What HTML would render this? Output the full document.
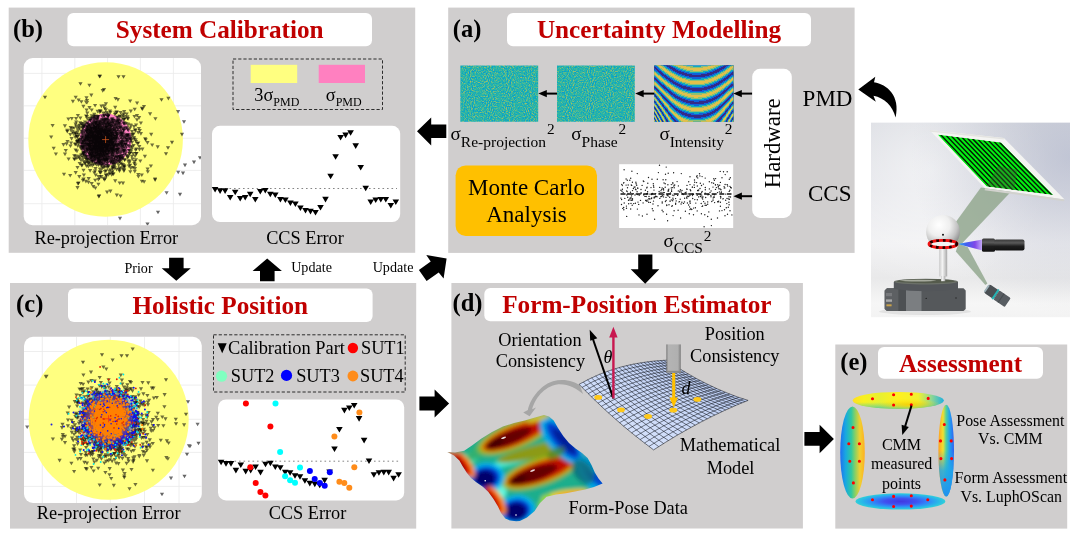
<!DOCTYPE html>
<html><head><meta charset="utf-8"><title>Framework</title>
<style>html,body{margin:0;padding:0;background:#fff;}svg{display:block;will-change:transform}text{font-family:"Liberation Serif",serif;}</style>
</head><body>
<svg width="1080" height="537" viewBox="0 0 1080 537">
<rect width="1080" height="537" fill="#fff"/>
<rect x="8.7" y="7.6" width="406.5" height="245.2" rx="0" fill="#D0CECE" />
<rect x="448.2" y="7.6" width="406.4" height="245.3" rx="0" fill="#D0CECE" />
<rect x="10.0" y="283.0" width="406.2" height="245.6" rx="0" fill="#D0CECE" />
<rect x="451.4" y="283.0" width="351.5" height="245.5" rx="0" fill="#D0CECE" />
<rect x="835.3" y="344.5" width="231.9" height="184.1" rx="0" fill="#D0CECE" />
<rect x="67.4" y="13.0" width="304.6" height="33.3" rx="6" fill="#fff" />
<text x="219.7" y="38.2" font-size="25.2" text-anchor="middle" font-weight="bold" fill="#C00000" >System Calibration</text>
<rect x="507.0" y="13.0" width="304.0" height="33.3" rx="6" fill="#fff" />
<text x="659.0" y="38.2" font-size="25.2" text-anchor="middle" font-weight="bold" fill="#C00000" >Uncertainty Modelling</text>
<rect x="68.0" y="288.5" width="304.6" height="33.5" rx="6" fill="#fff" />
<text x="220.3" y="313.9" font-size="25.2" text-anchor="middle" font-weight="bold" fill="#C00000" >Holistic Position</text>
<rect x="484.3" y="288.0" width="305.2" height="33.2" rx="6" fill="#fff" />
<text x="636.9" y="313.2" font-size="25.2" text-anchor="middle" font-weight="bold" fill="#C00000" >Form-Position Estimator</text>
<rect x="878.0" y="347.0" width="165.0" height="31.7" rx="6" fill="#fff" />
<text x="960.5" y="371.8" font-size="25.2" text-anchor="middle" font-weight="bold" fill="#C00000" >Assessment</text>
<text x="13.0" y="36.8" font-size="24.5" text-anchor="start" font-weight="bold" fill="#000" >(b)</text>
<text x="452.8" y="36.5" font-size="24.5" text-anchor="start" font-weight="bold" fill="#000" >(a)</text>
<text x="16.1" y="312.3" font-size="24.5" text-anchor="start" font-weight="bold" fill="#000" >(c)</text>
<text x="452.5" y="311.2" font-size="24.5" text-anchor="start" font-weight="bold" fill="#000" >(d)</text>
<text x="840.3" y="370.2" font-size="24.5" text-anchor="start" font-weight="bold" fill="#000" >(e)</text>
<clipPath id="scb"><rect x="23.7" y="58" width="177.3" height="167.2" rx="9"/></clipPath>
<rect x="23.7" y="58.0" width="177.3" height="167.2" rx="9" fill="#fff" />
<g clip-path="url(#scb)">
<path d="M41.9 58V225.2M74.8 58V225.2M107.6 58V225.2M140.4 58V225.2M173.4 58V225.2M23.7 73.4H201M23.7 105.8H201M23.7 138.2H201M23.7 170.4H201M23.7 203.7H201" stroke="#EAEAEA" stroke-width="0.8" fill="none"/>
<circle cx="105.6" cy="139.5" r="77.3" fill="#FFFF80"/>
<circle cx="105.6" cy="139.6" r="26" fill="#FF80C0"/>
<path d="M85.4 142.5h4.2l-2.1 3.6zM106.8 133.6h4.2l-2.1 3.6zM84.4 138.0h4.2l-2.1 3.6zM101.8 149.7h4.2l-2.1 3.6zM85.5 125.8h4.2l-2.1 3.6zM104.0 143.4h4.2l-2.1 3.6zM111.9 148.5h4.2l-2.1 3.6zM96.2 136.0h4.2l-2.1 3.6zM121.9 135.8h4.2l-2.1 3.6zM89.7 127.3h4.2l-2.1 3.6zM98.1 140.2h4.2l-2.1 3.6zM93.9 138.1h4.2l-2.1 3.6zM99.8 145.6h4.2l-2.1 3.6zM107.7 140.8h4.2l-2.1 3.6zM80.0 145.7h4.2l-2.1 3.6zM83.6 137.0h4.2l-2.1 3.6zM83.1 138.7h4.2l-2.1 3.6zM89.7 140.8h4.2l-2.1 3.6zM128.9 138.2h4.2l-2.1 3.6zM105.3 125.5h4.2l-2.1 3.6zM94.4 145.3h4.2l-2.1 3.6zM96.3 142.4h4.2l-2.1 3.6zM98.2 128.6h4.2l-2.1 3.6zM102.6 130.6h4.2l-2.1 3.6zM115.2 133.6h4.2l-2.1 3.6zM103.8 138.7h4.2l-2.1 3.6zM106.3 132.7h4.2l-2.1 3.6zM106.8 137.5h4.2l-2.1 3.6zM109.3 144.9h4.2l-2.1 3.6zM98.6 130.9h4.2l-2.1 3.6zM104.6 143.4h4.2l-2.1 3.6zM113.0 134.9h4.2l-2.1 3.6zM102.5 143.8h4.2l-2.1 3.6zM99.9 140.8h4.2l-2.1 3.6zM98.9 132.7h4.2l-2.1 3.6zM87.5 134.7h4.2l-2.1 3.6zM102.9 153.8h4.2l-2.1 3.6zM106.6 149.2h4.2l-2.1 3.6zM104.7 145.7h4.2l-2.1 3.6zM99.0 146.4h4.2l-2.1 3.6zM114.2 135.4h4.2l-2.1 3.6zM90.5 158.3h4.2l-2.1 3.6zM99.5 148.4h4.2l-2.1 3.6zM105.6 127.3h4.2l-2.1 3.6zM120.6 156.5h4.2l-2.1 3.6zM98.9 146.2h4.2l-2.1 3.6zM98.4 129.9h4.2l-2.1 3.6zM96.1 142.4h4.2l-2.1 3.6zM107.9 145.8h4.2l-2.1 3.6zM97.8 152.2h4.2l-2.1 3.6zM89.9 146.6h4.2l-2.1 3.6zM107.9 135.8h4.2l-2.1 3.6zM80.0 129.6h4.2l-2.1 3.6zM99.5 144.0h4.2l-2.1 3.6zM112.1 128.7h4.2l-2.1 3.6zM97.2 145.2h4.2l-2.1 3.6zM95.7 115.0h4.2l-2.1 3.6zM104.9 161.8h4.2l-2.1 3.6zM106.8 129.5h4.2l-2.1 3.6zM93.2 140.9h4.2l-2.1 3.6zM121.1 144.9h4.2l-2.1 3.6zM98.3 154.3h4.2l-2.1 3.6zM96.4 157.3h4.2l-2.1 3.6zM90.6 134.0h4.2l-2.1 3.6zM104.1 152.9h4.2l-2.1 3.6zM103.5 141.7h4.2l-2.1 3.6zM79.7 131.6h4.2l-2.1 3.6zM91.3 133.4h4.2l-2.1 3.6zM102.8 135.3h4.2l-2.1 3.6zM104.8 139.5h4.2l-2.1 3.6zM94.0 139.9h4.2l-2.1 3.6zM101.3 147.3h4.2l-2.1 3.6zM92.6 136.4h4.2l-2.1 3.6zM84.1 154.7h4.2l-2.1 3.6zM111.1 136.9h4.2l-2.1 3.6zM92.6 126.3h4.2l-2.1 3.6zM98.8 140.8h4.2l-2.1 3.6zM118.1 141.2h4.2l-2.1 3.6zM89.7 114.3h4.2l-2.1 3.6zM110.7 140.6h4.2l-2.1 3.6zM81.8 140.5h4.2l-2.1 3.6zM81.8 173.5h4.2l-2.1 3.6zM107.9 144.4h4.2l-2.1 3.6zM95.5 117.3h4.2l-2.1 3.6zM96.0 123.2h4.2l-2.1 3.6zM102.9 117.3h4.2l-2.1 3.6zM88.5 150.9h4.2l-2.1 3.6zM113.0 126.9h4.2l-2.1 3.6zM82.5 147.5h4.2l-2.1 3.6zM105.4 128.8h4.2l-2.1 3.6zM90.5 131.8h4.2l-2.1 3.6zM85.8 131.9h4.2l-2.1 3.6zM109.2 145.6h4.2l-2.1 3.6zM116.9 137.8h4.2l-2.1 3.6zM95.9 128.9h4.2l-2.1 3.6zM96.0 125.6h4.2l-2.1 3.6zM80.1 145.7h4.2l-2.1 3.6zM111.0 147.1h4.2l-2.1 3.6zM110.0 141.2h4.2l-2.1 3.6zM90.3 139.6h4.2l-2.1 3.6zM93.6 127.6h4.2l-2.1 3.6zM81.0 123.9h4.2l-2.1 3.6zM97.1 140.2h4.2l-2.1 3.6zM92.6 153.0h4.2l-2.1 3.6zM98.9 144.5h4.2l-2.1 3.6zM108.9 130.5h4.2l-2.1 3.6zM78.3 146.2h4.2l-2.1 3.6zM90.6 151.8h4.2l-2.1 3.6zM100.4 148.8h4.2l-2.1 3.6zM104.5 117.9h4.2l-2.1 3.6zM104.1 132.0h4.2l-2.1 3.6zM89.9 134.3h4.2l-2.1 3.6zM104.6 147.5h4.2l-2.1 3.6zM106.9 122.1h4.2l-2.1 3.6zM91.5 114.9h4.2l-2.1 3.6zM96.2 144.7h4.2l-2.1 3.6zM89.9 141.1h4.2l-2.1 3.6zM99.4 148.8h4.2l-2.1 3.6zM89.3 130.4h4.2l-2.1 3.6zM89.9 156.2h4.2l-2.1 3.6zM107.7 137.5h4.2l-2.1 3.6zM99.4 139.8h4.2l-2.1 3.6zM99.1 136.6h4.2l-2.1 3.6zM94.0 126.1h4.2l-2.1 3.6zM91.0 155.2h4.2l-2.1 3.6zM102.4 139.3h4.2l-2.1 3.6zM95.1 139.3h4.2l-2.1 3.6zM100.6 132.2h4.2l-2.1 3.6zM99.1 141.1h4.2l-2.1 3.6zM90.0 130.8h4.2l-2.1 3.6zM87.6 128.1h4.2l-2.1 3.6zM105.7 115.1h4.2l-2.1 3.6zM94.6 132.6h4.2l-2.1 3.6zM91.2 139.7h4.2l-2.1 3.6zM108.0 139.5h4.2l-2.1 3.6zM95.9 132.6h4.2l-2.1 3.6zM96.0 147.8h4.2l-2.1 3.6zM93.4 127.2h4.2l-2.1 3.6zM85.1 127.6h4.2l-2.1 3.6zM83.9 149.7h4.2l-2.1 3.6zM100.6 136.3h4.2l-2.1 3.6zM111.2 132.1h4.2l-2.1 3.6zM104.4 146.7h4.2l-2.1 3.6zM82.4 123.1h4.2l-2.1 3.6zM88.3 147.8h4.2l-2.1 3.6zM109.6 126.4h4.2l-2.1 3.6zM107.3 134.9h4.2l-2.1 3.6zM93.4 133.2h4.2l-2.1 3.6zM94.1 120.5h4.2l-2.1 3.6zM87.6 126.3h4.2l-2.1 3.6zM101.9 159.6h4.2l-2.1 3.6zM123.4 135.3h4.2l-2.1 3.6zM80.7 134.6h4.2l-2.1 3.6zM88.2 158.5h4.2l-2.1 3.6zM102.7 131.4h4.2l-2.1 3.6zM106.2 144.1h4.2l-2.1 3.6zM81.6 133.4h4.2l-2.1 3.6zM94.9 138.9h4.2l-2.1 3.6zM98.5 135.3h4.2l-2.1 3.6zM99.0 132.8h4.2l-2.1 3.6zM88.6 153.9h4.2l-2.1 3.6zM100.7 143.1h4.2l-2.1 3.6zM81.9 137.0h4.2l-2.1 3.6zM105.1 125.8h4.2l-2.1 3.6zM107.7 134.8h4.2l-2.1 3.6zM101.1 137.4h4.2l-2.1 3.6zM99.3 150.7h4.2l-2.1 3.6zM93.3 154.3h4.2l-2.1 3.6zM89.7 129.4h4.2l-2.1 3.6zM104.0 128.0h4.2l-2.1 3.6zM93.6 147.8h4.2l-2.1 3.6zM108.8 121.0h4.2l-2.1 3.6zM102.1 157.5h4.2l-2.1 3.6zM108.7 136.3h4.2l-2.1 3.6zM91.4 135.7h4.2l-2.1 3.6zM86.1 136.1h4.2l-2.1 3.6zM95.4 137.2h4.2l-2.1 3.6zM108.6 136.4h4.2l-2.1 3.6zM83.2 149.2h4.2l-2.1 3.6zM86.9 134.2h4.2l-2.1 3.6zM95.9 135.3h4.2l-2.1 3.6zM87.6 136.2h4.2l-2.1 3.6zM118.2 132.6h4.2l-2.1 3.6zM95.9 149.9h4.2l-2.1 3.6zM104.3 146.3h4.2l-2.1 3.6zM105.5 119.0h4.2l-2.1 3.6zM88.9 140.0h4.2l-2.1 3.6zM102.0 151.6h4.2l-2.1 3.6zM101.7 136.3h4.2l-2.1 3.6zM97.6 136.6h4.2l-2.1 3.6zM99.6 145.4h4.2l-2.1 3.6zM93.9 130.6h4.2l-2.1 3.6zM89.0 149.7h4.2l-2.1 3.6zM109.5 148.6h4.2l-2.1 3.6zM105.4 147.0h4.2l-2.1 3.6zM97.2 145.3h4.2l-2.1 3.6zM87.1 136.7h4.2l-2.1 3.6zM90.2 146.0h4.2l-2.1 3.6zM91.6 137.6h4.2l-2.1 3.6zM101.0 152.2h4.2l-2.1 3.6zM89.6 129.3h4.2l-2.1 3.6zM105.0 127.6h4.2l-2.1 3.6zM101.5 133.0h4.2l-2.1 3.6zM96.2 120.5h4.2l-2.1 3.6zM104.0 133.7h4.2l-2.1 3.6zM88.6 159.5h4.2l-2.1 3.6zM104.0 173.8h4.2l-2.1 3.6zM101.1 135.2h4.2l-2.1 3.6zM98.2 154.8h4.2l-2.1 3.6zM96.9 143.2h4.2l-2.1 3.6zM102.2 129.6h4.2l-2.1 3.6zM98.4 133.7h4.2l-2.1 3.6zM85.2 147.4h4.2l-2.1 3.6zM103.6 139.4h4.2l-2.1 3.6zM88.5 118.6h4.2l-2.1 3.6zM101.9 137.7h4.2l-2.1 3.6zM81.0 138.1h4.2l-2.1 3.6zM82.6 138.4h4.2l-2.1 3.6zM98.6 142.2h4.2l-2.1 3.6zM99.3 140.4h4.2l-2.1 3.6zM86.3 134.9h4.2l-2.1 3.6zM92.3 136.3h4.2l-2.1 3.6zM99.8 144.9h4.2l-2.1 3.6zM112.9 113.0h4.2l-2.1 3.6zM101.1 136.7h4.2l-2.1 3.6zM119.1 148.0h4.2l-2.1 3.6zM81.3 142.7h4.2l-2.1 3.6zM92.2 148.6h4.2l-2.1 3.6zM87.1 137.7h4.2l-2.1 3.6zM95.9 137.7h4.2l-2.1 3.6zM91.6 120.3h4.2l-2.1 3.6zM101.6 148.7h4.2l-2.1 3.6zM96.5 128.5h4.2l-2.1 3.6zM99.1 144.4h4.2l-2.1 3.6zM95.5 138.6h4.2l-2.1 3.6zM110.7 127.5h4.2l-2.1 3.6zM91.8 119.6h4.2l-2.1 3.6zM90.5 131.3h4.2l-2.1 3.6zM88.0 131.8h4.2l-2.1 3.6zM114.5 136.7h4.2l-2.1 3.6zM96.1 160.7h4.2l-2.1 3.6zM96.6 121.4h4.2l-2.1 3.6zM101.1 129.3h4.2l-2.1 3.6zM112.9 126.2h4.2l-2.1 3.6zM91.6 122.6h4.2l-2.1 3.6zM98.1 128.5h4.2l-2.1 3.6zM96.6 134.9h4.2l-2.1 3.6zM91.3 148.1h4.2l-2.1 3.6zM106.2 139.3h4.2l-2.1 3.6zM88.6 128.0h4.2l-2.1 3.6zM99.8 162.6h4.2l-2.1 3.6zM92.8 130.9h4.2l-2.1 3.6zM90.5 127.7h4.2l-2.1 3.6zM87.9 136.6h4.2l-2.1 3.6zM111.0 138.7h4.2l-2.1 3.6zM92.3 122.6h4.2l-2.1 3.6zM99.2 138.4h4.2l-2.1 3.6zM85.4 127.8h4.2l-2.1 3.6zM96.8 148.8h4.2l-2.1 3.6zM103.2 140.8h4.2l-2.1 3.6zM94.1 141.9h4.2l-2.1 3.6zM97.1 160.4h4.2l-2.1 3.6zM86.3 135.0h4.2l-2.1 3.6zM109.4 136.0h4.2l-2.1 3.6zM110.9 138.3h4.2l-2.1 3.6zM98.6 135.0h4.2l-2.1 3.6zM83.9 129.0h4.2l-2.1 3.6zM118.5 145.2h4.2l-2.1 3.6zM103.0 148.2h4.2l-2.1 3.6zM102.7 148.9h4.2l-2.1 3.6zM94.6 136.5h4.2l-2.1 3.6zM106.6 135.2h4.2l-2.1 3.6zM84.4 136.4h4.2l-2.1 3.6zM92.0 144.8h4.2l-2.1 3.6zM90.3 128.1h4.2l-2.1 3.6zM94.0 154.2h4.2l-2.1 3.6zM96.7 140.3h4.2l-2.1 3.6zM97.3 141.7h4.2l-2.1 3.6zM106.1 152.7h4.2l-2.1 3.6zM81.4 152.3h4.2l-2.1 3.6zM97.2 135.5h4.2l-2.1 3.6zM120.2 137.0h4.2l-2.1 3.6zM115.9 148.4h4.2l-2.1 3.6zM87.3 143.6h4.2l-2.1 3.6zM104.3 137.4h4.2l-2.1 3.6zM74.9 135.3h4.2l-2.1 3.6zM95.4 127.6h4.2l-2.1 3.6zM114.7 136.3h4.2l-2.1 3.6zM93.4 135.7h4.2l-2.1 3.6zM89.7 130.9h4.2l-2.1 3.6zM106.2 147.2h4.2l-2.1 3.6zM96.3 140.1h4.2l-2.1 3.6zM81.8 150.8h4.2l-2.1 3.6zM92.3 145.5h4.2l-2.1 3.6zM89.7 132.7h4.2l-2.1 3.6zM108.2 120.5h4.2l-2.1 3.6zM145.4 141.1h4.2l-2.1 3.6zM103.5 128.8h4.2l-2.1 3.6zM131.0 166.0h4.2l-2.1 3.6zM109.6 117.8h4.2l-2.1 3.6zM96.4 152.5h4.2l-2.1 3.6zM96.3 121.0h4.2l-2.1 3.6zM85.1 128.2h4.2l-2.1 3.6zM104.9 130.3h4.2l-2.1 3.6zM105.0 190.6h4.2l-2.1 3.6zM134.0 123.5h4.2l-2.1 3.6zM110.4 143.2h4.2l-2.1 3.6zM102.4 160.0h4.2l-2.1 3.6zM99.2 136.0h4.2l-2.1 3.6zM98.5 139.9h4.2l-2.1 3.6zM125.9 155.3h4.2l-2.1 3.6zM82.6 134.0h4.2l-2.1 3.6zM91.5 156.0h4.2l-2.1 3.6zM108.4 157.3h4.2l-2.1 3.6zM103.7 108.3h4.2l-2.1 3.6zM112.1 145.7h4.2l-2.1 3.6zM113.1 118.9h4.2l-2.1 3.6zM106.0 129.7h4.2l-2.1 3.6zM93.4 147.9h4.2l-2.1 3.6zM110.5 126.1h4.2l-2.1 3.6zM76.5 98.4h4.2l-2.1 3.6zM95.2 161.3h4.2l-2.1 3.6zM103.8 102.3h4.2l-2.1 3.6zM90.5 149.1h4.2l-2.1 3.6zM132.3 162.1h4.2l-2.1 3.6zM110.8 145.2h4.2l-2.1 3.6zM87.2 133.8h4.2l-2.1 3.6zM99.2 128.2h4.2l-2.1 3.6zM105.7 134.8h4.2l-2.1 3.6zM110.3 166.8h4.2l-2.1 3.6zM116.9 149.0h4.2l-2.1 3.6zM100.7 115.1h4.2l-2.1 3.6zM102.8 151.2h4.2l-2.1 3.6zM88.1 163.6h4.2l-2.1 3.6zM99.2 148.2h4.2l-2.1 3.6zM99.3 119.7h4.2l-2.1 3.6zM138.8 121.4h4.2l-2.1 3.6zM119.9 132.0h4.2l-2.1 3.6zM109.3 127.6h4.2l-2.1 3.6zM97.8 157.8h4.2l-2.1 3.6zM136.8 126.9h4.2l-2.1 3.6zM104.9 158.3h4.2l-2.1 3.6zM94.3 154.1h4.2l-2.1 3.6zM91.8 152.3h4.2l-2.1 3.6zM111.9 162.9h4.2l-2.1 3.6zM110.7 120.8h4.2l-2.1 3.6zM115.7 122.4h4.2l-2.1 3.6zM117.1 168.1h4.2l-2.1 3.6zM114.5 132.0h4.2l-2.1 3.6zM124.4 144.6h4.2l-2.1 3.6zM84.2 135.5h4.2l-2.1 3.6zM128.1 136.4h4.2l-2.1 3.6zM106.7 135.7h4.2l-2.1 3.6zM76.9 132.8h4.2l-2.1 3.6zM110.6 145.3h4.2l-2.1 3.6zM101.8 104.3h4.2l-2.1 3.6zM124.9 154.3h4.2l-2.1 3.6zM121.6 164.5h4.2l-2.1 3.6zM97.4 131.1h4.2l-2.1 3.6zM109.9 171.0h4.2l-2.1 3.6zM76.9 137.7h4.2l-2.1 3.6zM92.9 151.5h4.2l-2.1 3.6zM128.9 136.5h4.2l-2.1 3.6zM84.2 142.6h4.2l-2.1 3.6zM100.0 114.7h4.2l-2.1 3.6zM119.3 132.5h4.2l-2.1 3.6zM116.0 118.7h4.2l-2.1 3.6zM122.8 116.5h4.2l-2.1 3.6zM122.1 110.0h4.2l-2.1 3.6zM127.5 135.1h4.2l-2.1 3.6zM79.0 137.6h4.2l-2.1 3.6zM110.3 124.4h4.2l-2.1 3.6zM96.6 146.4h4.2l-2.1 3.6zM101.9 88.1h4.2l-2.1 3.6zM97.6 149.2h4.2l-2.1 3.6zM109.6 159.4h4.2l-2.1 3.6zM93.3 186.4h4.2l-2.1 3.6zM117.9 147.2h4.2l-2.1 3.6zM122.6 158.4h4.2l-2.1 3.6zM106.4 130.8h4.2l-2.1 3.6zM121.6 149.1h4.2l-2.1 3.6zM73.5 122.4h4.2l-2.1 3.6zM112.4 143.6h4.2l-2.1 3.6zM109.3 152.9h4.2l-2.1 3.6zM107.1 169.4h4.2l-2.1 3.6zM95.0 134.7h4.2l-2.1 3.6zM110.0 154.7h4.2l-2.1 3.6zM117.7 167.7h4.2l-2.1 3.6zM96.8 162.1h4.2l-2.1 3.6zM112.4 123.5h4.2l-2.1 3.6zM102.4 178.2h4.2l-2.1 3.6zM117.7 133.5h4.2l-2.1 3.6zM65.1 128.8h4.2l-2.1 3.6zM93.1 143.0h4.2l-2.1 3.6zM142.8 154.8h4.2l-2.1 3.6zM109.9 125.3h4.2l-2.1 3.6zM85.1 138.1h4.2l-2.1 3.6zM97.0 194.3h4.2l-2.1 3.6zM98.0 130.9h4.2l-2.1 3.6zM123.3 143.1h4.2l-2.1 3.6zM84.3 164.3h4.2l-2.1 3.6zM99.6 118.4h4.2l-2.1 3.6zM110.0 150.2h4.2l-2.1 3.6zM99.1 153.9h4.2l-2.1 3.6zM118.2 126.3h4.2l-2.1 3.6zM70.8 99.8h4.2l-2.1 3.6zM102.6 163.2h4.2l-2.1 3.6zM121.2 166.1h4.2l-2.1 3.6zM135.3 142.0h4.2l-2.1 3.6zM122.1 114.9h4.2l-2.1 3.6zM116.1 148.6h4.2l-2.1 3.6zM103.1 134.0h4.2l-2.1 3.6zM86.3 144.2h4.2l-2.1 3.6zM125.8 135.3h4.2l-2.1 3.6zM113.5 130.1h4.2l-2.1 3.6zM108.9 124.1h4.2l-2.1 3.6zM110.9 137.9h4.2l-2.1 3.6zM109.9 131.1h4.2l-2.1 3.6zM85.3 135.9h4.2l-2.1 3.6zM121.8 169.3h4.2l-2.1 3.6zM99.3 155.7h4.2l-2.1 3.6zM117.2 148.6h4.2l-2.1 3.6zM79.1 147.4h4.2l-2.1 3.6zM88.7 162.3h4.2l-2.1 3.6zM117.7 152.5h4.2l-2.1 3.6zM62.9 152.6h4.2l-2.1 3.6zM116.2 119.3h4.2l-2.1 3.6zM120.7 143.0h4.2l-2.1 3.6zM101.7 129.2h4.2l-2.1 3.6zM87.9 134.1h4.2l-2.1 3.6zM155.6 145.3h4.2l-2.1 3.6zM108.1 130.4h4.2l-2.1 3.6zM94.5 132.0h4.2l-2.1 3.6zM90.1 157.0h4.2l-2.1 3.6zM100.2 156.9h4.2l-2.1 3.6zM85.6 158.0h4.2l-2.1 3.6zM104.3 153.4h4.2l-2.1 3.6zM103.0 126.2h4.2l-2.1 3.6zM124.7 134.1h4.2l-2.1 3.6zM102.3 126.2h4.2l-2.1 3.6zM108.1 134.9h4.2l-2.1 3.6zM109.4 147.7h4.2l-2.1 3.6zM93.3 117.0h4.2l-2.1 3.6zM111.8 157.8h4.2l-2.1 3.6zM116.2 121.7h4.2l-2.1 3.6zM114.7 148.4h4.2l-2.1 3.6zM109.4 149.2h4.2l-2.1 3.6zM99.4 145.5h4.2l-2.1 3.6zM120.0 132.9h4.2l-2.1 3.6zM80.9 139.9h4.2l-2.1 3.6zM107.9 109.4h4.2l-2.1 3.6zM93.5 152.0h4.2l-2.1 3.6zM102.2 143.3h4.2l-2.1 3.6zM83.9 157.6h4.2l-2.1 3.6zM133.6 138.2h4.2l-2.1 3.6zM92.6 121.4h4.2l-2.1 3.6zM119.4 143.5h4.2l-2.1 3.6zM91.6 162.9h4.2l-2.1 3.6zM117.3 152.3h4.2l-2.1 3.6zM75.7 139.9h4.2l-2.1 3.6zM115.0 120.3h4.2l-2.1 3.6zM120.0 166.7h4.2l-2.1 3.6zM121.8 129.1h4.2l-2.1 3.6zM93.0 158.2h4.2l-2.1 3.6zM121.1 163.2h4.2l-2.1 3.6zM124.5 140.0h4.2l-2.1 3.6zM97.9 109.2h4.2l-2.1 3.6zM117.6 181.5h4.2l-2.1 3.6zM97.1 133.4h4.2l-2.1 3.6zM115.4 148.2h4.2l-2.1 3.6zM82.1 129.2h4.2l-2.1 3.6zM86.6 177.1h4.2l-2.1 3.6zM92.9 156.6h4.2l-2.1 3.6zM136.3 174.9h4.2l-2.1 3.6zM128.2 170.2h4.2l-2.1 3.6zM84.3 135.7h4.2l-2.1 3.6zM92.7 136.6h4.2l-2.1 3.6zM148.0 112.3h4.2l-2.1 3.6zM113.9 120.1h4.2l-2.1 3.6zM126.8 164.4h4.2l-2.1 3.6zM96.3 177.9h4.2l-2.1 3.6zM105.9 164.5h4.2l-2.1 3.6zM109.8 131.9h4.2l-2.1 3.6zM98.4 139.6h4.2l-2.1 3.6zM114.9 143.9h4.2l-2.1 3.6zM143.6 138.3h4.2l-2.1 3.6zM97.0 129.1h4.2l-2.1 3.6zM91.9 116.5h4.2l-2.1 3.6zM88.4 157.6h4.2l-2.1 3.6zM105.7 138.7h4.2l-2.1 3.6zM110.5 160.4h4.2l-2.1 3.6zM114.9 155.2h4.2l-2.1 3.6zM95.5 137.1h4.2l-2.1 3.6zM91.9 140.0h4.2l-2.1 3.6zM91.2 135.2h4.2l-2.1 3.6zM101.8 137.9h4.2l-2.1 3.6zM100.3 133.1h4.2l-2.1 3.6zM126.3 135.7h4.2l-2.1 3.6zM88.0 145.1h4.2l-2.1 3.6zM86.7 122.9h4.2l-2.1 3.6zM106.1 112.5h4.2l-2.1 3.6zM51.6 146.7h4.2l-2.1 3.6zM121.8 112.5h4.2l-2.1 3.6zM89.9 151.8h4.2l-2.1 3.6zM71.9 126.4h4.2l-2.1 3.6zM84.8 138.2h4.2l-2.1 3.6zM72.1 157.4h4.2l-2.1 3.6zM102.3 147.0h4.2l-2.1 3.6zM99.3 104.6h4.2l-2.1 3.6zM102.2 118.2h4.2l-2.1 3.6zM104.9 126.8h4.2l-2.1 3.6zM99.5 138.0h4.2l-2.1 3.6zM117.4 155.1h4.2l-2.1 3.6zM88.1 141.4h4.2l-2.1 3.6zM128.8 150.3h4.2l-2.1 3.6zM87.8 145.3h4.2l-2.1 3.6zM99.3 175.1h4.2l-2.1 3.6zM110.7 159.2h4.2l-2.1 3.6zM176.0 110.1h4.2l-2.1 3.6zM79.3 100.2h4.2l-2.1 3.6zM61.9 172.7h4.2l-2.1 3.6zM118.5 194.4h4.2l-2.1 3.6zM50.5 124.0h4.2l-2.1 3.6zM153.0 177.5h4.2l-2.1 3.6zM136.2 173.1h4.2l-2.1 3.6zM110.7 148.4h4.2l-2.1 3.6zM110.7 172.3h4.2l-2.1 3.6zM104.8 157.7h4.2l-2.1 3.6zM153.3 117.2h4.2l-2.1 3.6z" fill="#000" fill-opacity="0.56"/>
<path d="M90.0 144.3h4.2l-2.1 3.6zM94.7 137.1h4.2l-2.1 3.6zM117.3 142.9h4.2l-2.1 3.6zM93.2 149.7h4.2l-2.1 3.6zM121.4 127.6h4.2l-2.1 3.6zM90.8 139.9h4.2l-2.1 3.6zM91.1 160.4h4.2l-2.1 3.6zM102.2 134.7h4.2l-2.1 3.6zM101.9 130.7h4.2l-2.1 3.6zM91.4 139.8h4.2l-2.1 3.6zM120.1 116.2h4.2l-2.1 3.6zM101.2 152.2h4.2l-2.1 3.6zM104.3 157.9h4.2l-2.1 3.6zM101.5 140.2h4.2l-2.1 3.6zM95.9 130.1h4.2l-2.1 3.6zM112.9 126.9h4.2l-2.1 3.6zM96.0 133.5h4.2l-2.1 3.6zM89.7 116.5h4.2l-2.1 3.6zM93.5 140.1h4.2l-2.1 3.6zM98.6 147.1h4.2l-2.1 3.6zM95.6 132.3h4.2l-2.1 3.6zM100.2 145.3h4.2l-2.1 3.6zM88.5 123.5h4.2l-2.1 3.6zM87.4 149.3h4.2l-2.1 3.6zM106.8 129.8h4.2l-2.1 3.6zM98.3 147.1h4.2l-2.1 3.6zM110.0 132.1h4.2l-2.1 3.6zM94.9 152.8h4.2l-2.1 3.6zM120.3 154.0h4.2l-2.1 3.6zM86.2 143.2h4.2l-2.1 3.6zM94.3 138.1h4.2l-2.1 3.6zM90.8 133.9h4.2l-2.1 3.6zM97.1 156.7h4.2l-2.1 3.6zM103.9 143.0h4.2l-2.1 3.6zM97.5 131.2h4.2l-2.1 3.6zM95.0 151.1h4.2l-2.1 3.6zM105.2 158.3h4.2l-2.1 3.6zM99.7 138.5h4.2l-2.1 3.6zM81.7 142.7h4.2l-2.1 3.6zM80.7 154.0h4.2l-2.1 3.6zM91.2 138.7h4.2l-2.1 3.6zM84.2 133.7h4.2l-2.1 3.6zM88.3 150.0h4.2l-2.1 3.6zM99.6 126.9h4.2l-2.1 3.6zM78.7 138.0h4.2l-2.1 3.6zM92.5 127.6h4.2l-2.1 3.6zM102.9 136.8h4.2l-2.1 3.6zM98.3 132.8h4.2l-2.1 3.6zM91.7 134.1h4.2l-2.1 3.6zM81.8 145.0h4.2l-2.1 3.6zM101.1 121.5h4.2l-2.1 3.6zM98.2 150.2h4.2l-2.1 3.6zM99.5 151.7h4.2l-2.1 3.6zM94.6 138.7h4.2l-2.1 3.6zM84.7 129.6h4.2l-2.1 3.6zM79.7 129.7h4.2l-2.1 3.6zM99.5 143.9h4.2l-2.1 3.6zM108.4 140.0h4.2l-2.1 3.6zM87.7 143.0h4.2l-2.1 3.6zM95.8 156.5h4.2l-2.1 3.6zM116.0 148.3h4.2l-2.1 3.6zM86.3 133.4h4.2l-2.1 3.6zM99.0 131.6h4.2l-2.1 3.6zM102.2 145.6h4.2l-2.1 3.6zM105.2 141.0h4.2l-2.1 3.6zM88.7 130.3h4.2l-2.1 3.6zM96.0 152.0h4.2l-2.1 3.6zM112.3 148.5h4.2l-2.1 3.6zM100.7 145.5h4.2l-2.1 3.6zM105.1 151.6h4.2l-2.1 3.6zM105.4 123.3h4.2l-2.1 3.6zM106.4 142.6h4.2l-2.1 3.6zM92.8 144.0h4.2l-2.1 3.6zM100.0 138.2h4.2l-2.1 3.6zM81.0 139.8h4.2l-2.1 3.6zM102.5 138.2h4.2l-2.1 3.6zM82.0 143.3h4.2l-2.1 3.6zM104.1 140.5h4.2l-2.1 3.6zM101.3 135.2h4.2l-2.1 3.6zM90.9 143.9h4.2l-2.1 3.6zM93.8 140.5h4.2l-2.1 3.6zM128.5 145.8h4.2l-2.1 3.6zM98.5 122.5h4.2l-2.1 3.6zM98.1 146.3h4.2l-2.1 3.6zM90.4 136.3h4.2l-2.1 3.6zM75.6 144.3h4.2l-2.1 3.6zM91.5 145.5h4.2l-2.1 3.6zM110.3 137.1h4.2l-2.1 3.6zM106.7 141.2h4.2l-2.1 3.6zM95.2 135.9h4.2l-2.1 3.6zM89.0 151.5h4.2l-2.1 3.6zM105.7 128.6h4.2l-2.1 3.6zM105.3 131.4h4.2l-2.1 3.6zM82.8 150.7h4.2l-2.1 3.6zM84.9 150.5h4.2l-2.1 3.6zM99.1 147.7h4.2l-2.1 3.6zM102.1 150.2h4.2l-2.1 3.6zM100.5 144.5h4.2l-2.1 3.6zM99.6 149.7h4.2l-2.1 3.6zM93.4 148.9h4.2l-2.1 3.6zM111.7 138.1h4.2l-2.1 3.6zM101.4 133.6h4.2l-2.1 3.6zM94.4 141.3h4.2l-2.1 3.6zM93.9 129.8h4.2l-2.1 3.6zM96.9 140.6h4.2l-2.1 3.6zM100.3 145.8h4.2l-2.1 3.6zM80.2 152.8h4.2l-2.1 3.6zM95.6 131.0h4.2l-2.1 3.6zM93.6 143.1h4.2l-2.1 3.6zM105.6 135.0h4.2l-2.1 3.6zM98.7 122.7h4.2l-2.1 3.6zM98.8 137.6h4.2l-2.1 3.6zM93.1 147.6h4.2l-2.1 3.6zM114.4 149.0h4.2l-2.1 3.6zM89.7 154.0h4.2l-2.1 3.6zM94.0 138.3h4.2l-2.1 3.6zM91.6 143.3h4.2l-2.1 3.6zM102.5 140.2h4.2l-2.1 3.6zM95.2 137.3h4.2l-2.1 3.6zM93.4 148.4h4.2l-2.1 3.6zM92.2 137.2h4.2l-2.1 3.6zM95.2 131.2h4.2l-2.1 3.6zM95.0 124.1h4.2l-2.1 3.6zM101.1 144.1h4.2l-2.1 3.6zM94.3 154.2h4.2l-2.1 3.6zM89.3 144.2h4.2l-2.1 3.6zM101.8 133.4h4.2l-2.1 3.6zM94.9 147.6h4.2l-2.1 3.6zM97.8 141.5h4.2l-2.1 3.6zM110.6 140.9h4.2l-2.1 3.6zM81.2 131.4h4.2l-2.1 3.6zM105.2 137.4h4.2l-2.1 3.6zM86.9 119.0h4.2l-2.1 3.6zM100.3 153.6h4.2l-2.1 3.6zM85.2 117.1h4.2l-2.1 3.6zM102.0 133.3h4.2l-2.1 3.6zM94.4 135.5h4.2l-2.1 3.6zM88.6 143.1h4.2l-2.1 3.6zM106.0 142.3h4.2l-2.1 3.6zM91.9 149.0h4.2l-2.1 3.6zM96.1 144.5h4.2l-2.1 3.6zM88.3 145.2h4.2l-2.1 3.6zM104.3 151.5h4.2l-2.1 3.6zM97.5 143.1h4.2l-2.1 3.6zM91.7 147.5h4.2l-2.1 3.6zM104.6 149.4h4.2l-2.1 3.6zM93.5 126.6h4.2l-2.1 3.6zM96.6 136.6h4.2l-2.1 3.6zM90.1 144.7h4.2l-2.1 3.6zM106.2 142.6h4.2l-2.1 3.6zM107.8 142.6h4.2l-2.1 3.6zM87.9 132.9h4.2l-2.1 3.6zM93.8 145.5h4.2l-2.1 3.6zM106.0 140.1h4.2l-2.1 3.6zM106.8 130.6h4.2l-2.1 3.6zM96.1 153.5h4.2l-2.1 3.6zM101.4 149.1h4.2l-2.1 3.6zM79.3 122.2h4.2l-2.1 3.6zM89.0 148.7h4.2l-2.1 3.6zM112.6 132.6h4.2l-2.1 3.6zM87.9 128.7h4.2l-2.1 3.6zM88.8 144.2h4.2l-2.1 3.6zM94.2 157.3h4.2l-2.1 3.6zM104.1 132.0h4.2l-2.1 3.6zM99.5 137.2h4.2l-2.1 3.6zM104.7 147.7h4.2l-2.1 3.6zM93.9 147.5h4.2l-2.1 3.6zM102.6 137.9h4.2l-2.1 3.6zM99.6 145.4h4.2l-2.1 3.6zM94.2 132.1h4.2l-2.1 3.6zM109.2 138.8h4.2l-2.1 3.6zM91.6 143.3h4.2l-2.1 3.6zM83.3 139.3h4.2l-2.1 3.6zM84.4 134.5h4.2l-2.1 3.6zM80.4 131.7h4.2l-2.1 3.6zM105.7 136.9h4.2l-2.1 3.6zM85.8 155.8h4.2l-2.1 3.6zM91.3 153.3h4.2l-2.1 3.6zM92.3 124.4h4.2l-2.1 3.6zM114.6 134.5h4.2l-2.1 3.6zM104.4 150.4h4.2l-2.1 3.6zM84.9 139.5h4.2l-2.1 3.6zM91.8 144.7h4.2l-2.1 3.6zM97.1 126.3h4.2l-2.1 3.6zM97.8 146.2h4.2l-2.1 3.6zM94.5 144.3h4.2l-2.1 3.6zM92.2 138.3h4.2l-2.1 3.6zM100.5 140.2h4.2l-2.1 3.6zM109.2 148.1h4.2l-2.1 3.6zM105.2 145.8h4.2l-2.1 3.6zM98.7 127.4h4.2l-2.1 3.6zM107.3 155.8h4.2l-2.1 3.6zM99.4 136.3h4.2l-2.1 3.6zM96.9 150.6h4.2l-2.1 3.6zM100.0 129.1h4.2l-2.1 3.6zM95.6 131.3h4.2l-2.1 3.6zM95.4 130.0h4.2l-2.1 3.6zM89.1 153.3h4.2l-2.1 3.6zM107.1 123.0h4.2l-2.1 3.6zM88.1 134.4h4.2l-2.1 3.6zM93.6 125.2h4.2l-2.1 3.6zM105.6 123.0h4.2l-2.1 3.6zM103.8 145.6h4.2l-2.1 3.6zM93.8 132.4h4.2l-2.1 3.6zM97.8 140.2h4.2l-2.1 3.6zM77.6 126.5h4.2l-2.1 3.6zM102.3 137.7h4.2l-2.1 3.6zM93.4 129.1h4.2l-2.1 3.6zM90.7 131.3h4.2l-2.1 3.6zM123.5 126.5h4.2l-2.1 3.6zM111.7 143.5h4.2l-2.1 3.6zM99.3 140.7h4.2l-2.1 3.6zM93.7 154.5h4.2l-2.1 3.6zM102.1 138.5h4.2l-2.1 3.6zM96.1 140.7h4.2l-2.1 3.6zM86.6 135.7h4.2l-2.1 3.6zM91.4 144.8h4.2l-2.1 3.6zM102.9 120.6h4.2l-2.1 3.6zM95.2 148.4h4.2l-2.1 3.6zM85.1 127.2h4.2l-2.1 3.6zM106.7 137.5h4.2l-2.1 3.6zM93.0 126.9h4.2l-2.1 3.6zM98.9 133.3h4.2l-2.1 3.6zM99.3 142.9h4.2l-2.1 3.6zM103.9 135.6h4.2l-2.1 3.6zM92.4 139.1h4.2l-2.1 3.6zM96.4 140.5h4.2l-2.1 3.6zM92.3 136.5h4.2l-2.1 3.6zM91.8 133.0h4.2l-2.1 3.6zM98.7 150.1h4.2l-2.1 3.6zM92.2 144.5h4.2l-2.1 3.6zM100.5 139.9h4.2l-2.1 3.6zM103.7 133.3h4.2l-2.1 3.6zM102.6 141.7h4.2l-2.1 3.6zM64.5 142.3h4.2l-2.1 3.6zM102.9 157.9h4.2l-2.1 3.6zM87.3 139.7h4.2l-2.1 3.6zM100.6 129.3h4.2l-2.1 3.6zM108.6 143.2h4.2l-2.1 3.6zM89.8 127.1h4.2l-2.1 3.6zM93.4 162.0h4.2l-2.1 3.6zM117.5 114.5h4.2l-2.1 3.6zM80.2 145.3h4.2l-2.1 3.6zM96.3 132.6h4.2l-2.1 3.6zM103.0 139.7h4.2l-2.1 3.6zM100.0 141.4h4.2l-2.1 3.6zM87.0 151.7h4.2l-2.1 3.6zM93.0 149.9h4.2l-2.1 3.6zM103.8 139.2h4.2l-2.1 3.6zM98.6 138.3h4.2l-2.1 3.6zM80.0 135.6h4.2l-2.1 3.6zM101.3 123.0h4.2l-2.1 3.6zM83.2 149.4h4.2l-2.1 3.6zM104.9 123.6h4.2l-2.1 3.6zM101.6 138.3h4.2l-2.1 3.6zM106.5 135.6h4.2l-2.1 3.6zM95.2 131.4h4.2l-2.1 3.6zM99.0 137.5h4.2l-2.1 3.6zM91.1 135.4h4.2l-2.1 3.6zM90.2 144.9h4.2l-2.1 3.6zM87.5 123.5h4.2l-2.1 3.6zM88.2 149.4h4.2l-2.1 3.6zM92.5 145.1h4.2l-2.1 3.6zM104.2 133.8h4.2l-2.1 3.6zM104.4 143.7h4.2l-2.1 3.6zM96.9 131.8h4.2l-2.1 3.6zM96.7 126.1h4.2l-2.1 3.6zM94.7 133.0h4.2l-2.1 3.6zM101.4 142.1h4.2l-2.1 3.6zM91.2 147.3h4.2l-2.1 3.6zM108.5 139.4h4.2l-2.1 3.6zM90.3 143.7h4.2l-2.1 3.6zM74.2 133.0h4.2l-2.1 3.6zM102.8 158.5h4.2l-2.1 3.6zM90.3 153.8h4.2l-2.1 3.6zM119.3 157.3h4.2l-2.1 3.6zM74.9 149.6h4.2l-2.1 3.6zM99.1 148.8h4.2l-2.1 3.6zM95.6 132.7h4.2l-2.1 3.6zM95.1 153.6h4.2l-2.1 3.6zM105.2 135.9h4.2l-2.1 3.6zM100.9 147.3h4.2l-2.1 3.6zM102.6 138.3h4.2l-2.1 3.6zM91.0 131.4h4.2l-2.1 3.6zM93.1 133.3h4.2l-2.1 3.6zM82.2 124.7h4.2l-2.1 3.6zM105.6 127.7h4.2l-2.1 3.6zM84.8 138.3h4.2l-2.1 3.6zM111.0 151.2h4.2l-2.1 3.6zM93.3 128.5h4.2l-2.1 3.6zM96.0 126.0h4.2l-2.1 3.6zM95.8 150.1h4.2l-2.1 3.6zM87.3 128.2h4.2l-2.1 3.6zM100.5 141.3h4.2l-2.1 3.6zM92.2 128.0h4.2l-2.1 3.6zM86.2 128.7h4.2l-2.1 3.6zM113.3 137.5h4.2l-2.1 3.6zM53.8 152.5h4.2l-2.1 3.6zM103.6 126.6h4.2l-2.1 3.6zM100.6 89.1h4.2l-2.1 3.6zM77.6 162.0h4.2l-2.1 3.6zM139.8 179.7h4.2l-2.1 3.6zM92.7 142.4h4.2l-2.1 3.6zM117.5 120.3h4.2l-2.1 3.6zM133.4 129.1h4.2l-2.1 3.6zM110.5 121.7h4.2l-2.1 3.6zM110.7 141.4h4.2l-2.1 3.6zM122.5 121.6h4.2l-2.1 3.6zM104.6 173.5h4.2l-2.1 3.6zM85.1 147.9h4.2l-2.1 3.6zM111.9 133.1h4.2l-2.1 3.6zM100.3 166.4h4.2l-2.1 3.6zM123.5 151.6h4.2l-2.1 3.6zM109.1 121.9h4.2l-2.1 3.6zM106.2 173.1h4.2l-2.1 3.6zM122.1 118.0h4.2l-2.1 3.6zM70.5 130.1h4.2l-2.1 3.6zM107.4 132.1h4.2l-2.1 3.6zM99.7 147.7h4.2l-2.1 3.6zM119.5 145.4h4.2l-2.1 3.6zM125.4 116.8h4.2l-2.1 3.6zM112.4 149.2h4.2l-2.1 3.6zM80.1 163.6h4.2l-2.1 3.6zM78.3 116.4h4.2l-2.1 3.6zM148.8 164.4h4.2l-2.1 3.6zM110.9 165.4h4.2l-2.1 3.6zM123.7 121.9h4.2l-2.1 3.6zM112.7 166.3h4.2l-2.1 3.6zM102.1 143.0h4.2l-2.1 3.6zM97.0 154.6h4.2l-2.1 3.6zM95.6 131.4h4.2l-2.1 3.6zM84.4 125.4h4.2l-2.1 3.6zM108.3 150.0h4.2l-2.1 3.6zM98.3 123.3h4.2l-2.1 3.6zM110.3 148.0h4.2l-2.1 3.6zM125.8 133.0h4.2l-2.1 3.6zM97.9 150.7h4.2l-2.1 3.6zM130.0 140.8h4.2l-2.1 3.6zM103.4 125.2h4.2l-2.1 3.6zM98.5 158.4h4.2l-2.1 3.6zM118.8 161.4h4.2l-2.1 3.6zM77.5 156.5h4.2l-2.1 3.6zM89.4 152.2h4.2l-2.1 3.6zM65.4 140.0h4.2l-2.1 3.6zM90.1 164.1h4.2l-2.1 3.6zM106.7 164.6h4.2l-2.1 3.6zM97.4 176.4h4.2l-2.1 3.6zM97.3 175.2h4.2l-2.1 3.6zM96.6 124.4h4.2l-2.1 3.6zM119.6 134.7h4.2l-2.1 3.6zM103.8 118.0h4.2l-2.1 3.6zM99.0 143.7h4.2l-2.1 3.6zM93.0 148.6h4.2l-2.1 3.6zM66.5 157.5h4.2l-2.1 3.6zM97.9 167.7h4.2l-2.1 3.6zM98.9 130.1h4.2l-2.1 3.6zM97.2 146.6h4.2l-2.1 3.6zM114.6 133.6h4.2l-2.1 3.6zM91.5 149.4h4.2l-2.1 3.6zM118.5 110.9h4.2l-2.1 3.6zM87.2 129.8h4.2l-2.1 3.6zM133.2 163.5h4.2l-2.1 3.6zM118.0 150.5h4.2l-2.1 3.6zM86.1 161.6h4.2l-2.1 3.6zM97.3 127.7h4.2l-2.1 3.6zM137.0 116.1h4.2l-2.1 3.6zM127.8 145.3h4.2l-2.1 3.6zM89.4 144.9h4.2l-2.1 3.6zM90.7 145.0h4.2l-2.1 3.6zM94.0 120.7h4.2l-2.1 3.6zM149.1 132.8h4.2l-2.1 3.6zM121.2 140.9h4.2l-2.1 3.6zM116.0 119.4h4.2l-2.1 3.6zM87.3 83.7h4.2l-2.1 3.6zM121.5 149.6h4.2l-2.1 3.6zM85.1 156.6h4.2l-2.1 3.6zM114.7 193.6h4.2l-2.1 3.6zM108.7 158.0h4.2l-2.1 3.6zM115.0 155.4h4.2l-2.1 3.6zM104.3 134.4h4.2l-2.1 3.6zM116.6 163.6h4.2l-2.1 3.6zM85.3 121.6h4.2l-2.1 3.6zM104.1 173.6h4.2l-2.1 3.6zM101.3 111.6h4.2l-2.1 3.6zM118.3 155.1h4.2l-2.1 3.6zM137.2 145.1h4.2l-2.1 3.6zM137.7 129.0h4.2l-2.1 3.6zM119.9 144.2h4.2l-2.1 3.6zM84.8 136.9h4.2l-2.1 3.6zM127.0 161.6h4.2l-2.1 3.6zM98.5 161.4h4.2l-2.1 3.6zM119.9 157.7h4.2l-2.1 3.6zM109.6 147.2h4.2l-2.1 3.6zM91.0 140.6h4.2l-2.1 3.6zM106.8 128.7h4.2l-2.1 3.6zM100.0 144.7h4.2l-2.1 3.6zM108.4 160.5h4.2l-2.1 3.6zM87.6 134.8h4.2l-2.1 3.6zM109.3 135.1h4.2l-2.1 3.6zM110.3 133.5h4.2l-2.1 3.6zM124.5 137.7h4.2l-2.1 3.6zM85.8 155.1h4.2l-2.1 3.6zM132.6 107.7h4.2l-2.1 3.6zM102.6 143.0h4.2l-2.1 3.6zM122.0 168.3h4.2l-2.1 3.6zM102.2 114.2h4.2l-2.1 3.6zM115.9 159.6h4.2l-2.1 3.6zM112.5 143.2h4.2l-2.1 3.6zM91.2 185.0h4.2l-2.1 3.6zM84.8 115.1h4.2l-2.1 3.6zM121.1 146.9h4.2l-2.1 3.6zM116.0 148.1h4.2l-2.1 3.6zM132.9 167.0h4.2l-2.1 3.6zM95.6 159.5h4.2l-2.1 3.6zM85.2 111.6h4.2l-2.1 3.6zM124.9 134.2h4.2l-2.1 3.6zM69.0 141.5h4.2l-2.1 3.6zM93.7 150.8h4.2l-2.1 3.6zM103.8 128.2h4.2l-2.1 3.6zM92.9 155.4h4.2l-2.1 3.6zM89.3 144.1h4.2l-2.1 3.6zM88.3 149.8h4.2l-2.1 3.6zM134.5 151.9h4.2l-2.1 3.6zM123.4 149.8h4.2l-2.1 3.6zM88.8 136.5h4.2l-2.1 3.6zM106.0 149.6h4.2l-2.1 3.6zM94.8 152.7h4.2l-2.1 3.6zM92.8 143.0h4.2l-2.1 3.6zM104.6 121.5h4.2l-2.1 3.6zM121.5 142.7h4.2l-2.1 3.6zM106.6 141.3h4.2l-2.1 3.6zM69.7 117.0h4.2l-2.1 3.6zM89.9 159.4h4.2l-2.1 3.6zM95.2 152.6h4.2l-2.1 3.6zM87.7 126.9h4.2l-2.1 3.6zM97.0 160.5h4.2l-2.1 3.6zM77.2 138.7h4.2l-2.1 3.6zM111.6 144.2h4.2l-2.1 3.6zM104.5 155.6h4.2l-2.1 3.6zM109.6 124.0h4.2l-2.1 3.6zM115.4 128.0h4.2l-2.1 3.6zM99.1 167.4h4.2l-2.1 3.6zM145.5 167.5h4.2l-2.1 3.6zM111.9 128.1h4.2l-2.1 3.6zM92.2 171.2h4.2l-2.1 3.6zM110.3 117.3h4.2l-2.1 3.6zM131.0 152.1h4.2l-2.1 3.6zM126.8 149.0h4.2l-2.1 3.6zM68.9 128.8h4.2l-2.1 3.6zM102.4 138.9h4.2l-2.1 3.6zM130.0 130.0h4.2l-2.1 3.6zM103.2 140.8h4.2l-2.1 3.6zM103.3 123.5h4.2l-2.1 3.6zM84.4 96.3h4.2l-2.1 3.6zM110.3 138.2h4.2l-2.1 3.6zM108.2 123.2h4.2l-2.1 3.6zM104.9 124.7h4.2l-2.1 3.6zM88.0 147.8h4.2l-2.1 3.6zM115.4 152.1h4.2l-2.1 3.6zM104.1 135.0h4.2l-2.1 3.6zM128.0 163.8h4.2l-2.1 3.6zM94.3 122.6h4.2l-2.1 3.6zM111.0 147.4h4.2l-2.1 3.6zM89.6 182.1h4.2l-2.1 3.6zM70.0 127.1h4.2l-2.1 3.6zM108.8 159.3h4.2l-2.1 3.6zM74.0 134.1h4.2l-2.1 3.6zM128.7 166.6h4.2l-2.1 3.6zM100.6 142.5h4.2l-2.1 3.6zM90.1 148.8h4.2l-2.1 3.6zM87.4 106.0h4.2l-2.1 3.6zM79.5 142.8h4.2l-2.1 3.6zM82.9 161.4h4.2l-2.1 3.6zM126.1 159.4h4.2l-2.1 3.6zM115.7 161.8h4.2l-2.1 3.6zM109.2 157.1h4.2l-2.1 3.6zM112.6 155.6h4.2l-2.1 3.6zM87.9 130.2h4.2l-2.1 3.6zM88.2 156.4h4.2l-2.1 3.6zM113.2 127.9h4.2l-2.1 3.6zM88.4 131.6h4.2l-2.1 3.6zM119.3 139.8h4.2l-2.1 3.6zM100.8 129.6h4.2l-2.1 3.6zM102.8 170.0h4.2l-2.1 3.6zM93.4 135.6h4.2l-2.1 3.6zM133.0 154.5h4.2l-2.1 3.6zM85.9 161.0h4.2l-2.1 3.6zM83.8 151.7h4.2l-2.1 3.6zM62.8 124.3h4.2l-2.1 3.6zM120.0 131.3h4.2l-2.1 3.6zM92.8 142.8h4.2l-2.1 3.6zM104.9 133.6h4.2l-2.1 3.6zM93.6 173.5h4.2l-2.1 3.6zM129.6 147.6h4.2l-2.1 3.6zM85.7 132.5h4.2l-2.1 3.6zM100.0 150.4h4.2l-2.1 3.6zM131.4 132.6h4.2l-2.1 3.6zM107.3 134.2h4.2l-2.1 3.6zM107.2 129.7h4.2l-2.1 3.6zM111.1 162.3h4.2l-2.1 3.6zM98.2 136.0h4.2l-2.1 3.6zM106.7 118.7h4.2l-2.1 3.6zM134.9 118.2h4.2l-2.1 3.6zM98.9 126.2h4.2l-2.1 3.6zM129.7 133.3h4.2l-2.1 3.6zM96.4 175.1h4.2l-2.1 3.6zM102.8 128.1h4.2l-2.1 3.6zM104.7 145.2h4.2l-2.1 3.6zM92.4 138.6h4.2l-2.1 3.6zM101.3 154.6h4.2l-2.1 3.6zM117.6 156.5h4.2l-2.1 3.6zM102.8 155.9h4.2l-2.1 3.6zM101.3 162.3h4.2l-2.1 3.6zM111.5 134.3h4.2l-2.1 3.6zM125.3 115.2h4.2l-2.1 3.6zM80.6 126.4h4.2l-2.1 3.6zM106.0 114.2h4.2l-2.1 3.6zM73.6 95.7h4.2l-2.1 3.6zM113.4 127.3h4.2l-2.1 3.6zM176.1 170.7h4.2l-2.1 3.6zM75.4 186.1h4.2l-2.1 3.6zM113.1 179.3h4.2l-2.1 3.6zM76.4 181.6h4.2l-2.1 3.6zM143.1 137.2h4.2l-2.1 3.6zM84.3 138.2h4.2l-2.1 3.6zM117.9 216.8h4.2l-2.1 3.6zM164.5 191.2h4.2l-2.1 3.6zM103.3 139.7h4.2l-2.1 3.6zM121.0 141.2h4.2l-2.1 3.6z" fill="#000" fill-opacity="0.56"/>
<path d="M92.8 136.7h4.2l-2.1 3.6zM105.4 138.1h4.2l-2.1 3.6zM99.6 136.1h4.2l-2.1 3.6zM95.4 135.5h4.2l-2.1 3.6zM109.5 141.1h4.2l-2.1 3.6zM111.7 137.1h4.2l-2.1 3.6zM107.5 124.9h4.2l-2.1 3.6zM93.4 138.2h4.2l-2.1 3.6zM91.2 137.6h4.2l-2.1 3.6zM88.3 137.1h4.2l-2.1 3.6zM90.8 138.7h4.2l-2.1 3.6zM94.4 128.7h4.2l-2.1 3.6zM93.3 139.1h4.2l-2.1 3.6zM85.0 139.7h4.2l-2.1 3.6zM109.3 136.5h4.2l-2.1 3.6zM102.6 145.0h4.2l-2.1 3.6zM89.5 152.1h4.2l-2.1 3.6zM121.5 128.5h4.2l-2.1 3.6zM118.0 131.7h4.2l-2.1 3.6zM111.4 120.6h4.2l-2.1 3.6zM108.2 140.2h4.2l-2.1 3.6zM84.9 130.5h4.2l-2.1 3.6zM87.2 129.7h4.2l-2.1 3.6zM100.9 137.0h4.2l-2.1 3.6zM73.1 135.6h4.2l-2.1 3.6zM101.8 139.7h4.2l-2.1 3.6zM113.6 120.3h4.2l-2.1 3.6zM99.6 139.1h4.2l-2.1 3.6zM104.2 125.3h4.2l-2.1 3.6zM84.7 137.1h4.2l-2.1 3.6zM98.0 120.6h4.2l-2.1 3.6zM100.8 138.7h4.2l-2.1 3.6zM104.4 112.5h4.2l-2.1 3.6zM102.1 129.8h4.2l-2.1 3.6zM92.7 146.6h4.2l-2.1 3.6zM113.6 140.3h4.2l-2.1 3.6zM96.2 151.9h4.2l-2.1 3.6zM88.6 137.2h4.2l-2.1 3.6zM92.4 128.9h4.2l-2.1 3.6zM99.1 159.3h4.2l-2.1 3.6zM99.7 143.8h4.2l-2.1 3.6zM97.0 150.1h4.2l-2.1 3.6zM99.0 129.9h4.2l-2.1 3.6zM98.2 153.2h4.2l-2.1 3.6zM96.4 150.8h4.2l-2.1 3.6zM96.6 159.2h4.2l-2.1 3.6zM100.0 145.4h4.2l-2.1 3.6zM94.5 147.2h4.2l-2.1 3.6zM95.1 123.9h4.2l-2.1 3.6zM100.2 126.6h4.2l-2.1 3.6zM111.6 146.7h4.2l-2.1 3.6zM97.4 145.7h4.2l-2.1 3.6zM72.2 154.2h4.2l-2.1 3.6zM91.0 145.5h4.2l-2.1 3.6zM122.0 122.5h4.2l-2.1 3.6zM93.3 142.2h4.2l-2.1 3.6zM101.3 121.8h4.2l-2.1 3.6zM88.3 153.7h4.2l-2.1 3.6zM91.5 144.4h4.2l-2.1 3.6zM84.0 129.6h4.2l-2.1 3.6zM79.7 141.5h4.2l-2.1 3.6zM108.4 139.7h4.2l-2.1 3.6zM94.6 141.2h4.2l-2.1 3.6zM101.8 135.9h4.2l-2.1 3.6zM102.6 158.4h4.2l-2.1 3.6zM118.7 133.0h4.2l-2.1 3.6zM85.1 158.1h4.2l-2.1 3.6zM106.8 151.0h4.2l-2.1 3.6zM103.1 136.5h4.2l-2.1 3.6zM106.7 150.0h4.2l-2.1 3.6zM108.6 127.9h4.2l-2.1 3.6zM107.2 135.3h4.2l-2.1 3.6zM93.8 142.3h4.2l-2.1 3.6zM93.9 162.1h4.2l-2.1 3.6zM102.7 141.5h4.2l-2.1 3.6zM95.4 141.3h4.2l-2.1 3.6zM95.1 144.7h4.2l-2.1 3.6zM105.6 147.2h4.2l-2.1 3.6zM85.2 135.5h4.2l-2.1 3.6zM98.1 126.5h4.2l-2.1 3.6zM100.9 137.4h4.2l-2.1 3.6zM97.8 142.6h4.2l-2.1 3.6zM91.3 154.4h4.2l-2.1 3.6zM107.3 133.3h4.2l-2.1 3.6zM101.8 146.3h4.2l-2.1 3.6zM89.9 135.2h4.2l-2.1 3.6zM104.0 112.8h4.2l-2.1 3.6zM84.6 142.1h4.2l-2.1 3.6zM103.3 129.5h4.2l-2.1 3.6zM105.6 161.1h4.2l-2.1 3.6zM99.3 138.4h4.2l-2.1 3.6zM98.0 128.6h4.2l-2.1 3.6zM102.6 140.6h4.2l-2.1 3.6zM104.5 153.2h4.2l-2.1 3.6zM97.7 140.6h4.2l-2.1 3.6zM100.5 156.3h4.2l-2.1 3.6zM83.2 138.8h4.2l-2.1 3.6zM91.3 140.1h4.2l-2.1 3.6zM105.3 139.5h4.2l-2.1 3.6zM104.4 140.7h4.2l-2.1 3.6zM90.4 132.2h4.2l-2.1 3.6zM84.0 141.1h4.2l-2.1 3.6zM93.5 147.3h4.2l-2.1 3.6zM106.6 129.9h4.2l-2.1 3.6zM86.8 144.9h4.2l-2.1 3.6zM88.8 140.9h4.2l-2.1 3.6zM103.2 134.9h4.2l-2.1 3.6zM114.5 131.0h4.2l-2.1 3.6zM101.4 134.7h4.2l-2.1 3.6zM69.5 137.1h4.2l-2.1 3.6zM95.8 144.6h4.2l-2.1 3.6zM96.0 131.5h4.2l-2.1 3.6zM92.3 135.8h4.2l-2.1 3.6zM104.6 136.1h4.2l-2.1 3.6zM109.2 147.4h4.2l-2.1 3.6zM90.2 149.2h4.2l-2.1 3.6zM75.5 139.1h4.2l-2.1 3.6zM87.9 137.8h4.2l-2.1 3.6zM108.4 138.8h4.2l-2.1 3.6zM95.7 151.7h4.2l-2.1 3.6zM90.0 130.5h4.2l-2.1 3.6zM106.7 145.0h4.2l-2.1 3.6zM83.5 140.3h4.2l-2.1 3.6zM104.8 137.2h4.2l-2.1 3.6zM93.4 140.2h4.2l-2.1 3.6zM99.4 131.7h4.2l-2.1 3.6zM105.4 123.0h4.2l-2.1 3.6zM96.6 160.3h4.2l-2.1 3.6zM87.1 138.4h4.2l-2.1 3.6zM75.4 130.5h4.2l-2.1 3.6zM86.2 139.4h4.2l-2.1 3.6zM92.6 157.3h4.2l-2.1 3.6zM88.4 138.5h4.2l-2.1 3.6zM99.4 145.3h4.2l-2.1 3.6zM105.9 123.1h4.2l-2.1 3.6zM118.4 135.7h4.2l-2.1 3.6zM90.4 122.3h4.2l-2.1 3.6zM93.0 121.0h4.2l-2.1 3.6zM99.1 132.8h4.2l-2.1 3.6zM100.4 130.9h4.2l-2.1 3.6zM98.0 161.1h4.2l-2.1 3.6zM108.6 140.4h4.2l-2.1 3.6zM87.8 153.5h4.2l-2.1 3.6zM81.0 124.6h4.2l-2.1 3.6zM109.8 132.8h4.2l-2.1 3.6zM110.3 144.5h4.2l-2.1 3.6zM118.3 156.7h4.2l-2.1 3.6zM102.9 132.5h4.2l-2.1 3.6zM103.0 152.9h4.2l-2.1 3.6zM98.6 109.8h4.2l-2.1 3.6zM93.6 135.1h4.2l-2.1 3.6zM96.7 135.3h4.2l-2.1 3.6zM108.3 126.1h4.2l-2.1 3.6zM101.5 118.9h4.2l-2.1 3.6zM76.3 128.6h4.2l-2.1 3.6zM90.0 129.8h4.2l-2.1 3.6zM90.5 144.9h4.2l-2.1 3.6zM102.8 139.5h4.2l-2.1 3.6zM99.2 131.8h4.2l-2.1 3.6zM87.8 124.5h4.2l-2.1 3.6zM93.2 127.4h4.2l-2.1 3.6zM94.1 146.0h4.2l-2.1 3.6zM102.5 152.0h4.2l-2.1 3.6zM88.3 116.7h4.2l-2.1 3.6zM86.5 158.7h4.2l-2.1 3.6zM104.0 134.3h4.2l-2.1 3.6zM109.9 134.6h4.2l-2.1 3.6zM113.3 134.7h4.2l-2.1 3.6zM93.3 145.7h4.2l-2.1 3.6zM86.2 137.1h4.2l-2.1 3.6zM115.9 143.1h4.2l-2.1 3.6zM86.6 136.2h4.2l-2.1 3.6zM97.0 131.1h4.2l-2.1 3.6zM101.2 151.2h4.2l-2.1 3.6zM97.7 147.6h4.2l-2.1 3.6zM100.0 140.1h4.2l-2.1 3.6zM90.0 148.4h4.2l-2.1 3.6zM110.2 134.2h4.2l-2.1 3.6zM88.8 143.9h4.2l-2.1 3.6zM98.2 150.0h4.2l-2.1 3.6zM101.9 137.4h4.2l-2.1 3.6zM83.9 144.9h4.2l-2.1 3.6zM98.2 126.0h4.2l-2.1 3.6zM82.9 120.4h4.2l-2.1 3.6zM103.2 134.3h4.2l-2.1 3.6zM65.2 129.9h4.2l-2.1 3.6zM91.1 137.6h4.2l-2.1 3.6zM97.5 135.3h4.2l-2.1 3.6zM104.3 149.0h4.2l-2.1 3.6zM95.0 154.5h4.2l-2.1 3.6zM96.0 130.0h4.2l-2.1 3.6zM98.7 124.3h4.2l-2.1 3.6zM94.3 128.1h4.2l-2.1 3.6zM93.0 140.7h4.2l-2.1 3.6zM73.6 142.6h4.2l-2.1 3.6zM99.7 136.5h4.2l-2.1 3.6zM104.1 142.1h4.2l-2.1 3.6zM93.7 128.6h4.2l-2.1 3.6zM104.2 146.3h4.2l-2.1 3.6zM83.0 131.4h4.2l-2.1 3.6zM85.8 147.0h4.2l-2.1 3.6zM91.6 126.1h4.2l-2.1 3.6zM111.7 143.2h4.2l-2.1 3.6zM99.4 141.1h4.2l-2.1 3.6zM95.5 139.0h4.2l-2.1 3.6zM105.8 143.1h4.2l-2.1 3.6zM92.8 139.6h4.2l-2.1 3.6zM115.2 133.1h4.2l-2.1 3.6zM84.5 139.8h4.2l-2.1 3.6zM86.2 165.0h4.2l-2.1 3.6zM103.2 144.5h4.2l-2.1 3.6zM100.7 158.4h4.2l-2.1 3.6zM87.3 138.1h4.2l-2.1 3.6zM81.1 151.1h4.2l-2.1 3.6zM96.4 156.4h4.2l-2.1 3.6zM94.5 128.2h4.2l-2.1 3.6zM90.4 146.7h4.2l-2.1 3.6zM89.2 141.2h4.2l-2.1 3.6zM90.2 131.5h4.2l-2.1 3.6zM91.7 154.9h4.2l-2.1 3.6zM86.8 141.9h4.2l-2.1 3.6zM104.9 131.1h4.2l-2.1 3.6zM82.6 153.7h4.2l-2.1 3.6zM113.9 136.1h4.2l-2.1 3.6zM85.5 147.4h4.2l-2.1 3.6zM96.7 130.3h4.2l-2.1 3.6zM93.4 114.6h4.2l-2.1 3.6zM89.2 126.4h4.2l-2.1 3.6zM84.4 144.5h4.2l-2.1 3.6zM99.7 155.7h4.2l-2.1 3.6zM71.2 131.9h4.2l-2.1 3.6zM89.0 151.9h4.2l-2.1 3.6zM107.1 139.8h4.2l-2.1 3.6zM98.0 131.0h4.2l-2.1 3.6zM92.1 134.1h4.2l-2.1 3.6zM72.7 157.7h4.2l-2.1 3.6zM104.2 159.6h4.2l-2.1 3.6zM109.0 143.6h4.2l-2.1 3.6zM105.1 121.5h4.2l-2.1 3.6zM87.3 147.1h4.2l-2.1 3.6zM93.4 122.2h4.2l-2.1 3.6zM96.9 125.6h4.2l-2.1 3.6zM97.1 154.3h4.2l-2.1 3.6zM86.0 134.0h4.2l-2.1 3.6zM102.4 138.3h4.2l-2.1 3.6zM98.8 130.0h4.2l-2.1 3.6zM93.8 114.5h4.2l-2.1 3.6zM95.3 151.5h4.2l-2.1 3.6zM86.2 136.6h4.2l-2.1 3.6zM103.9 150.9h4.2l-2.1 3.6zM108.3 129.5h4.2l-2.1 3.6zM93.0 156.3h4.2l-2.1 3.6zM92.5 141.4h4.2l-2.1 3.6zM88.8 131.8h4.2l-2.1 3.6zM68.2 133.0h4.2l-2.1 3.6zM75.6 128.2h4.2l-2.1 3.6zM87.5 152.2h4.2l-2.1 3.6zM104.4 142.6h4.2l-2.1 3.6zM92.0 124.4h4.2l-2.1 3.6zM101.6 130.1h4.2l-2.1 3.6zM95.9 148.0h4.2l-2.1 3.6zM95.1 138.2h4.2l-2.1 3.6zM87.3 149.1h4.2l-2.1 3.6zM102.1 145.6h4.2l-2.1 3.6zM112.8 122.0h4.2l-2.1 3.6zM97.2 145.0h4.2l-2.1 3.6zM100.2 141.6h4.2l-2.1 3.6zM101.5 122.9h4.2l-2.1 3.6zM96.2 150.2h4.2l-2.1 3.6zM96.4 136.5h4.2l-2.1 3.6zM105.2 120.7h4.2l-2.1 3.6zM100.8 153.8h4.2l-2.1 3.6zM94.5 130.1h4.2l-2.1 3.6zM102.1 133.8h4.2l-2.1 3.6zM89.0 140.1h4.2l-2.1 3.6zM80.8 145.2h4.2l-2.1 3.6zM85.3 132.9h4.2l-2.1 3.6zM104.0 138.1h4.2l-2.1 3.6zM99.5 152.4h4.2l-2.1 3.6zM111.7 159.6h4.2l-2.1 3.6zM91.6 147.7h4.2l-2.1 3.6zM80.9 146.6h4.2l-2.1 3.6zM109.6 131.1h4.2l-2.1 3.6zM101.5 146.9h4.2l-2.1 3.6zM95.4 132.0h4.2l-2.1 3.6zM111.6 125.1h4.2l-2.1 3.6zM98.5 148.1h4.2l-2.1 3.6zM99.2 154.5h4.2l-2.1 3.6zM111.4 143.2h4.2l-2.1 3.6zM114.2 146.1h4.2l-2.1 3.6zM83.7 135.5h4.2l-2.1 3.6zM108.8 144.7h4.2l-2.1 3.6zM75.9 182.1h4.2l-2.1 3.6zM78.1 121.2h4.2l-2.1 3.6zM111.8 144.8h4.2l-2.1 3.6zM130.0 145.2h4.2l-2.1 3.6zM110.6 154.2h4.2l-2.1 3.6zM92.0 118.3h4.2l-2.1 3.6zM96.6 159.3h4.2l-2.1 3.6zM99.6 163.5h4.2l-2.1 3.6zM95.1 154.7h4.2l-2.1 3.6zM104.8 156.2h4.2l-2.1 3.6zM104.5 144.9h4.2l-2.1 3.6zM96.5 163.5h4.2l-2.1 3.6zM103.8 150.2h4.2l-2.1 3.6zM115.2 125.5h4.2l-2.1 3.6zM90.5 140.6h4.2l-2.1 3.6zM125.7 122.6h4.2l-2.1 3.6zM87.3 123.8h4.2l-2.1 3.6zM97.8 122.4h4.2l-2.1 3.6zM90.7 150.7h4.2l-2.1 3.6zM86.2 141.2h4.2l-2.1 3.6zM84.7 137.8h4.2l-2.1 3.6zM113.1 105.8h4.2l-2.1 3.6zM105.3 145.4h4.2l-2.1 3.6zM103.4 145.9h4.2l-2.1 3.6zM111.3 118.4h4.2l-2.1 3.6zM102.3 152.8h4.2l-2.1 3.6zM126.0 117.2h4.2l-2.1 3.6zM94.5 117.2h4.2l-2.1 3.6zM104.1 122.4h4.2l-2.1 3.6zM88.0 155.0h4.2l-2.1 3.6zM141.9 104.9h4.2l-2.1 3.6zM131.9 125.1h4.2l-2.1 3.6zM115.8 147.6h4.2l-2.1 3.6zM125.0 137.7h4.2l-2.1 3.6zM90.6 140.3h4.2l-2.1 3.6zM117.6 125.6h4.2l-2.1 3.6zM111.2 141.3h4.2l-2.1 3.6zM107.4 141.6h4.2l-2.1 3.6zM114.5 155.7h4.2l-2.1 3.6zM99.6 135.2h4.2l-2.1 3.6zM68.6 125.9h4.2l-2.1 3.6zM79.0 153.4h4.2l-2.1 3.6zM86.4 129.1h4.2l-2.1 3.6zM113.2 159.0h4.2l-2.1 3.6zM124.7 126.3h4.2l-2.1 3.6zM108.4 160.3h4.2l-2.1 3.6zM90.3 137.4h4.2l-2.1 3.6zM84.1 130.1h4.2l-2.1 3.6zM116.3 143.1h4.2l-2.1 3.6zM98.4 131.6h4.2l-2.1 3.6zM129.8 154.8h4.2l-2.1 3.6zM83.8 179.8h4.2l-2.1 3.6zM97.6 138.8h4.2l-2.1 3.6zM96.3 131.4h4.2l-2.1 3.6zM115.1 115.9h4.2l-2.1 3.6zM105.0 135.7h4.2l-2.1 3.6zM133.5 148.4h4.2l-2.1 3.6zM111.7 150.8h4.2l-2.1 3.6zM114.4 143.7h4.2l-2.1 3.6zM63.7 149.0h4.2l-2.1 3.6zM99.2 153.9h4.2l-2.1 3.6zM109.7 131.8h4.2l-2.1 3.6zM89.6 123.5h4.2l-2.1 3.6zM109.2 139.6h4.2l-2.1 3.6zM89.7 135.1h4.2l-2.1 3.6zM110.3 129.8h4.2l-2.1 3.6zM102.4 130.8h4.2l-2.1 3.6zM61.4 143.1h4.2l-2.1 3.6zM105.5 155.8h4.2l-2.1 3.6zM126.2 128.7h4.2l-2.1 3.6zM114.4 146.2h4.2l-2.1 3.6zM105.8 156.1h4.2l-2.1 3.6zM119.0 119.2h4.2l-2.1 3.6zM129.1 138.4h4.2l-2.1 3.6zM93.4 129.3h4.2l-2.1 3.6zM100.8 121.7h4.2l-2.1 3.6zM122.6 149.1h4.2l-2.1 3.6zM89.5 156.0h4.2l-2.1 3.6zM108.4 143.0h4.2l-2.1 3.6zM120.5 139.9h4.2l-2.1 3.6zM100.2 150.4h4.2l-2.1 3.6zM74.1 120.4h4.2l-2.1 3.6zM112.9 160.4h4.2l-2.1 3.6zM76.6 141.8h4.2l-2.1 3.6zM93.5 136.6h4.2l-2.1 3.6zM114.5 167.8h4.2l-2.1 3.6zM133.8 158.2h4.2l-2.1 3.6zM115.2 144.1h4.2l-2.1 3.6zM73.5 148.5h4.2l-2.1 3.6zM84.7 121.9h4.2l-2.1 3.6zM106.5 113.8h4.2l-2.1 3.6zM133.9 152.1h4.2l-2.1 3.6zM110.6 150.0h4.2l-2.1 3.6zM108.6 142.7h4.2l-2.1 3.6zM116.3 129.7h4.2l-2.1 3.6zM109.1 144.5h4.2l-2.1 3.6zM117.4 122.2h4.2l-2.1 3.6zM108.6 139.3h4.2l-2.1 3.6zM115.0 151.0h4.2l-2.1 3.6zM107.6 149.7h4.2l-2.1 3.6zM111.9 165.5h4.2l-2.1 3.6zM109.6 151.0h4.2l-2.1 3.6zM89.1 137.9h4.2l-2.1 3.6zM117.3 160.0h4.2l-2.1 3.6zM88.4 140.8h4.2l-2.1 3.6zM100.1 142.5h4.2l-2.1 3.6zM96.6 134.1h4.2l-2.1 3.6zM103.5 143.8h4.2l-2.1 3.6zM121.4 126.6h4.2l-2.1 3.6zM88.6 155.4h4.2l-2.1 3.6zM112.9 138.3h4.2l-2.1 3.6zM85.4 160.1h4.2l-2.1 3.6zM86.8 161.4h4.2l-2.1 3.6zM108.7 138.9h4.2l-2.1 3.6zM101.7 155.9h4.2l-2.1 3.6zM104.7 111.0h4.2l-2.1 3.6zM93.0 103.9h4.2l-2.1 3.6zM111.2 157.8h4.2l-2.1 3.6zM121.6 117.9h4.2l-2.1 3.6zM139.7 173.5h4.2l-2.1 3.6zM102.7 106.7h4.2l-2.1 3.6zM90.1 159.9h4.2l-2.1 3.6zM138.8 132.1h4.2l-2.1 3.6zM74.0 124.6h4.2l-2.1 3.6zM136.2 141.5h4.2l-2.1 3.6zM81.3 104.8h4.2l-2.1 3.6zM115.1 155.7h4.2l-2.1 3.6zM96.6 138.1h4.2l-2.1 3.6zM105.8 135.5h4.2l-2.1 3.6zM95.5 131.4h4.2l-2.1 3.6zM94.7 163.2h4.2l-2.1 3.6zM111.2 159.5h4.2l-2.1 3.6zM135.0 101.4h4.2l-2.1 3.6zM103.5 158.3h4.2l-2.1 3.6zM101.0 131.0h4.2l-2.1 3.6zM111.1 132.2h4.2l-2.1 3.6zM90.6 136.1h4.2l-2.1 3.6zM105.4 141.7h4.2l-2.1 3.6zM119.4 141.9h4.2l-2.1 3.6zM96.7 195.0h4.2l-2.1 3.6zM100.8 136.8h4.2l-2.1 3.6zM102.2 129.3h4.2l-2.1 3.6zM78.5 144.9h4.2l-2.1 3.6zM128.7 109.6h4.2l-2.1 3.6zM92.0 149.0h4.2l-2.1 3.6zM93.3 150.8h4.2l-2.1 3.6zM103.7 122.2h4.2l-2.1 3.6zM101.0 132.5h4.2l-2.1 3.6zM113.5 97.0h4.2l-2.1 3.6zM111.3 164.9h4.2l-2.1 3.6zM107.0 145.7h4.2l-2.1 3.6zM95.7 147.4h4.2l-2.1 3.6zM102.1 119.1h4.2l-2.1 3.6zM84.9 100.9h4.2l-2.1 3.6zM111.7 144.6h4.2l-2.1 3.6zM122.5 146.0h4.2l-2.1 3.6zM116.0 118.0h4.2l-2.1 3.6zM73.7 131.5h4.2l-2.1 3.6zM99.1 147.9h4.2l-2.1 3.6zM102.3 138.6h4.2l-2.1 3.6zM105.2 146.0h4.2l-2.1 3.6zM107.9 147.1h4.2l-2.1 3.6zM96.2 139.9h4.2l-2.1 3.6zM80.2 122.0h4.2l-2.1 3.6zM100.0 149.0h4.2l-2.1 3.6zM92.0 116.8h4.2l-2.1 3.6zM120.3 126.9h4.2l-2.1 3.6zM76.1 124.5h4.2l-2.1 3.6zM84.9 99.1h4.2l-2.1 3.6zM98.1 171.1h4.2l-2.1 3.6zM92.2 127.1h4.2l-2.1 3.6zM123.4 143.0h4.2l-2.1 3.6zM102.8 165.4h4.2l-2.1 3.6zM85.0 140.5h4.2l-2.1 3.6zM112.9 145.1h4.2l-2.1 3.6zM85.2 125.2h4.2l-2.1 3.6zM133.9 139.9h4.2l-2.1 3.6zM100.2 160.4h4.2l-2.1 3.6zM74.9 140.6h4.2l-2.1 3.6zM75.4 165.9h4.2l-2.1 3.6zM88.2 143.5h4.2l-2.1 3.6zM89.3 143.8h4.2l-2.1 3.6zM109.8 141.7h4.2l-2.1 3.6zM99.3 145.9h4.2l-2.1 3.6zM100.6 132.7h4.2l-2.1 3.6zM115.0 156.5h4.2l-2.1 3.6zM82.2 123.9h4.2l-2.1 3.6zM91.7 146.7h4.2l-2.1 3.6zM81.4 168.7h4.2l-2.1 3.6zM105.3 144.3h4.2l-2.1 3.6zM119.0 128.5h4.2l-2.1 3.6zM110.7 148.7h4.2l-2.1 3.6zM125.9 123.2h4.2l-2.1 3.6zM127.4 152.0h4.2l-2.1 3.6zM108.7 160.2h4.2l-2.1 3.6zM100.5 138.2h4.2l-2.1 3.6zM118.4 135.5h4.2l-2.1 3.6zM122.5 165.6h4.2l-2.1 3.6zM108.2 144.8h4.2l-2.1 3.6zM94.0 125.6h4.2l-2.1 3.6zM128.4 123.6h4.2l-2.1 3.6zM106.1 146.8h4.2l-2.1 3.6zM89.9 129.8h4.2l-2.1 3.6zM93.1 178.7h4.2l-2.1 3.6zM110.8 166.0h4.2l-2.1 3.6zM138.2 159.4h4.2l-2.1 3.6zM126.4 134.0h4.2l-2.1 3.6zM93.4 167.1h4.2l-2.1 3.6zM128.8 123.9h4.2l-2.1 3.6zM123.6 146.9h4.2l-2.1 3.6zM117.9 158.6h4.2l-2.1 3.6zM136.1 130.9h4.2l-2.1 3.6zM104.9 163.9h4.2l-2.1 3.6zM100.6 151.4h4.2l-2.1 3.6zM103.6 112.2h4.2l-2.1 3.6zM95.8 157.3h4.2l-2.1 3.6zM95.9 115.1h4.2l-2.1 3.6zM96.6 143.7h4.2l-2.1 3.6zM113.0 147.7h4.2l-2.1 3.6zM113.6 123.5h4.2l-2.1 3.6zM95.0 128.6h4.2l-2.1 3.6zM97.7 149.7h4.2l-2.1 3.6zM126.9 137.9h4.2l-2.1 3.6zM142.0 180.2h4.2l-2.1 3.6zM75.9 126.4h4.2l-2.1 3.6zM114.8 110.7h4.2l-2.1 3.6zM166.3 96.8h4.2l-2.1 3.6zM73.6 171.1h4.2l-2.1 3.6zM88.0 169.1h4.2l-2.1 3.6zM80.8 178.8h4.2l-2.1 3.6zM92.9 169.6h4.2l-2.1 3.6zM140.4 107.5h4.2l-2.1 3.6zM83.9 100.5h4.2l-2.1 3.6zM77.2 175.1h4.2l-2.1 3.6zM109.5 173.1h4.2l-2.1 3.6zM153.0 178.3h4.2l-2.1 3.6zM132.1 137.4h4.2l-2.1 3.6z" fill="#000" fill-opacity="0.56"/>
<path d="M93.7 142.2h4.2l-2.1 3.6zM105.8 149.8h4.2l-2.1 3.6zM100.3 136.1h4.2l-2.1 3.6zM96.7 155.6h4.2l-2.1 3.6zM100.2 159.0h4.2l-2.1 3.6zM90.7 147.7h4.2l-2.1 3.6zM99.6 146.6h4.2l-2.1 3.6zM90.3 142.4h4.2l-2.1 3.6zM96.9 136.2h4.2l-2.1 3.6zM86.1 124.9h4.2l-2.1 3.6zM94.3 144.5h4.2l-2.1 3.6zM100.0 141.4h4.2l-2.1 3.6zM100.6 125.6h4.2l-2.1 3.6zM107.7 139.7h4.2l-2.1 3.6zM90.3 133.6h4.2l-2.1 3.6zM107.0 141.0h4.2l-2.1 3.6zM81.6 160.0h4.2l-2.1 3.6zM83.4 156.2h4.2l-2.1 3.6zM105.7 129.1h4.2l-2.1 3.6zM109.5 151.6h4.2l-2.1 3.6zM107.5 145.6h4.2l-2.1 3.6zM100.7 141.2h4.2l-2.1 3.6zM92.5 141.8h4.2l-2.1 3.6zM109.8 138.0h4.2l-2.1 3.6zM116.4 123.6h4.2l-2.1 3.6zM97.9 124.3h4.2l-2.1 3.6zM80.8 141.6h4.2l-2.1 3.6zM94.5 133.6h4.2l-2.1 3.6zM87.5 136.8h4.2l-2.1 3.6zM82.1 137.2h4.2l-2.1 3.6zM92.5 126.7h4.2l-2.1 3.6zM101.5 120.6h4.2l-2.1 3.6zM101.7 141.8h4.2l-2.1 3.6zM102.6 140.4h4.2l-2.1 3.6zM105.2 136.5h4.2l-2.1 3.6zM87.2 142.9h4.2l-2.1 3.6zM90.1 135.5h4.2l-2.1 3.6zM98.7 129.9h4.2l-2.1 3.6zM107.0 123.8h4.2l-2.1 3.6zM109.3 138.8h4.2l-2.1 3.6zM113.8 150.2h4.2l-2.1 3.6zM104.1 142.0h4.2l-2.1 3.6zM98.7 125.4h4.2l-2.1 3.6zM92.3 129.8h4.2l-2.1 3.6zM90.8 137.8h4.2l-2.1 3.6zM90.0 140.5h4.2l-2.1 3.6zM95.1 134.5h4.2l-2.1 3.6zM101.3 143.7h4.2l-2.1 3.6zM84.8 136.0h4.2l-2.1 3.6zM125.5 139.3h4.2l-2.1 3.6zM102.0 130.3h4.2l-2.1 3.6zM106.9 154.4h4.2l-2.1 3.6zM103.2 137.8h4.2l-2.1 3.6zM97.9 120.3h4.2l-2.1 3.6zM103.3 136.1h4.2l-2.1 3.6zM101.4 142.8h4.2l-2.1 3.6zM99.6 160.0h4.2l-2.1 3.6zM106.4 132.6h4.2l-2.1 3.6zM103.4 145.4h4.2l-2.1 3.6zM98.0 153.1h4.2l-2.1 3.6zM94.1 121.7h4.2l-2.1 3.6zM87.4 143.0h4.2l-2.1 3.6zM88.2 140.6h4.2l-2.1 3.6zM83.2 142.9h4.2l-2.1 3.6zM95.1 130.1h4.2l-2.1 3.6zM92.3 136.4h4.2l-2.1 3.6zM106.3 141.5h4.2l-2.1 3.6zM95.6 140.7h4.2l-2.1 3.6zM106.1 143.7h4.2l-2.1 3.6zM114.3 131.9h4.2l-2.1 3.6zM105.4 140.3h4.2l-2.1 3.6zM91.6 145.0h4.2l-2.1 3.6zM105.6 148.8h4.2l-2.1 3.6zM102.2 130.4h4.2l-2.1 3.6zM99.2 142.9h4.2l-2.1 3.6zM113.5 140.3h4.2l-2.1 3.6zM99.1 154.6h4.2l-2.1 3.6zM98.2 134.7h4.2l-2.1 3.6zM100.3 146.8h4.2l-2.1 3.6zM99.1 122.5h4.2l-2.1 3.6zM93.8 149.1h4.2l-2.1 3.6zM90.5 147.6h4.2l-2.1 3.6zM99.2 131.2h4.2l-2.1 3.6zM105.2 117.8h4.2l-2.1 3.6zM77.6 123.7h4.2l-2.1 3.6zM102.6 136.4h4.2l-2.1 3.6zM103.6 138.3h4.2l-2.1 3.6zM98.8 133.9h4.2l-2.1 3.6zM93.8 148.9h4.2l-2.1 3.6zM104.9 125.9h4.2l-2.1 3.6zM103.1 159.2h4.2l-2.1 3.6zM104.8 129.8h4.2l-2.1 3.6zM104.7 141.3h4.2l-2.1 3.6zM94.6 148.7h4.2l-2.1 3.6zM109.3 134.0h4.2l-2.1 3.6zM98.8 135.2h4.2l-2.1 3.6zM97.6 154.9h4.2l-2.1 3.6zM93.5 144.8h4.2l-2.1 3.6zM100.1 139.9h4.2l-2.1 3.6zM86.9 145.3h4.2l-2.1 3.6zM87.2 146.3h4.2l-2.1 3.6zM96.8 140.5h4.2l-2.1 3.6zM93.2 130.7h4.2l-2.1 3.6zM87.9 139.2h4.2l-2.1 3.6zM96.8 141.9h4.2l-2.1 3.6zM94.9 146.8h4.2l-2.1 3.6zM99.0 140.3h4.2l-2.1 3.6zM95.3 138.9h4.2l-2.1 3.6zM103.8 132.2h4.2l-2.1 3.6zM86.2 142.9h4.2l-2.1 3.6zM101.6 139.4h4.2l-2.1 3.6zM99.9 126.3h4.2l-2.1 3.6zM88.4 139.1h4.2l-2.1 3.6zM97.3 126.9h4.2l-2.1 3.6zM102.0 120.4h4.2l-2.1 3.6zM109.3 128.7h4.2l-2.1 3.6zM92.3 128.8h4.2l-2.1 3.6zM84.8 136.0h4.2l-2.1 3.6zM79.7 135.8h4.2l-2.1 3.6zM99.2 136.2h4.2l-2.1 3.6zM97.4 124.9h4.2l-2.1 3.6zM80.1 126.0h4.2l-2.1 3.6zM107.6 142.2h4.2l-2.1 3.6zM80.6 155.9h4.2l-2.1 3.6zM103.5 149.8h4.2l-2.1 3.6zM107.1 151.9h4.2l-2.1 3.6zM81.6 139.8h4.2l-2.1 3.6zM90.2 158.1h4.2l-2.1 3.6zM104.0 139.0h4.2l-2.1 3.6zM95.1 118.3h4.2l-2.1 3.6zM98.5 130.8h4.2l-2.1 3.6zM110.4 146.4h4.2l-2.1 3.6zM96.8 135.2h4.2l-2.1 3.6zM108.0 133.8h4.2l-2.1 3.6zM107.9 141.1h4.2l-2.1 3.6zM94.8 142.7h4.2l-2.1 3.6zM114.1 123.3h4.2l-2.1 3.6zM104.6 146.3h4.2l-2.1 3.6zM95.1 153.5h4.2l-2.1 3.6zM103.9 144.4h4.2l-2.1 3.6zM88.0 144.7h4.2l-2.1 3.6zM85.3 144.0h4.2l-2.1 3.6zM117.9 130.2h4.2l-2.1 3.6zM112.3 128.4h4.2l-2.1 3.6zM98.2 146.1h4.2l-2.1 3.6zM83.9 142.3h4.2l-2.1 3.6zM90.2 133.0h4.2l-2.1 3.6zM105.5 138.3h4.2l-2.1 3.6zM101.4 139.2h4.2l-2.1 3.6zM101.1 154.4h4.2l-2.1 3.6zM98.7 136.2h4.2l-2.1 3.6zM97.8 146.1h4.2l-2.1 3.6zM101.9 117.9h4.2l-2.1 3.6zM96.8 143.3h4.2l-2.1 3.6zM122.2 133.2h4.2l-2.1 3.6zM94.9 127.6h4.2l-2.1 3.6zM96.9 121.6h4.2l-2.1 3.6zM89.6 138.2h4.2l-2.1 3.6zM83.2 136.4h4.2l-2.1 3.6zM91.0 151.5h4.2l-2.1 3.6zM112.6 159.9h4.2l-2.1 3.6zM98.9 145.7h4.2l-2.1 3.6zM120.0 132.7h4.2l-2.1 3.6zM113.6 130.0h4.2l-2.1 3.6zM107.5 123.6h4.2l-2.1 3.6zM93.8 137.1h4.2l-2.1 3.6zM95.1 119.8h4.2l-2.1 3.6zM98.7 136.2h4.2l-2.1 3.6zM111.6 144.8h4.2l-2.1 3.6zM76.9 140.3h4.2l-2.1 3.6zM107.6 138.1h4.2l-2.1 3.6zM90.8 125.5h4.2l-2.1 3.6zM94.0 129.7h4.2l-2.1 3.6zM94.9 135.8h4.2l-2.1 3.6zM109.7 129.3h4.2l-2.1 3.6zM100.7 128.2h4.2l-2.1 3.6zM100.1 149.2h4.2l-2.1 3.6zM92.1 127.3h4.2l-2.1 3.6zM97.8 139.2h4.2l-2.1 3.6zM91.4 143.2h4.2l-2.1 3.6zM98.2 145.7h4.2l-2.1 3.6zM84.4 146.5h4.2l-2.1 3.6zM109.5 130.9h4.2l-2.1 3.6zM116.3 141.3h4.2l-2.1 3.6zM85.1 128.4h4.2l-2.1 3.6zM90.4 132.6h4.2l-2.1 3.6zM95.2 142.0h4.2l-2.1 3.6zM95.6 135.8h4.2l-2.1 3.6zM88.3 118.7h4.2l-2.1 3.6zM90.7 126.8h4.2l-2.1 3.6zM105.9 115.0h4.2l-2.1 3.6zM108.4 110.7h4.2l-2.1 3.6zM95.6 139.1h4.2l-2.1 3.6zM86.9 129.3h4.2l-2.1 3.6zM105.8 128.3h4.2l-2.1 3.6zM96.6 139.4h4.2l-2.1 3.6zM103.7 126.5h4.2l-2.1 3.6zM110.0 137.5h4.2l-2.1 3.6zM107.1 125.0h4.2l-2.1 3.6zM107.9 138.1h4.2l-2.1 3.6zM104.9 132.6h4.2l-2.1 3.6zM105.7 139.3h4.2l-2.1 3.6zM79.4 163.8h4.2l-2.1 3.6zM91.1 143.6h4.2l-2.1 3.6zM95.6 134.5h4.2l-2.1 3.6zM93.9 148.1h4.2l-2.1 3.6zM106.4 148.2h4.2l-2.1 3.6zM81.9 147.1h4.2l-2.1 3.6zM83.1 162.0h4.2l-2.1 3.6zM101.2 150.3h4.2l-2.1 3.6zM97.4 140.4h4.2l-2.1 3.6zM90.7 158.8h4.2l-2.1 3.6zM94.3 149.9h4.2l-2.1 3.6zM89.7 137.5h4.2l-2.1 3.6zM93.8 137.9h4.2l-2.1 3.6zM92.6 145.3h4.2l-2.1 3.6zM103.8 123.0h4.2l-2.1 3.6zM93.3 125.9h4.2l-2.1 3.6zM107.7 126.5h4.2l-2.1 3.6zM102.0 140.5h4.2l-2.1 3.6zM97.0 119.6h4.2l-2.1 3.6zM113.7 137.5h4.2l-2.1 3.6zM104.0 149.5h4.2l-2.1 3.6zM87.9 129.1h4.2l-2.1 3.6zM114.0 158.4h4.2l-2.1 3.6zM89.6 138.2h4.2l-2.1 3.6zM106.6 137.5h4.2l-2.1 3.6zM110.1 145.0h4.2l-2.1 3.6zM96.8 145.7h4.2l-2.1 3.6zM92.9 151.6h4.2l-2.1 3.6zM91.2 152.1h4.2l-2.1 3.6zM121.6 121.5h4.2l-2.1 3.6zM113.8 124.2h4.2l-2.1 3.6zM96.8 157.3h4.2l-2.1 3.6zM107.9 145.8h4.2l-2.1 3.6zM101.1 140.8h4.2l-2.1 3.6zM101.9 137.1h4.2l-2.1 3.6zM94.8 126.7h4.2l-2.1 3.6zM114.2 138.8h4.2l-2.1 3.6zM115.8 146.5h4.2l-2.1 3.6zM101.9 128.1h4.2l-2.1 3.6zM95.0 139.5h4.2l-2.1 3.6zM96.4 136.0h4.2l-2.1 3.6zM75.6 135.0h4.2l-2.1 3.6zM95.1 134.2h4.2l-2.1 3.6zM94.5 123.4h4.2l-2.1 3.6zM89.3 153.8h4.2l-2.1 3.6zM88.5 133.8h4.2l-2.1 3.6zM89.6 137.4h4.2l-2.1 3.6zM92.5 159.1h4.2l-2.1 3.6zM87.5 152.6h4.2l-2.1 3.6zM93.0 143.5h4.2l-2.1 3.6zM121.9 138.9h4.2l-2.1 3.6zM97.5 110.4h4.2l-2.1 3.6zM94.3 136.8h4.2l-2.1 3.6zM98.8 141.4h4.2l-2.1 3.6zM87.0 129.7h4.2l-2.1 3.6zM104.9 136.4h4.2l-2.1 3.6zM97.9 145.7h4.2l-2.1 3.6zM98.6 140.6h4.2l-2.1 3.6zM87.2 139.1h4.2l-2.1 3.6zM81.3 156.8h4.2l-2.1 3.6zM90.2 156.0h4.2l-2.1 3.6zM92.8 137.8h4.2l-2.1 3.6zM110.1 141.2h4.2l-2.1 3.6zM99.4 136.4h4.2l-2.1 3.6zM95.1 131.8h4.2l-2.1 3.6zM90.2 121.2h4.2l-2.1 3.6zM96.2 131.3h4.2l-2.1 3.6zM111.2 160.4h4.2l-2.1 3.6zM116.0 127.2h4.2l-2.1 3.6zM94.2 137.9h4.2l-2.1 3.6zM82.9 154.8h4.2l-2.1 3.6zM104.5 142.1h4.2l-2.1 3.6zM116.3 144.1h4.2l-2.1 3.6zM94.8 142.0h4.2l-2.1 3.6zM93.2 144.0h4.2l-2.1 3.6zM85.1 144.3h4.2l-2.1 3.6zM94.8 134.9h4.2l-2.1 3.6zM94.0 138.0h4.2l-2.1 3.6zM80.9 145.2h4.2l-2.1 3.6zM95.8 157.2h4.2l-2.1 3.6zM97.6 148.7h4.2l-2.1 3.6zM97.4 137.9h4.2l-2.1 3.6zM86.0 134.6h4.2l-2.1 3.6zM92.1 115.0h4.2l-2.1 3.6zM94.9 132.0h4.2l-2.1 3.6zM100.7 149.6h4.2l-2.1 3.6zM94.8 151.1h4.2l-2.1 3.6zM109.7 146.9h4.2l-2.1 3.6zM100.1 144.5h4.2l-2.1 3.6zM132.7 169.8h4.2l-2.1 3.6zM124.6 112.4h4.2l-2.1 3.6zM68.1 173.9h4.2l-2.1 3.6zM117.5 166.4h4.2l-2.1 3.6zM115.2 137.4h4.2l-2.1 3.6zM113.3 141.9h4.2l-2.1 3.6zM130.5 157.5h4.2l-2.1 3.6zM90.0 129.4h4.2l-2.1 3.6zM122.5 158.2h4.2l-2.1 3.6zM110.5 148.8h4.2l-2.1 3.6zM85.0 127.7h4.2l-2.1 3.6zM114.4 110.6h4.2l-2.1 3.6zM113.8 153.0h4.2l-2.1 3.6zM116.6 157.7h4.2l-2.1 3.6zM137.4 147.9h4.2l-2.1 3.6zM92.2 112.8h4.2l-2.1 3.6zM68.4 144.5h4.2l-2.1 3.6zM120.5 113.4h4.2l-2.1 3.6zM108.7 130.2h4.2l-2.1 3.6zM101.5 146.6h4.2l-2.1 3.6zM106.4 122.0h4.2l-2.1 3.6zM118.3 140.5h4.2l-2.1 3.6zM74.6 156.4h4.2l-2.1 3.6zM131.9 136.0h4.2l-2.1 3.6zM132.4 115.0h4.2l-2.1 3.6zM101.6 165.7h4.2l-2.1 3.6zM127.5 151.9h4.2l-2.1 3.6zM123.4 135.6h4.2l-2.1 3.6zM117.7 159.7h4.2l-2.1 3.6zM121.5 149.5h4.2l-2.1 3.6zM119.7 150.5h4.2l-2.1 3.6zM115.9 115.6h4.2l-2.1 3.6zM115.7 126.3h4.2l-2.1 3.6zM99.5 143.8h4.2l-2.1 3.6zM109.9 119.7h4.2l-2.1 3.6zM97.0 147.1h4.2l-2.1 3.6zM99.0 143.3h4.2l-2.1 3.6zM109.6 146.6h4.2l-2.1 3.6zM96.7 146.0h4.2l-2.1 3.6zM115.3 120.5h4.2l-2.1 3.6zM118.7 125.2h4.2l-2.1 3.6zM111.8 153.6h4.2l-2.1 3.6zM116.4 122.1h4.2l-2.1 3.6zM90.5 122.0h4.2l-2.1 3.6zM115.2 145.2h4.2l-2.1 3.6zM75.8 155.8h4.2l-2.1 3.6zM125.4 133.6h4.2l-2.1 3.6zM104.4 147.1h4.2l-2.1 3.6zM88.9 135.2h4.2l-2.1 3.6zM114.9 136.7h4.2l-2.1 3.6zM105.5 144.7h4.2l-2.1 3.6zM134.2 147.4h4.2l-2.1 3.6zM111.3 134.4h4.2l-2.1 3.6zM126.2 143.9h4.2l-2.1 3.6zM105.2 165.9h4.2l-2.1 3.6zM128.0 126.4h4.2l-2.1 3.6zM100.5 165.2h4.2l-2.1 3.6zM97.8 170.3h4.2l-2.1 3.6zM103.0 177.0h4.2l-2.1 3.6zM89.6 108.5h4.2l-2.1 3.6zM81.5 177.5h4.2l-2.1 3.6zM93.6 135.0h4.2l-2.1 3.6zM96.1 129.7h4.2l-2.1 3.6zM108.3 145.0h4.2l-2.1 3.6zM95.3 133.4h4.2l-2.1 3.6zM127.8 159.5h4.2l-2.1 3.6zM122.1 164.5h4.2l-2.1 3.6zM102.4 158.2h4.2l-2.1 3.6zM132.9 128.2h4.2l-2.1 3.6zM128.1 99.4h4.2l-2.1 3.6zM74.0 116.9h4.2l-2.1 3.6zM89.0 125.6h4.2l-2.1 3.6zM97.5 157.0h4.2l-2.1 3.6zM93.4 136.1h4.2l-2.1 3.6zM84.0 114.5h4.2l-2.1 3.6zM102.5 129.4h4.2l-2.1 3.6zM120.2 144.6h4.2l-2.1 3.6zM75.5 155.3h4.2l-2.1 3.6zM85.6 135.5h4.2l-2.1 3.6zM88.2 128.0h4.2l-2.1 3.6zM95.5 121.6h4.2l-2.1 3.6zM93.3 137.5h4.2l-2.1 3.6zM117.4 154.9h4.2l-2.1 3.6zM134.9 114.0h4.2l-2.1 3.6zM98.9 163.7h4.2l-2.1 3.6zM86.7 139.5h4.2l-2.1 3.6zM117.4 169.5h4.2l-2.1 3.6zM114.9 148.1h4.2l-2.1 3.6zM102.7 153.3h4.2l-2.1 3.6zM107.0 148.4h4.2l-2.1 3.6zM94.7 140.1h4.2l-2.1 3.6zM90.7 123.2h4.2l-2.1 3.6zM91.3 127.6h4.2l-2.1 3.6zM94.2 132.2h4.2l-2.1 3.6zM80.1 147.7h4.2l-2.1 3.6zM110.5 169.5h4.2l-2.1 3.6zM66.3 117.4h4.2l-2.1 3.6zM89.2 127.0h4.2l-2.1 3.6zM106.3 127.4h4.2l-2.1 3.6zM92.5 155.1h4.2l-2.1 3.6zM102.2 113.9h4.2l-2.1 3.6zM120.9 181.6h4.2l-2.1 3.6zM123.9 139.4h4.2l-2.1 3.6zM127.7 141.0h4.2l-2.1 3.6zM99.4 146.7h4.2l-2.1 3.6zM126.6 144.2h4.2l-2.1 3.6zM100.2 118.0h4.2l-2.1 3.6zM108.3 123.4h4.2l-2.1 3.6zM103.6 117.9h4.2l-2.1 3.6zM90.9 125.2h4.2l-2.1 3.6zM94.2 122.2h4.2l-2.1 3.6zM125.5 155.8h4.2l-2.1 3.6zM99.7 124.0h4.2l-2.1 3.6zM123.3 137.9h4.2l-2.1 3.6zM114.6 159.8h4.2l-2.1 3.6zM98.5 149.9h4.2l-2.1 3.6zM112.6 134.7h4.2l-2.1 3.6zM102.3 131.3h4.2l-2.1 3.6zM49.1 135.4h4.2l-2.1 3.6zM132.4 160.0h4.2l-2.1 3.6zM150.1 143.5h4.2l-2.1 3.6zM119.8 131.3h4.2l-2.1 3.6zM92.8 126.9h4.2l-2.1 3.6zM112.7 155.8h4.2l-2.1 3.6zM73.6 154.5h4.2l-2.1 3.6zM120.2 156.0h4.2l-2.1 3.6zM84.1 145.7h4.2l-2.1 3.6zM110.6 118.9h4.2l-2.1 3.6zM86.4 180.7h4.2l-2.1 3.6zM94.0 133.6h4.2l-2.1 3.6zM73.0 131.4h4.2l-2.1 3.6zM127.5 149.0h4.2l-2.1 3.6zM91.1 142.8h4.2l-2.1 3.6zM111.2 152.4h4.2l-2.1 3.6zM88.7 148.7h4.2l-2.1 3.6zM94.2 133.4h4.2l-2.1 3.6zM91.1 128.1h4.2l-2.1 3.6zM113.1 111.4h4.2l-2.1 3.6zM108.3 189.6h4.2l-2.1 3.6zM90.4 137.2h4.2l-2.1 3.6zM103.9 169.3h4.2l-2.1 3.6zM81.6 152.0h4.2l-2.1 3.6zM103.5 176.4h4.2l-2.1 3.6zM101.7 176.9h4.2l-2.1 3.6zM89.2 148.4h4.2l-2.1 3.6zM87.0 131.7h4.2l-2.1 3.6zM84.5 135.0h4.2l-2.1 3.6zM130.6 132.8h4.2l-2.1 3.6zM145.7 170.2h4.2l-2.1 3.6zM110.1 142.3h4.2l-2.1 3.6zM110.2 128.9h4.2l-2.1 3.6zM114.8 143.7h4.2l-2.1 3.6zM72.9 142.7h4.2l-2.1 3.6zM114.5 143.0h4.2l-2.1 3.6zM110.2 142.2h4.2l-2.1 3.6zM97.1 160.4h4.2l-2.1 3.6zM128.1 136.8h4.2l-2.1 3.6zM118.2 123.2h4.2l-2.1 3.6zM125.6 127.7h4.2l-2.1 3.6zM105.7 158.6h4.2l-2.1 3.6zM96.8 142.8h4.2l-2.1 3.6zM121.5 132.5h4.2l-2.1 3.6zM110.6 161.1h4.2l-2.1 3.6zM109.2 128.5h4.2l-2.1 3.6zM98.5 137.7h4.2l-2.1 3.6zM105.3 153.0h4.2l-2.1 3.6zM79.5 140.8h4.2l-2.1 3.6zM108.3 168.2h4.2l-2.1 3.6zM81.1 126.7h4.2l-2.1 3.6zM119.6 141.3h4.2l-2.1 3.6zM122.9 141.3h4.2l-2.1 3.6zM94.4 141.0h4.2l-2.1 3.6zM125.2 154.5h4.2l-2.1 3.6zM108.2 144.5h4.2l-2.1 3.6zM122.5 152.7h4.2l-2.1 3.6zM109.0 154.6h4.2l-2.1 3.6zM106.6 122.8h4.2l-2.1 3.6zM119.7 162.8h4.2l-2.1 3.6zM127.7 140.9h4.2l-2.1 3.6zM85.4 149.1h4.2l-2.1 3.6zM95.5 109.8h4.2l-2.1 3.6zM107.5 128.8h4.2l-2.1 3.6zM106.2 133.7h4.2l-2.1 3.6zM118.3 156.7h4.2l-2.1 3.6zM113.2 162.3h4.2l-2.1 3.6zM96.3 182.7h4.2l-2.1 3.6zM77.0 154.8h4.2l-2.1 3.6zM121.7 135.2h4.2l-2.1 3.6zM106.9 121.5h4.2l-2.1 3.6zM97.8 147.0h4.2l-2.1 3.6zM84.5 108.5h4.2l-2.1 3.6zM99.2 127.6h4.2l-2.1 3.6zM89.4 139.1h4.2l-2.1 3.6zM82.7 160.7h4.2l-2.1 3.6zM123.6 142.5h4.2l-2.1 3.6zM95.4 141.0h4.2l-2.1 3.6zM103.3 128.4h4.2l-2.1 3.6zM94.5 149.2h4.2l-2.1 3.6zM90.4 131.0h4.2l-2.1 3.6zM97.7 124.9h4.2l-2.1 3.6zM109.1 120.0h4.2l-2.1 3.6zM119.9 154.2h4.2l-2.1 3.6zM104.4 156.4h4.2l-2.1 3.6zM122.6 135.3h4.2l-2.1 3.6zM104.0 131.5h4.2l-2.1 3.6zM99.0 135.3h4.2l-2.1 3.6zM106.2 150.7h4.2l-2.1 3.6zM140.3 147.6h4.2l-2.1 3.6zM120.1 138.0h4.2l-2.1 3.6zM131.5 144.0h4.2l-2.1 3.6zM102.1 137.1h4.2l-2.1 3.6zM105.3 135.2h4.2l-2.1 3.6zM107.7 171.9h4.2l-2.1 3.6zM106.0 129.0h4.2l-2.1 3.6zM75.1 140.1h4.2l-2.1 3.6zM88.7 128.8h4.2l-2.1 3.6zM107.2 147.7h4.2l-2.1 3.6zM112.4 161.4h4.2l-2.1 3.6zM89.6 130.7h4.2l-2.1 3.6zM90.7 124.7h4.2l-2.1 3.6zM94.3 127.4h4.2l-2.1 3.6zM115.8 123.7h4.2l-2.1 3.6zM139.9 106.8h4.2l-2.1 3.6zM118.0 115.1h4.2l-2.1 3.6zM95.7 115.7h4.2l-2.1 3.6zM109.9 161.7h4.2l-2.1 3.6zM97.7 130.8h4.2l-2.1 3.6zM80.9 125.8h4.2l-2.1 3.6zM84.9 130.2h4.2l-2.1 3.6zM111.4 172.5h4.2l-2.1 3.6zM89.2 93.6h4.2l-2.1 3.6zM98.8 170.8h4.2l-2.1 3.6zM79.6 158.3h4.2l-2.1 3.6zM75.8 113.9h4.2l-2.1 3.6zM115.8 98.1h4.2l-2.1 3.6zM97.4 74.8h4.2l-2.1 3.6zM78.7 158.4h4.2l-2.1 3.6zM94.6 128.9h4.2l-2.1 3.6z" fill="#000" fill-opacity="0.56"/>
<path d="M181.9 120.2h4.2l-2.1 3.6zM179.9 132.8h4.2l-2.1 3.6zM169.9 140.8h4.2l-2.1 3.6zM182.9 163.6h4.2l-2.1 3.6zM191.9 160.6h4.2l-2.1 3.6zM197.9 156.2h4.2l-2.1 3.6zM180.9 171.6h4.2l-2.1 3.6zM177.9 192.8h4.2l-2.1 3.6zM155.9 210.7h4.2l-2.1 3.6zM145.4 222.4h4.2l-2.1 3.6zM97.9 74.7h4.2l-2.1 3.6zM116.4 75.2h4.2l-2.1 3.6zM121.4 75.2h4.2l-2.1 3.6zM78.4 82.2h4.2l-2.1 3.6zM42.9 95.7h4.2l-2.1 3.6zM159.4 98.2h4.2l-2.1 3.6zM163.9 152.2h4.2l-2.1 3.6zM165.9 146.2h4.2l-2.1 3.6z" fill="#000" fill-opacity="0.6"/>
<path d="M102.1 139.6h7M105.6 136.1v7" stroke="#E06020" stroke-width="0.7"/>
</g>
<clipPath id="scc"><rect x="24" y="336.8" width="177.8" height="166.2" rx="9"/></clipPath>
<rect x="24.0" y="336.8" width="177.8" height="166.2" rx="9" fill="#fff" />
<g clip-path="url(#scc)">
<path d="M42.3 336.8V503M76.5 336.8V503M110.3 336.8V503M144.5 336.8V503M179 336.8V503M24 351.5H201.8M24 385.1H201.8M24 419.3H201.8M24 452.4H201.8M24 486.4H201.8" stroke="#EAEAEA" stroke-width="0.8" fill="none"/>
<circle cx="108.7" cy="419.7" r="80" fill="#FFFF80"/>
<path d="M109.6 406.0h4.2l-2.1 3.6zM87.6 413.1h4.2l-2.1 3.6zM101.6 420.8h4.2l-2.1 3.6zM100.2 435.4h4.2l-2.1 3.6zM109.9 416.8h4.2l-2.1 3.6zM132.6 396.9h4.2l-2.1 3.6zM105.7 407.8h4.2l-2.1 3.6zM130.5 422.8h4.2l-2.1 3.6zM113.2 424.3h4.2l-2.1 3.6zM121.6 411.1h4.2l-2.1 3.6zM114.3 394.6h4.2l-2.1 3.6zM109.9 434.7h4.2l-2.1 3.6zM113.8 427.1h4.2l-2.1 3.6zM78.0 419.9h4.2l-2.1 3.6zM98.0 440.0h4.2l-2.1 3.6zM109.5 427.8h4.2l-2.1 3.6zM119.5 426.1h4.2l-2.1 3.6zM84.6 407.4h4.2l-2.1 3.6zM75.1 435.7h4.2l-2.1 3.6zM99.9 400.7h4.2l-2.1 3.6zM108.9 412.7h4.2l-2.1 3.6zM98.4 436.9h4.2l-2.1 3.6zM75.6 398.1h4.2l-2.1 3.6zM101.1 415.2h4.2l-2.1 3.6zM117.1 413.6h4.2l-2.1 3.6zM109.2 442.8h4.2l-2.1 3.6zM84.5 398.7h4.2l-2.1 3.6zM93.1 415.7h4.2l-2.1 3.6zM88.0 422.2h4.2l-2.1 3.6zM92.3 434.5h4.2l-2.1 3.6zM109.0 428.1h4.2l-2.1 3.6zM105.2 421.5h4.2l-2.1 3.6zM81.1 415.4h4.2l-2.1 3.6zM79.1 437.2h4.2l-2.1 3.6zM87.5 405.8h4.2l-2.1 3.6zM96.4 449.4h4.2l-2.1 3.6zM87.9 442.1h4.2l-2.1 3.6zM104.1 454.9h4.2l-2.1 3.6zM99.4 410.9h4.2l-2.1 3.6zM102.0 410.8h4.2l-2.1 3.6zM93.0 428.5h4.2l-2.1 3.6zM96.4 431.0h4.2l-2.1 3.6zM110.2 431.6h4.2l-2.1 3.6zM122.9 433.5h4.2l-2.1 3.6zM90.0 437.4h4.2l-2.1 3.6zM70.0 436.4h4.2l-2.1 3.6zM118.2 403.6h4.2l-2.1 3.6zM119.1 392.2h4.2l-2.1 3.6zM115.5 412.9h4.2l-2.1 3.6zM98.6 416.2h4.2l-2.1 3.6zM95.0 428.9h4.2l-2.1 3.6zM101.7 418.0h4.2l-2.1 3.6zM103.0 413.5h4.2l-2.1 3.6zM89.1 427.0h4.2l-2.1 3.6zM113.3 402.0h4.2l-2.1 3.6zM114.9 436.4h4.2l-2.1 3.6zM104.6 439.2h4.2l-2.1 3.6zM74.0 437.9h4.2l-2.1 3.6zM92.7 422.8h4.2l-2.1 3.6zM90.4 453.1h4.2l-2.1 3.6zM97.1 428.0h4.2l-2.1 3.6zM83.3 414.5h4.2l-2.1 3.6zM108.0 417.0h4.2l-2.1 3.6zM92.6 439.6h4.2l-2.1 3.6zM82.2 419.9h4.2l-2.1 3.6zM100.2 413.5h4.2l-2.1 3.6zM110.9 422.0h4.2l-2.1 3.6zM100.1 427.9h4.2l-2.1 3.6zM101.4 426.2h4.2l-2.1 3.6zM119.1 422.1h4.2l-2.1 3.6zM103.3 410.7h4.2l-2.1 3.6zM121.0 432.3h4.2l-2.1 3.6zM109.4 423.0h4.2l-2.1 3.6zM91.6 419.9h4.2l-2.1 3.6zM106.4 402.4h4.2l-2.1 3.6zM90.0 417.1h4.2l-2.1 3.6zM127.6 423.9h4.2l-2.1 3.6zM83.5 436.6h4.2l-2.1 3.6zM114.2 428.7h4.2l-2.1 3.6zM95.3 417.1h4.2l-2.1 3.6zM131.1 434.5h4.2l-2.1 3.6zM162.5 393.1h4.2l-2.1 3.6zM81.8 412.7h4.2l-2.1 3.6zM90.5 409.4h4.2l-2.1 3.6zM112.0 437.5h4.2l-2.1 3.6zM83.8 426.8h4.2l-2.1 3.6zM113.8 422.4h4.2l-2.1 3.6zM120.3 435.2h4.2l-2.1 3.6zM91.9 420.8h4.2l-2.1 3.6zM106.1 402.0h4.2l-2.1 3.6zM99.5 433.2h4.2l-2.1 3.6zM107.7 419.3h4.2l-2.1 3.6zM136.5 427.7h4.2l-2.1 3.6zM115.1 406.6h4.2l-2.1 3.6zM118.6 412.7h4.2l-2.1 3.6zM100.3 413.0h4.2l-2.1 3.6zM85.8 427.0h4.2l-2.1 3.6zM86.4 430.6h4.2l-2.1 3.6zM92.0 436.8h4.2l-2.1 3.6zM107.0 435.4h4.2l-2.1 3.6zM88.1 426.9h4.2l-2.1 3.6zM112.4 422.9h4.2l-2.1 3.6zM101.2 410.7h4.2l-2.1 3.6zM59.9 426.1h4.2l-2.1 3.6zM85.9 404.2h4.2l-2.1 3.6zM107.5 381.4h4.2l-2.1 3.6zM92.6 428.6h4.2l-2.1 3.6zM103.0 415.9h4.2l-2.1 3.6zM92.4 421.5h4.2l-2.1 3.6zM82.4 411.0h4.2l-2.1 3.6zM113.2 406.0h4.2l-2.1 3.6zM100.9 413.7h4.2l-2.1 3.6zM86.2 391.0h4.2l-2.1 3.6zM91.2 408.0h4.2l-2.1 3.6zM89.0 418.2h4.2l-2.1 3.6zM106.8 427.9h4.2l-2.1 3.6zM107.4 402.4h4.2l-2.1 3.6zM121.0 424.0h4.2l-2.1 3.6zM112.4 400.8h4.2l-2.1 3.6zM117.0 451.5h4.2l-2.1 3.6zM109.6 434.9h4.2l-2.1 3.6zM95.0 421.4h4.2l-2.1 3.6zM102.0 428.5h4.2l-2.1 3.6zM104.8 422.9h4.2l-2.1 3.6zM90.7 402.2h4.2l-2.1 3.6zM102.6 454.9h4.2l-2.1 3.6zM89.7 426.6h4.2l-2.1 3.6zM120.4 409.9h4.2l-2.1 3.6zM81.0 424.3h4.2l-2.1 3.6zM102.2 406.8h4.2l-2.1 3.6zM122.7 429.2h4.2l-2.1 3.6zM102.7 399.6h4.2l-2.1 3.6zM119.4 435.3h4.2l-2.1 3.6zM113.8 442.3h4.2l-2.1 3.6zM89.1 404.9h4.2l-2.1 3.6zM114.4 425.5h4.2l-2.1 3.6zM102.2 412.2h4.2l-2.1 3.6zM116.4 422.8h4.2l-2.1 3.6zM114.3 402.9h4.2l-2.1 3.6zM103.6 425.1h4.2l-2.1 3.6zM116.4 395.4h4.2l-2.1 3.6zM100.1 409.8h4.2l-2.1 3.6zM102.9 417.2h4.2l-2.1 3.6zM108.5 430.5h4.2l-2.1 3.6zM106.4 418.2h4.2l-2.1 3.6zM114.6 439.2h4.2l-2.1 3.6zM103.7 407.8h4.2l-2.1 3.6zM126.4 432.3h4.2l-2.1 3.6zM131.9 413.3h4.2l-2.1 3.6zM97.7 416.7h4.2l-2.1 3.6zM101.7 398.2h4.2l-2.1 3.6zM114.1 397.9h4.2l-2.1 3.6zM65.9 418.5h4.2l-2.1 3.6zM88.6 422.9h4.2l-2.1 3.6zM87.4 399.8h4.2l-2.1 3.6zM75.5 401.2h4.2l-2.1 3.6zM99.0 449.8h4.2l-2.1 3.6zM111.9 409.9h4.2l-2.1 3.6zM120.9 422.7h4.2l-2.1 3.6zM77.9 394.1h4.2l-2.1 3.6zM82.7 410.9h4.2l-2.1 3.6zM103.4 410.4h4.2l-2.1 3.6zM95.7 405.7h4.2l-2.1 3.6zM105.2 430.6h4.2l-2.1 3.6zM88.6 437.1h4.2l-2.1 3.6zM91.7 415.1h4.2l-2.1 3.6zM125.2 427.9h4.2l-2.1 3.6zM103.5 391.6h4.2l-2.1 3.6zM104.0 414.1h4.2l-2.1 3.6zM100.0 435.1h4.2l-2.1 3.6zM95.6 445.1h4.2l-2.1 3.6zM103.6 421.6h4.2l-2.1 3.6zM98.8 420.6h4.2l-2.1 3.6zM121.0 422.7h4.2l-2.1 3.6zM89.5 408.1h4.2l-2.1 3.6zM118.6 427.2h4.2l-2.1 3.6zM91.5 417.4h4.2l-2.1 3.6zM104.2 427.5h4.2l-2.1 3.6zM90.1 420.7h4.2l-2.1 3.6zM85.5 408.1h4.2l-2.1 3.6zM99.9 438.8h4.2l-2.1 3.6zM101.7 443.2h4.2l-2.1 3.6zM108.1 437.9h4.2l-2.1 3.6zM100.8 393.3h4.2l-2.1 3.6zM73.7 413.0h4.2l-2.1 3.6zM126.8 417.0h4.2l-2.1 3.6zM96.2 428.1h4.2l-2.1 3.6zM97.9 413.8h4.2l-2.1 3.6zM105.6 425.0h4.2l-2.1 3.6zM95.1 407.5h4.2l-2.1 3.6zM124.5 406.8h4.2l-2.1 3.6zM90.8 416.6h4.2l-2.1 3.6zM101.0 423.5h4.2l-2.1 3.6zM123.9 438.1h4.2l-2.1 3.6zM102.4 421.0h4.2l-2.1 3.6zM116.0 417.4h4.2l-2.1 3.6zM105.2 403.5h4.2l-2.1 3.6zM108.3 418.0h4.2l-2.1 3.6zM83.7 422.7h4.2l-2.1 3.6zM132.7 424.2h4.2l-2.1 3.6zM92.2 437.7h4.2l-2.1 3.6zM107.7 422.0h4.2l-2.1 3.6zM123.3 432.4h4.2l-2.1 3.6zM131.0 407.7h4.2l-2.1 3.6zM97.1 418.0h4.2l-2.1 3.6zM105.6 402.2h4.2l-2.1 3.6zM106.8 399.1h4.2l-2.1 3.6zM95.3 415.6h4.2l-2.1 3.6zM106.4 423.9h4.2l-2.1 3.6zM92.7 424.1h4.2l-2.1 3.6zM107.0 417.9h4.2l-2.1 3.6zM103.3 411.9h4.2l-2.1 3.6zM127.3 439.0h4.2l-2.1 3.6zM106.3 438.3h4.2l-2.1 3.6zM91.2 411.8h4.2l-2.1 3.6zM98.5 425.7h4.2l-2.1 3.6zM98.5 406.0h4.2l-2.1 3.6zM82.8 403.3h4.2l-2.1 3.6zM115.5 426.2h4.2l-2.1 3.6zM84.0 446.0h4.2l-2.1 3.6zM96.4 412.6h4.2l-2.1 3.6zM100.7 419.8h4.2l-2.1 3.6zM97.8 418.7h4.2l-2.1 3.6zM113.3 432.4h4.2l-2.1 3.6zM93.8 416.8h4.2l-2.1 3.6zM92.8 412.9h4.2l-2.1 3.6zM101.6 414.7h4.2l-2.1 3.6zM110.9 405.9h4.2l-2.1 3.6zM108.1 429.8h4.2l-2.1 3.6zM98.7 414.5h4.2l-2.1 3.6zM120.9 415.4h4.2l-2.1 3.6zM102.3 427.5h4.2l-2.1 3.6zM59.8 437.8h4.2l-2.1 3.6zM113.7 435.3h4.2l-2.1 3.6zM81.5 414.5h4.2l-2.1 3.6zM117.7 434.8h4.2l-2.1 3.6zM97.2 413.7h4.2l-2.1 3.6zM139.2 428.8h4.2l-2.1 3.6zM133.4 395.2h4.2l-2.1 3.6zM117.4 411.7h4.2l-2.1 3.6zM98.9 449.6h4.2l-2.1 3.6zM88.0 403.6h4.2l-2.1 3.6zM95.1 418.2h4.2l-2.1 3.6zM109.5 432.0h4.2l-2.1 3.6zM133.6 433.0h4.2l-2.1 3.6zM143.9 445.4h4.2l-2.1 3.6zM119.8 420.2h4.2l-2.1 3.6zM136.2 417.0h4.2l-2.1 3.6zM128.6 423.9h4.2l-2.1 3.6zM97.9 437.0h4.2l-2.1 3.6zM122.5 429.6h4.2l-2.1 3.6zM130.6 425.7h4.2l-2.1 3.6zM94.5 425.0h4.2l-2.1 3.6zM145.9 403.2h4.2l-2.1 3.6zM72.9 423.3h4.2l-2.1 3.6zM88.7 451.2h4.2l-2.1 3.6zM112.1 403.9h4.2l-2.1 3.6zM107.8 403.7h4.2l-2.1 3.6zM118.6 442.6h4.2l-2.1 3.6zM132.9 445.1h4.2l-2.1 3.6zM108.6 447.8h4.2l-2.1 3.6zM118.6 396.7h4.2l-2.1 3.6zM135.9 404.9h4.2l-2.1 3.6zM97.3 390.9h4.2l-2.1 3.6zM92.6 379.4h4.2l-2.1 3.6zM84.5 405.9h4.2l-2.1 3.6zM85.4 415.2h4.2l-2.1 3.6zM124.7 416.8h4.2l-2.1 3.6zM117.6 446.2h4.2l-2.1 3.6zM96.9 454.0h4.2l-2.1 3.6zM108.1 422.2h4.2l-2.1 3.6zM116.0 451.4h4.2l-2.1 3.6zM84.9 442.4h4.2l-2.1 3.6zM99.4 425.1h4.2l-2.1 3.6zM88.9 370.6h4.2l-2.1 3.6zM132.1 439.1h4.2l-2.1 3.6zM88.1 404.3h4.2l-2.1 3.6zM85.1 422.4h4.2l-2.1 3.6zM149.4 420.3h4.2l-2.1 3.6zM75.3 438.6h4.2l-2.1 3.6zM91.0 390.2h4.2l-2.1 3.6zM116.6 423.1h4.2l-2.1 3.6zM112.3 438.0h4.2l-2.1 3.6zM127.9 379.9h4.2l-2.1 3.6zM112.3 447.1h4.2l-2.1 3.6zM133.5 401.7h4.2l-2.1 3.6zM72.7 400.1h4.2l-2.1 3.6zM116.7 419.0h4.2l-2.1 3.6zM125.1 419.5h4.2l-2.1 3.6zM83.7 400.1h4.2l-2.1 3.6zM104.3 440.5h4.2l-2.1 3.6zM138.2 402.4h4.2l-2.1 3.6zM117.7 421.8h4.2l-2.1 3.6zM85.9 398.6h4.2l-2.1 3.6zM139.9 414.1h4.2l-2.1 3.6zM107.2 432.7h4.2l-2.1 3.6zM116.1 437.6h4.2l-2.1 3.6zM93.0 415.2h4.2l-2.1 3.6zM114.0 430.4h4.2l-2.1 3.6zM94.4 387.8h4.2l-2.1 3.6zM126.0 440.9h4.2l-2.1 3.6zM127.7 420.7h4.2l-2.1 3.6zM73.3 414.9h4.2l-2.1 3.6zM149.1 429.5h4.2l-2.1 3.6zM113.9 389.3h4.2l-2.1 3.6zM96.1 443.6h4.2l-2.1 3.6zM115.5 420.5h4.2l-2.1 3.6zM133.8 438.0h4.2l-2.1 3.6zM119.8 419.7h4.2l-2.1 3.6zM117.3 444.8h4.2l-2.1 3.6zM115.1 397.0h4.2l-2.1 3.6zM105.4 417.4h4.2l-2.1 3.6zM117.2 449.7h4.2l-2.1 3.6zM107.5 414.1h4.2l-2.1 3.6zM123.5 433.0h4.2l-2.1 3.6zM93.4 432.9h4.2l-2.1 3.6zM112.7 430.4h4.2l-2.1 3.6zM78.6 382.0h4.2l-2.1 3.6zM79.0 388.0h4.2l-2.1 3.6zM128.2 444.0h4.2l-2.1 3.6zM83.3 453.7h4.2l-2.1 3.6zM86.4 406.4h4.2l-2.1 3.6zM151.8 396.4h4.2l-2.1 3.6zM122.9 440.3h4.2l-2.1 3.6zM130.9 437.0h4.2l-2.1 3.6zM113.9 455.3h4.2l-2.1 3.6zM107.4 425.3h4.2l-2.1 3.6zM116.8 416.1h4.2l-2.1 3.6zM106.1 448.5h4.2l-2.1 3.6zM141.1 435.9h4.2l-2.1 3.6zM106.8 412.9h4.2l-2.1 3.6zM101.3 415.6h4.2l-2.1 3.6zM100.2 421.4h4.2l-2.1 3.6zM104.6 445.7h4.2l-2.1 3.6zM80.9 414.8h4.2l-2.1 3.6zM125.1 414.8h4.2l-2.1 3.6zM100.8 434.8h4.2l-2.1 3.6zM107.4 403.2h4.2l-2.1 3.6zM112.0 436.5h4.2l-2.1 3.6zM75.5 442.3h4.2l-2.1 3.6zM75.0 437.8h4.2l-2.1 3.6zM82.9 428.1h4.2l-2.1 3.6zM108.2 444.7h4.2l-2.1 3.6zM107.6 414.5h4.2l-2.1 3.6zM94.3 427.8h4.2l-2.1 3.6zM104.3 441.7h4.2l-2.1 3.6zM117.3 449.3h4.2l-2.1 3.6zM123.2 427.1h4.2l-2.1 3.6zM107.8 436.4h4.2l-2.1 3.6zM124.3 395.6h4.2l-2.1 3.6zM117.0 415.9h4.2l-2.1 3.6zM115.5 440.0h4.2l-2.1 3.6zM71.1 421.1h4.2l-2.1 3.6zM129.0 387.3h4.2l-2.1 3.6zM113.6 423.7h4.2l-2.1 3.6zM97.9 442.2h4.2l-2.1 3.6zM127.5 424.0h4.2l-2.1 3.6zM137.2 453.9h4.2l-2.1 3.6zM113.2 441.0h4.2l-2.1 3.6zM126.6 459.5h4.2l-2.1 3.6zM125.3 437.9h4.2l-2.1 3.6zM111.7 438.7h4.2l-2.1 3.6zM140.5 422.1h4.2l-2.1 3.6zM107.3 403.6h4.2l-2.1 3.6zM160.2 415.5h4.2l-2.1 3.6zM99.4 411.9h4.2l-2.1 3.6zM132.8 431.1h4.2l-2.1 3.6zM69.2 426.8h4.2l-2.1 3.6zM145.8 422.8h4.2l-2.1 3.6zM111.7 483.8h4.2l-2.1 3.6zM104.7 419.4h4.2l-2.1 3.6zM122.1 474.4h4.2l-2.1 3.6zM118.2 390.1h4.2l-2.1 3.6zM106.6 419.3h4.2l-2.1 3.6zM124.4 416.4h4.2l-2.1 3.6zM112.3 397.3h4.2l-2.1 3.6zM84.5 425.1h4.2l-2.1 3.6zM142.0 403.7h4.2l-2.1 3.6zM78.1 448.5h4.2l-2.1 3.6zM117.3 440.6h4.2l-2.1 3.6zM106.2 429.1h4.2l-2.1 3.6zM107.8 424.0h4.2l-2.1 3.6zM145.1 415.6h4.2l-2.1 3.6zM101.8 424.2h4.2l-2.1 3.6zM106.1 459.2h4.2l-2.1 3.6zM106.5 432.2h4.2l-2.1 3.6zM85.3 435.4h4.2l-2.1 3.6zM122.5 437.8h4.2l-2.1 3.6zM77.9 411.1h4.2l-2.1 3.6zM57.5 458.8h4.2l-2.1 3.6zM107.7 458.2h4.2l-2.1 3.6zM147.9 445.5h4.2l-2.1 3.6zM97.1 419.6h4.2l-2.1 3.6zM125.3 383.2h4.2l-2.1 3.6zM137.2 454.9h4.2l-2.1 3.6zM127.0 418.2h4.2l-2.1 3.6zM116.9 390.8h4.2l-2.1 3.6zM90.8 414.7h4.2l-2.1 3.6zM94.7 458.8h4.2l-2.1 3.6zM118.7 373.6h4.2l-2.1 3.6zM132.5 434.5h4.2l-2.1 3.6zM105.0 409.1h4.2l-2.1 3.6zM150.9 429.0h4.2l-2.1 3.6zM115.0 390.6h4.2l-2.1 3.6zM98.2 442.8h4.2l-2.1 3.6zM112.3 414.6h4.2l-2.1 3.6zM103.6 390.8h4.2l-2.1 3.6zM60.8 435.2h4.2l-2.1 3.6zM80.8 391.1h4.2l-2.1 3.6zM115.9 443.4h4.2l-2.1 3.6zM102.7 447.0h4.2l-2.1 3.6zM110.5 358.5h4.2l-2.1 3.6zM142.0 401.2h4.2l-2.1 3.6zM141.0 418.0h4.2l-2.1 3.6zM108.2 414.1h4.2l-2.1 3.6zM89.5 436.6h4.2l-2.1 3.6zM142.9 451.0h4.2l-2.1 3.6zM98.5 434.4h4.2l-2.1 3.6zM130.5 436.0h4.2l-2.1 3.6zM83.7 466.9h4.2l-2.1 3.6zM94.8 406.6h4.2l-2.1 3.6zM112.4 428.8h4.2l-2.1 3.6zM98.5 396.5h4.2l-2.1 3.6zM85.2 424.0h4.2l-2.1 3.6zM72.1 447.5h4.2l-2.1 3.6zM122.5 428.4h4.2l-2.1 3.6zM113.7 405.6h4.2l-2.1 3.6zM98.4 442.7h4.2l-2.1 3.6zM99.3 457.2h4.2l-2.1 3.6zM129.9 438.3h4.2l-2.1 3.6zM104.8 404.4h4.2l-2.1 3.6zM106.5 403.7h4.2l-2.1 3.6zM102.2 416.4h4.2l-2.1 3.6zM98.3 447.7h4.2l-2.1 3.6zM91.8 408.1h4.2l-2.1 3.6zM133.1 429.3h4.2l-2.1 3.6zM119.5 410.7h4.2l-2.1 3.6zM116.1 451.5h4.2l-2.1 3.6zM109.9 432.9h4.2l-2.1 3.6zM133.9 436.4h4.2l-2.1 3.6zM134.2 398.8h4.2l-2.1 3.6zM74.4 400.3h4.2l-2.1 3.6zM118.1 409.7h4.2l-2.1 3.6zM69.3 461.7h4.2l-2.1 3.6zM135.7 412.6h4.2l-2.1 3.6zM96.4 409.2h4.2l-2.1 3.6zM124.0 433.3h4.2l-2.1 3.6zM112.3 452.7h4.2l-2.1 3.6zM93.1 398.7h4.2l-2.1 3.6zM109.5 422.8h4.2l-2.1 3.6zM111.4 432.5h4.2l-2.1 3.6zM78.6 457.1h4.2l-2.1 3.6zM73.8 430.8h4.2l-2.1 3.6zM116.5 441.1h4.2l-2.1 3.6zM113.9 406.5h4.2l-2.1 3.6zM105.6 395.0h4.2l-2.1 3.6zM106.2 419.0h4.2l-2.1 3.6zM72.0 469.9h4.2l-2.1 3.6zM97.4 435.2h4.2l-2.1 3.6zM135.6 423.1h4.2l-2.1 3.6zM104.5 398.8h4.2l-2.1 3.6zM94.6 409.7h4.2l-2.1 3.6zM112.0 452.1h4.2l-2.1 3.6zM122.5 471.9h4.2l-2.1 3.6zM128.7 436.5h4.2l-2.1 3.6zM25.1 425.4h4.2l-2.1 3.6zM124.6 388.4h4.2l-2.1 3.6zM114.8 410.2h4.2l-2.1 3.6zM110.3 428.9h4.2l-2.1 3.6zM108.3 428.3h4.2l-2.1 3.6zM127.3 438.6h4.2l-2.1 3.6zM96.7 455.4h4.2l-2.1 3.6zM118.3 440.2h4.2l-2.1 3.6zM168.9 476.6h4.2l-2.1 3.6zM182.0 423.3h4.2l-2.1 3.6zM129.1 443.4h4.2l-2.1 3.6z" fill="#000" fill-opacity="0.56"/>
<path d="M104.6 417.4h4.2l-2.1 3.6zM114.5 436.1h4.2l-2.1 3.6zM132.9 411.9h4.2l-2.1 3.6zM109.5 408.7h4.2l-2.1 3.6zM99.6 385.3h4.2l-2.1 3.6zM131.9 396.5h4.2l-2.1 3.6zM104.7 393.8h4.2l-2.1 3.6zM98.7 404.7h4.2l-2.1 3.6zM75.0 404.4h4.2l-2.1 3.6zM100.1 417.8h4.2l-2.1 3.6zM77.1 428.7h4.2l-2.1 3.6zM99.0 403.1h4.2l-2.1 3.6zM123.7 409.4h4.2l-2.1 3.6zM106.3 441.5h4.2l-2.1 3.6zM104.0 418.0h4.2l-2.1 3.6zM116.1 413.3h4.2l-2.1 3.6zM104.1 417.3h4.2l-2.1 3.6zM98.0 430.4h4.2l-2.1 3.6zM106.9 440.0h4.2l-2.1 3.6zM108.5 399.1h4.2l-2.1 3.6zM108.5 415.4h4.2l-2.1 3.6zM99.8 433.5h4.2l-2.1 3.6zM108.8 396.3h4.2l-2.1 3.6zM130.3 417.5h4.2l-2.1 3.6zM81.2 414.7h4.2l-2.1 3.6zM109.7 403.2h4.2l-2.1 3.6zM91.5 393.5h4.2l-2.1 3.6zM106.8 411.8h4.2l-2.1 3.6zM123.7 423.5h4.2l-2.1 3.6zM106.4 410.6h4.2l-2.1 3.6zM116.3 399.6h4.2l-2.1 3.6zM106.9 426.4h4.2l-2.1 3.6zM92.6 402.2h4.2l-2.1 3.6zM118.7 445.9h4.2l-2.1 3.6zM108.4 446.0h4.2l-2.1 3.6zM109.4 416.7h4.2l-2.1 3.6zM97.7 401.7h4.2l-2.1 3.6zM115.5 411.2h4.2l-2.1 3.6zM94.5 424.7h4.2l-2.1 3.6zM109.7 408.7h4.2l-2.1 3.6zM105.9 417.2h4.2l-2.1 3.6zM104.9 417.4h4.2l-2.1 3.6zM97.4 384.2h4.2l-2.1 3.6zM95.1 436.7h4.2l-2.1 3.6zM98.7 421.9h4.2l-2.1 3.6zM111.3 404.9h4.2l-2.1 3.6zM104.1 415.5h4.2l-2.1 3.6zM108.0 428.2h4.2l-2.1 3.6zM104.1 416.3h4.2l-2.1 3.6zM115.9 421.2h4.2l-2.1 3.6zM83.1 437.6h4.2l-2.1 3.6zM109.2 410.9h4.2l-2.1 3.6zM102.3 405.6h4.2l-2.1 3.6zM104.9 398.0h4.2l-2.1 3.6zM116.6 426.2h4.2l-2.1 3.6zM89.6 426.6h4.2l-2.1 3.6zM83.5 411.6h4.2l-2.1 3.6zM89.5 429.3h4.2l-2.1 3.6zM112.4 399.8h4.2l-2.1 3.6zM105.5 426.6h4.2l-2.1 3.6zM98.4 454.5h4.2l-2.1 3.6zM81.8 438.6h4.2l-2.1 3.6zM123.3 414.3h4.2l-2.1 3.6zM87.7 436.8h4.2l-2.1 3.6zM69.6 418.8h4.2l-2.1 3.6zM83.7 419.0h4.2l-2.1 3.6zM95.3 400.5h4.2l-2.1 3.6zM110.5 436.1h4.2l-2.1 3.6zM84.5 428.7h4.2l-2.1 3.6zM104.3 409.5h4.2l-2.1 3.6zM95.8 427.3h4.2l-2.1 3.6zM118.1 415.2h4.2l-2.1 3.6zM69.7 430.8h4.2l-2.1 3.6zM108.3 391.1h4.2l-2.1 3.6zM95.9 419.1h4.2l-2.1 3.6zM99.0 423.6h4.2l-2.1 3.6zM90.9 428.5h4.2l-2.1 3.6zM65.8 424.3h4.2l-2.1 3.6zM94.9 417.4h4.2l-2.1 3.6zM111.7 438.9h4.2l-2.1 3.6zM89.1 417.7h4.2l-2.1 3.6zM89.0 419.8h4.2l-2.1 3.6zM95.0 401.7h4.2l-2.1 3.6zM118.0 424.3h4.2l-2.1 3.6zM102.9 438.4h4.2l-2.1 3.6zM80.7 424.9h4.2l-2.1 3.6zM124.6 413.9h4.2l-2.1 3.6zM91.0 407.6h4.2l-2.1 3.6zM119.5 434.5h4.2l-2.1 3.6zM107.2 432.6h4.2l-2.1 3.6zM93.8 413.5h4.2l-2.1 3.6zM114.0 405.4h4.2l-2.1 3.6zM105.7 418.7h4.2l-2.1 3.6zM91.3 422.0h4.2l-2.1 3.6zM85.5 409.7h4.2l-2.1 3.6zM76.0 400.6h4.2l-2.1 3.6zM90.8 424.3h4.2l-2.1 3.6zM102.9 400.8h4.2l-2.1 3.6zM99.3 451.7h4.2l-2.1 3.6zM103.7 424.9h4.2l-2.1 3.6zM74.1 411.7h4.2l-2.1 3.6zM118.1 398.1h4.2l-2.1 3.6zM90.5 408.1h4.2l-2.1 3.6zM100.8 427.6h4.2l-2.1 3.6zM79.0 428.8h4.2l-2.1 3.6zM67.0 405.6h4.2l-2.1 3.6zM108.1 401.9h4.2l-2.1 3.6zM91.1 411.0h4.2l-2.1 3.6zM124.2 404.1h4.2l-2.1 3.6zM115.5 447.3h4.2l-2.1 3.6zM97.3 406.9h4.2l-2.1 3.6zM102.4 404.0h4.2l-2.1 3.6zM97.4 403.1h4.2l-2.1 3.6zM82.2 395.3h4.2l-2.1 3.6zM114.8 408.7h4.2l-2.1 3.6zM86.7 434.2h4.2l-2.1 3.6zM99.9 413.6h4.2l-2.1 3.6zM92.0 418.5h4.2l-2.1 3.6zM98.0 412.2h4.2l-2.1 3.6zM99.8 429.8h4.2l-2.1 3.6zM99.6 437.6h4.2l-2.1 3.6zM115.5 403.5h4.2l-2.1 3.6zM89.1 399.7h4.2l-2.1 3.6zM91.9 428.9h4.2l-2.1 3.6zM97.6 411.2h4.2l-2.1 3.6zM103.5 386.5h4.2l-2.1 3.6zM106.5 415.6h4.2l-2.1 3.6zM111.2 414.0h4.2l-2.1 3.6zM115.7 433.9h4.2l-2.1 3.6zM98.1 426.7h4.2l-2.1 3.6zM89.9 407.9h4.2l-2.1 3.6zM87.2 415.2h4.2l-2.1 3.6zM85.5 402.4h4.2l-2.1 3.6zM99.1 396.9h4.2l-2.1 3.6zM110.0 404.8h4.2l-2.1 3.6zM98.7 413.7h4.2l-2.1 3.6zM115.8 427.0h4.2l-2.1 3.6zM98.7 409.6h4.2l-2.1 3.6zM113.7 416.2h4.2l-2.1 3.6zM87.7 420.1h4.2l-2.1 3.6zM110.6 417.7h4.2l-2.1 3.6zM102.7 439.8h4.2l-2.1 3.6zM94.9 429.3h4.2l-2.1 3.6zM123.3 443.0h4.2l-2.1 3.6zM86.3 426.0h4.2l-2.1 3.6zM103.8 453.2h4.2l-2.1 3.6zM119.3 433.0h4.2l-2.1 3.6zM118.1 426.4h4.2l-2.1 3.6zM87.8 450.9h4.2l-2.1 3.6zM79.0 429.6h4.2l-2.1 3.6zM112.6 421.1h4.2l-2.1 3.6zM115.8 418.0h4.2l-2.1 3.6zM113.1 421.9h4.2l-2.1 3.6zM92.1 432.7h4.2l-2.1 3.6zM94.4 427.6h4.2l-2.1 3.6zM87.9 421.8h4.2l-2.1 3.6zM109.6 435.2h4.2l-2.1 3.6zM87.3 410.4h4.2l-2.1 3.6zM102.0 403.3h4.2l-2.1 3.6zM110.3 453.0h4.2l-2.1 3.6zM111.4 427.5h4.2l-2.1 3.6zM90.8 426.7h4.2l-2.1 3.6zM109.4 447.1h4.2l-2.1 3.6zM97.4 436.5h4.2l-2.1 3.6zM97.4 414.3h4.2l-2.1 3.6zM96.4 422.4h4.2l-2.1 3.6zM81.8 413.0h4.2l-2.1 3.6zM122.4 392.0h4.2l-2.1 3.6zM114.2 429.7h4.2l-2.1 3.6zM96.3 407.1h4.2l-2.1 3.6zM117.7 413.4h4.2l-2.1 3.6zM106.3 415.2h4.2l-2.1 3.6zM86.9 433.6h4.2l-2.1 3.6zM111.2 404.8h4.2l-2.1 3.6zM117.3 400.2h4.2l-2.1 3.6zM84.8 431.0h4.2l-2.1 3.6zM96.3 418.5h4.2l-2.1 3.6zM123.9 402.7h4.2l-2.1 3.6zM110.6 412.5h4.2l-2.1 3.6zM103.5 415.2h4.2l-2.1 3.6zM91.4 419.2h4.2l-2.1 3.6zM89.6 418.7h4.2l-2.1 3.6zM89.2 414.4h4.2l-2.1 3.6zM104.0 398.0h4.2l-2.1 3.6zM101.3 428.7h4.2l-2.1 3.6zM103.8 432.1h4.2l-2.1 3.6zM88.7 427.0h4.2l-2.1 3.6zM106.5 378.2h4.2l-2.1 3.6zM102.1 431.3h4.2l-2.1 3.6zM101.3 419.0h4.2l-2.1 3.6zM100.4 416.2h4.2l-2.1 3.6zM88.0 408.5h4.2l-2.1 3.6zM72.3 449.0h4.2l-2.1 3.6zM101.9 421.7h4.2l-2.1 3.6zM110.7 425.9h4.2l-2.1 3.6zM101.2 395.5h4.2l-2.1 3.6zM85.9 443.1h4.2l-2.1 3.6zM108.0 428.1h4.2l-2.1 3.6zM87.9 411.5h4.2l-2.1 3.6zM105.8 407.1h4.2l-2.1 3.6zM118.5 407.3h4.2l-2.1 3.6zM96.3 401.6h4.2l-2.1 3.6zM107.0 437.3h4.2l-2.1 3.6zM105.1 418.3h4.2l-2.1 3.6zM97.3 430.1h4.2l-2.1 3.6zM102.2 444.1h4.2l-2.1 3.6zM98.6 412.9h4.2l-2.1 3.6zM95.1 390.6h4.2l-2.1 3.6zM105.3 420.3h4.2l-2.1 3.6zM80.5 401.4h4.2l-2.1 3.6zM87.7 413.9h4.2l-2.1 3.6zM88.4 429.6h4.2l-2.1 3.6zM118.4 409.0h4.2l-2.1 3.6zM102.5 403.0h4.2l-2.1 3.6zM120.1 402.6h4.2l-2.1 3.6zM91.5 418.5h4.2l-2.1 3.6zM91.2 457.5h4.2l-2.1 3.6zM99.6 414.9h4.2l-2.1 3.6zM88.8 417.2h4.2l-2.1 3.6zM93.9 412.3h4.2l-2.1 3.6zM115.7 409.8h4.2l-2.1 3.6zM107.9 409.3h4.2l-2.1 3.6zM115.8 407.4h4.2l-2.1 3.6zM89.1 414.8h4.2l-2.1 3.6zM119.1 412.6h4.2l-2.1 3.6zM90.4 416.2h4.2l-2.1 3.6zM92.6 422.2h4.2l-2.1 3.6zM93.0 423.0h4.2l-2.1 3.6zM114.3 425.6h4.2l-2.1 3.6zM122.5 422.9h4.2l-2.1 3.6zM144.8 448.8h4.2l-2.1 3.6zM102.4 438.5h4.2l-2.1 3.6zM93.1 417.8h4.2l-2.1 3.6zM106.1 405.6h4.2l-2.1 3.6zM114.0 420.3h4.2l-2.1 3.6zM147.7 438.3h4.2l-2.1 3.6zM103.0 408.0h4.2l-2.1 3.6zM97.1 407.7h4.2l-2.1 3.6zM92.9 422.3h4.2l-2.1 3.6zM80.9 415.6h4.2l-2.1 3.6zM117.6 409.9h4.2l-2.1 3.6zM85.5 411.6h4.2l-2.1 3.6zM125.0 406.1h4.2l-2.1 3.6zM138.9 387.3h4.2l-2.1 3.6zM91.8 434.9h4.2l-2.1 3.6zM134.7 417.8h4.2l-2.1 3.6zM74.9 416.2h4.2l-2.1 3.6zM89.7 407.7h4.2l-2.1 3.6zM100.4 409.5h4.2l-2.1 3.6zM107.0 425.1h4.2l-2.1 3.6zM102.1 384.7h4.2l-2.1 3.6zM104.2 367.4h4.2l-2.1 3.6zM109.2 413.2h4.2l-2.1 3.6zM89.3 465.9h4.2l-2.1 3.6zM140.9 450.1h4.2l-2.1 3.6zM112.2 411.8h4.2l-2.1 3.6zM117.1 456.2h4.2l-2.1 3.6zM106.1 419.0h4.2l-2.1 3.6zM96.2 420.7h4.2l-2.1 3.6zM124.5 403.0h4.2l-2.1 3.6zM128.9 425.0h4.2l-2.1 3.6zM152.3 426.2h4.2l-2.1 3.6zM133.1 401.5h4.2l-2.1 3.6zM156.1 423.9h4.2l-2.1 3.6zM106.4 453.5h4.2l-2.1 3.6zM111.1 396.4h4.2l-2.1 3.6zM120.1 433.7h4.2l-2.1 3.6zM107.7 412.5h4.2l-2.1 3.6zM75.8 457.3h4.2l-2.1 3.6zM99.2 429.7h4.2l-2.1 3.6zM98.0 407.4h4.2l-2.1 3.6zM113.6 403.8h4.2l-2.1 3.6zM126.7 388.7h4.2l-2.1 3.6zM119.9 447.0h4.2l-2.1 3.6zM99.3 426.8h4.2l-2.1 3.6zM124.5 413.2h4.2l-2.1 3.6zM103.5 418.4h4.2l-2.1 3.6zM162.3 405.2h4.2l-2.1 3.6zM104.6 413.0h4.2l-2.1 3.6zM97.2 403.0h4.2l-2.1 3.6zM95.1 425.7h4.2l-2.1 3.6zM131.3 456.3h4.2l-2.1 3.6zM82.6 402.0h4.2l-2.1 3.6zM107.5 402.0h4.2l-2.1 3.6zM92.7 417.7h4.2l-2.1 3.6zM97.0 404.8h4.2l-2.1 3.6zM112.4 406.2h4.2l-2.1 3.6zM102.8 429.1h4.2l-2.1 3.6zM122.4 426.7h4.2l-2.1 3.6zM129.8 425.5h4.2l-2.1 3.6zM78.9 453.0h4.2l-2.1 3.6zM164.8 439.3h4.2l-2.1 3.6zM140.1 445.4h4.2l-2.1 3.6zM99.5 435.5h4.2l-2.1 3.6zM94.5 410.6h4.2l-2.1 3.6zM119.4 424.3h4.2l-2.1 3.6zM95.2 393.0h4.2l-2.1 3.6zM124.2 422.5h4.2l-2.1 3.6zM111.1 404.1h4.2l-2.1 3.6zM92.8 421.5h4.2l-2.1 3.6zM71.2 447.7h4.2l-2.1 3.6zM108.7 445.3h4.2l-2.1 3.6zM127.3 410.7h4.2l-2.1 3.6zM118.4 399.2h4.2l-2.1 3.6zM90.2 450.3h4.2l-2.1 3.6zM97.7 406.4h4.2l-2.1 3.6zM117.7 423.1h4.2l-2.1 3.6zM127.6 396.0h4.2l-2.1 3.6zM103.2 400.2h4.2l-2.1 3.6zM108.9 416.9h4.2l-2.1 3.6zM89.6 386.3h4.2l-2.1 3.6zM81.4 442.0h4.2l-2.1 3.6zM101.0 399.8h4.2l-2.1 3.6zM111.8 399.2h4.2l-2.1 3.6zM126.6 440.7h4.2l-2.1 3.6zM109.1 410.6h4.2l-2.1 3.6zM72.0 432.7h4.2l-2.1 3.6zM148.6 426.7h4.2l-2.1 3.6zM97.6 439.3h4.2l-2.1 3.6zM100.6 397.2h4.2l-2.1 3.6zM106.2 435.1h4.2l-2.1 3.6zM72.0 444.3h4.2l-2.1 3.6zM140.7 422.1h4.2l-2.1 3.6zM98.8 393.0h4.2l-2.1 3.6zM119.1 416.8h4.2l-2.1 3.6zM132.5 455.2h4.2l-2.1 3.6zM133.0 426.4h4.2l-2.1 3.6zM72.2 450.1h4.2l-2.1 3.6zM98.8 412.6h4.2l-2.1 3.6zM129.7 432.6h4.2l-2.1 3.6zM87.6 415.7h4.2l-2.1 3.6zM102.7 419.5h4.2l-2.1 3.6zM85.0 453.7h4.2l-2.1 3.6zM105.8 436.4h4.2l-2.1 3.6zM129.4 467.9h4.2l-2.1 3.6zM122.8 407.5h4.2l-2.1 3.6zM99.7 440.9h4.2l-2.1 3.6zM141.3 392.3h4.2l-2.1 3.6zM146.5 411.0h4.2l-2.1 3.6zM104.7 413.7h4.2l-2.1 3.6zM120.2 418.7h4.2l-2.1 3.6zM107.6 403.5h4.2l-2.1 3.6zM137.4 430.2h4.2l-2.1 3.6zM107.6 467.1h4.2l-2.1 3.6zM121.4 451.5h4.2l-2.1 3.6zM103.2 425.7h4.2l-2.1 3.6zM105.5 440.9h4.2l-2.1 3.6zM114.3 387.6h4.2l-2.1 3.6zM120.0 418.2h4.2l-2.1 3.6zM113.6 442.9h4.2l-2.1 3.6zM103.1 436.1h4.2l-2.1 3.6zM108.9 421.0h4.2l-2.1 3.6zM98.5 420.6h4.2l-2.1 3.6zM102.4 439.3h4.2l-2.1 3.6zM62.9 434.8h4.2l-2.1 3.6zM107.1 401.0h4.2l-2.1 3.6zM124.2 422.2h4.2l-2.1 3.6zM119.7 450.8h4.2l-2.1 3.6zM112.9 389.8h4.2l-2.1 3.6zM76.9 421.7h4.2l-2.1 3.6zM84.7 467.6h4.2l-2.1 3.6zM106.7 385.5h4.2l-2.1 3.6zM65.6 411.6h4.2l-2.1 3.6zM60.7 433.0h4.2l-2.1 3.6zM62.9 441.1h4.2l-2.1 3.6zM99.0 446.3h4.2l-2.1 3.6zM85.4 413.4h4.2l-2.1 3.6zM130.4 389.3h4.2l-2.1 3.6zM121.9 453.1h4.2l-2.1 3.6zM88.8 419.8h4.2l-2.1 3.6zM141.6 453.8h4.2l-2.1 3.6zM140.9 420.8h4.2l-2.1 3.6zM101.4 419.4h4.2l-2.1 3.6zM101.2 440.1h4.2l-2.1 3.6zM125.5 433.7h4.2l-2.1 3.6zM95.1 439.3h4.2l-2.1 3.6zM118.6 427.9h4.2l-2.1 3.6zM133.2 415.2h4.2l-2.1 3.6zM111.3 446.0h4.2l-2.1 3.6zM93.9 441.5h4.2l-2.1 3.6zM123.5 454.3h4.2l-2.1 3.6zM134.6 411.1h4.2l-2.1 3.6zM144.5 413.5h4.2l-2.1 3.6zM85.3 417.3h4.2l-2.1 3.6zM102.0 404.5h4.2l-2.1 3.6zM128.4 433.8h4.2l-2.1 3.6zM121.1 394.5h4.2l-2.1 3.6zM145.2 433.0h4.2l-2.1 3.6zM132.0 430.6h4.2l-2.1 3.6zM116.3 439.1h4.2l-2.1 3.6zM112.2 452.0h4.2l-2.1 3.6zM98.8 380.9h4.2l-2.1 3.6zM101.9 422.9h4.2l-2.1 3.6zM117.1 425.3h4.2l-2.1 3.6zM117.5 432.6h4.2l-2.1 3.6zM105.6 434.7h4.2l-2.1 3.6zM120.1 407.2h4.2l-2.1 3.6zM74.1 427.9h4.2l-2.1 3.6zM118.9 445.6h4.2l-2.1 3.6zM131.2 429.4h4.2l-2.1 3.6zM132.2 411.4h4.2l-2.1 3.6zM99.8 451.4h4.2l-2.1 3.6zM85.4 422.9h4.2l-2.1 3.6zM88.3 398.2h4.2l-2.1 3.6zM151.3 386.6h4.2l-2.1 3.6zM144.3 414.0h4.2l-2.1 3.6zM94.2 388.9h4.2l-2.1 3.6zM113.5 436.3h4.2l-2.1 3.6zM120.7 404.5h4.2l-2.1 3.6zM141.7 427.7h4.2l-2.1 3.6zM119.5 435.7h4.2l-2.1 3.6zM120.3 416.7h4.2l-2.1 3.6zM116.2 408.5h4.2l-2.1 3.6zM114.2 403.4h4.2l-2.1 3.6zM80.8 411.1h4.2l-2.1 3.6zM106.2 409.2h4.2l-2.1 3.6zM103.2 412.1h4.2l-2.1 3.6zM110.0 459.6h4.2l-2.1 3.6zM120.8 441.0h4.2l-2.1 3.6zM128.8 441.4h4.2l-2.1 3.6zM117.4 440.9h4.2l-2.1 3.6zM130.4 420.2h4.2l-2.1 3.6zM103.8 423.2h4.2l-2.1 3.6zM108.1 433.1h4.2l-2.1 3.6zM100.5 414.9h4.2l-2.1 3.6zM113.8 433.7h4.2l-2.1 3.6zM107.2 392.7h4.2l-2.1 3.6zM104.4 440.8h4.2l-2.1 3.6zM104.8 449.3h4.2l-2.1 3.6zM99.2 418.5h4.2l-2.1 3.6zM124.9 447.4h4.2l-2.1 3.6zM103.4 453.7h4.2l-2.1 3.6zM113.0 431.7h4.2l-2.1 3.6zM144.6 440.8h4.2l-2.1 3.6zM105.0 422.2h4.2l-2.1 3.6zM91.4 446.5h4.2l-2.1 3.6zM116.3 462.1h4.2l-2.1 3.6zM133.3 424.0h4.2l-2.1 3.6zM97.4 417.1h4.2l-2.1 3.6zM134.0 421.1h4.2l-2.1 3.6zM131.7 449.0h4.2l-2.1 3.6zM138.7 428.8h4.2l-2.1 3.6zM123.4 397.4h4.2l-2.1 3.6zM116.1 424.3h4.2l-2.1 3.6zM127.6 387.6h4.2l-2.1 3.6zM103.3 471.0h4.2l-2.1 3.6zM112.6 414.0h4.2l-2.1 3.6zM111.4 420.9h4.2l-2.1 3.6zM102.7 436.0h4.2l-2.1 3.6zM114.7 447.1h4.2l-2.1 3.6zM158.7 438.7h4.2l-2.1 3.6zM116.4 454.0h4.2l-2.1 3.6zM82.3 460.8h4.2l-2.1 3.6zM87.2 414.1h4.2l-2.1 3.6zM110.6 396.3h4.2l-2.1 3.6zM97.1 427.1h4.2l-2.1 3.6zM117.5 395.1h4.2l-2.1 3.6zM50.8 437.4h4.2l-2.1 3.6zM76.8 430.9h4.2l-2.1 3.6zM118.7 440.2h4.2l-2.1 3.6zM100.1 413.3h4.2l-2.1 3.6zM207.4 427.2h4.2l-2.1 3.6zM86.6 393.9h4.2l-2.1 3.6zM109.1 476.9h4.2l-2.1 3.6zM137.2 405.4h4.2l-2.1 3.6zM75.8 412.9h4.2l-2.1 3.6zM116.0 437.8h4.2l-2.1 3.6zM131.0 460.3h4.2l-2.1 3.6zM77.4 387.5h4.2l-2.1 3.6zM113.9 446.1h4.2l-2.1 3.6zM100.2 437.3h4.2l-2.1 3.6zM114.0 461.6h4.2l-2.1 3.6zM110.3 417.1h4.2l-2.1 3.6zM131.5 457.2h4.2l-2.1 3.6zM97.4 426.9h4.2l-2.1 3.6zM95.2 398.7h4.2l-2.1 3.6z" fill="#000" fill-opacity="0.56"/>
<path d="M135.5 410.9h4.2l-2.1 3.6zM98.9 414.7h4.2l-2.1 3.6zM92.3 417.6h4.2l-2.1 3.6zM101.9 424.9h4.2l-2.1 3.6zM95.8 399.4h4.2l-2.1 3.6zM101.4 429.6h4.2l-2.1 3.6zM120.0 418.3h4.2l-2.1 3.6zM99.6 408.9h4.2l-2.1 3.6zM123.0 411.0h4.2l-2.1 3.6zM96.3 418.8h4.2l-2.1 3.6zM100.1 420.5h4.2l-2.1 3.6zM108.7 443.7h4.2l-2.1 3.6zM109.9 425.5h4.2l-2.1 3.6zM83.7 451.1h4.2l-2.1 3.6zM110.1 432.1h4.2l-2.1 3.6zM98.9 418.3h4.2l-2.1 3.6zM98.2 417.1h4.2l-2.1 3.6zM97.9 430.8h4.2l-2.1 3.6zM117.4 418.9h4.2l-2.1 3.6zM99.2 431.5h4.2l-2.1 3.6zM100.4 427.4h4.2l-2.1 3.6zM94.6 439.6h4.2l-2.1 3.6zM97.0 427.6h4.2l-2.1 3.6zM126.0 425.3h4.2l-2.1 3.6zM99.7 430.2h4.2l-2.1 3.6zM123.5 388.0h4.2l-2.1 3.6zM98.0 417.5h4.2l-2.1 3.6zM114.7 398.1h4.2l-2.1 3.6zM114.0 420.5h4.2l-2.1 3.6zM110.7 405.0h4.2l-2.1 3.6zM120.3 456.8h4.2l-2.1 3.6zM104.9 428.1h4.2l-2.1 3.6zM89.3 379.1h4.2l-2.1 3.6zM102.2 416.4h4.2l-2.1 3.6zM112.2 420.5h4.2l-2.1 3.6zM85.5 387.6h4.2l-2.1 3.6zM117.9 433.5h4.2l-2.1 3.6zM101.4 416.0h4.2l-2.1 3.6zM112.5 412.0h4.2l-2.1 3.6zM86.0 437.5h4.2l-2.1 3.6zM84.7 413.7h4.2l-2.1 3.6zM120.5 426.4h4.2l-2.1 3.6zM117.8 441.0h4.2l-2.1 3.6zM105.9 398.5h4.2l-2.1 3.6zM80.2 387.8h4.2l-2.1 3.6zM113.1 399.0h4.2l-2.1 3.6zM101.5 421.0h4.2l-2.1 3.6zM107.8 419.2h4.2l-2.1 3.6zM120.4 424.4h4.2l-2.1 3.6zM117.5 418.4h4.2l-2.1 3.6zM103.6 422.0h4.2l-2.1 3.6zM109.7 430.9h4.2l-2.1 3.6zM96.7 428.5h4.2l-2.1 3.6zM140.4 380.9h4.2l-2.1 3.6zM111.7 417.9h4.2l-2.1 3.6zM100.3 411.0h4.2l-2.1 3.6zM87.4 423.2h4.2l-2.1 3.6zM93.5 442.5h4.2l-2.1 3.6zM107.5 444.8h4.2l-2.1 3.6zM104.8 398.9h4.2l-2.1 3.6zM109.0 422.6h4.2l-2.1 3.6zM114.7 384.9h4.2l-2.1 3.6zM104.2 440.6h4.2l-2.1 3.6zM104.3 390.0h4.2l-2.1 3.6zM108.9 426.6h4.2l-2.1 3.6zM122.1 427.8h4.2l-2.1 3.6zM89.8 436.7h4.2l-2.1 3.6zM112.7 437.0h4.2l-2.1 3.6zM100.8 434.6h4.2l-2.1 3.6zM75.0 400.1h4.2l-2.1 3.6zM111.4 442.9h4.2l-2.1 3.6zM110.9 422.0h4.2l-2.1 3.6zM101.1 413.5h4.2l-2.1 3.6zM118.2 393.7h4.2l-2.1 3.6zM106.9 441.5h4.2l-2.1 3.6zM80.8 387.0h4.2l-2.1 3.6zM90.0 419.6h4.2l-2.1 3.6zM110.6 411.3h4.2l-2.1 3.6zM113.9 412.1h4.2l-2.1 3.6zM81.5 434.4h4.2l-2.1 3.6zM103.3 410.0h4.2l-2.1 3.6zM81.0 382.7h4.2l-2.1 3.6zM88.9 430.1h4.2l-2.1 3.6zM90.9 400.0h4.2l-2.1 3.6zM92.7 428.2h4.2l-2.1 3.6zM111.3 437.4h4.2l-2.1 3.6zM91.5 441.5h4.2l-2.1 3.6zM124.8 425.9h4.2l-2.1 3.6zM117.4 443.9h4.2l-2.1 3.6zM108.5 407.0h4.2l-2.1 3.6zM110.4 425.0h4.2l-2.1 3.6zM112.7 458.0h4.2l-2.1 3.6zM103.9 416.2h4.2l-2.1 3.6zM120.2 420.2h4.2l-2.1 3.6zM86.5 424.4h4.2l-2.1 3.6zM116.9 396.0h4.2l-2.1 3.6zM126.4 447.8h4.2l-2.1 3.6zM88.2 423.4h4.2l-2.1 3.6zM108.7 427.9h4.2l-2.1 3.6zM107.2 430.0h4.2l-2.1 3.6zM92.9 416.1h4.2l-2.1 3.6zM102.1 426.2h4.2l-2.1 3.6zM129.8 432.6h4.2l-2.1 3.6zM89.2 425.2h4.2l-2.1 3.6zM129.3 449.7h4.2l-2.1 3.6zM126.5 421.2h4.2l-2.1 3.6zM113.6 422.4h4.2l-2.1 3.6zM88.1 420.6h4.2l-2.1 3.6zM97.9 401.1h4.2l-2.1 3.6zM101.4 414.1h4.2l-2.1 3.6zM100.0 430.4h4.2l-2.1 3.6zM88.9 421.0h4.2l-2.1 3.6zM108.4 424.0h4.2l-2.1 3.6zM107.1 421.0h4.2l-2.1 3.6zM82.0 389.4h4.2l-2.1 3.6zM95.4 413.9h4.2l-2.1 3.6zM90.8 408.3h4.2l-2.1 3.6zM97.9 444.8h4.2l-2.1 3.6zM102.0 431.6h4.2l-2.1 3.6zM112.5 422.2h4.2l-2.1 3.6zM116.5 411.5h4.2l-2.1 3.6zM100.8 402.5h4.2l-2.1 3.6zM101.7 432.7h4.2l-2.1 3.6zM91.3 418.5h4.2l-2.1 3.6zM99.9 418.9h4.2l-2.1 3.6zM97.8 423.9h4.2l-2.1 3.6zM86.5 421.6h4.2l-2.1 3.6zM126.1 403.6h4.2l-2.1 3.6zM114.4 409.4h4.2l-2.1 3.6zM95.6 446.2h4.2l-2.1 3.6zM112.6 428.8h4.2l-2.1 3.6zM125.8 429.2h4.2l-2.1 3.6zM102.0 386.1h4.2l-2.1 3.6zM113.0 444.6h4.2l-2.1 3.6zM97.4 402.0h4.2l-2.1 3.6zM80.0 428.3h4.2l-2.1 3.6zM70.8 425.2h4.2l-2.1 3.6zM114.4 412.9h4.2l-2.1 3.6zM89.0 415.5h4.2l-2.1 3.6zM124.5 402.7h4.2l-2.1 3.6zM92.4 427.3h4.2l-2.1 3.6zM94.7 438.7h4.2l-2.1 3.6zM93.3 401.8h4.2l-2.1 3.6zM82.9 416.3h4.2l-2.1 3.6zM118.3 419.8h4.2l-2.1 3.6zM95.3 397.2h4.2l-2.1 3.6zM106.7 409.7h4.2l-2.1 3.6zM134.8 402.2h4.2l-2.1 3.6zM84.7 400.7h4.2l-2.1 3.6zM105.8 428.0h4.2l-2.1 3.6zM106.3 436.7h4.2l-2.1 3.6zM112.7 410.8h4.2l-2.1 3.6zM126.1 408.1h4.2l-2.1 3.6zM106.1 420.2h4.2l-2.1 3.6zM118.8 419.0h4.2l-2.1 3.6zM107.7 390.8h4.2l-2.1 3.6zM102.1 421.6h4.2l-2.1 3.6zM123.8 394.2h4.2l-2.1 3.6zM86.9 431.8h4.2l-2.1 3.6zM134.8 421.7h4.2l-2.1 3.6zM74.4 393.4h4.2l-2.1 3.6zM98.1 406.5h4.2l-2.1 3.6zM109.9 434.9h4.2l-2.1 3.6zM113.9 405.7h4.2l-2.1 3.6zM93.7 416.7h4.2l-2.1 3.6zM108.9 427.7h4.2l-2.1 3.6zM97.8 434.6h4.2l-2.1 3.6zM112.9 415.1h4.2l-2.1 3.6zM105.9 442.8h4.2l-2.1 3.6zM112.1 415.2h4.2l-2.1 3.6zM98.7 433.5h4.2l-2.1 3.6zM108.4 421.6h4.2l-2.1 3.6zM93.3 415.7h4.2l-2.1 3.6zM105.4 445.3h4.2l-2.1 3.6zM85.6 421.3h4.2l-2.1 3.6zM90.5 399.4h4.2l-2.1 3.6zM134.4 400.9h4.2l-2.1 3.6zM119.8 434.6h4.2l-2.1 3.6zM109.6 420.3h4.2l-2.1 3.6zM102.6 426.8h4.2l-2.1 3.6zM108.6 427.8h4.2l-2.1 3.6zM112.0 395.6h4.2l-2.1 3.6zM85.8 419.0h4.2l-2.1 3.6zM102.6 399.8h4.2l-2.1 3.6zM116.2 426.7h4.2l-2.1 3.6zM107.4 434.8h4.2l-2.1 3.6zM111.8 417.9h4.2l-2.1 3.6zM95.0 436.4h4.2l-2.1 3.6zM96.7 408.8h4.2l-2.1 3.6zM90.4 429.7h4.2l-2.1 3.6zM106.8 417.2h4.2l-2.1 3.6zM116.2 407.4h4.2l-2.1 3.6zM114.5 412.0h4.2l-2.1 3.6zM101.2 416.7h4.2l-2.1 3.6zM106.3 439.9h4.2l-2.1 3.6zM95.1 434.6h4.2l-2.1 3.6zM120.1 417.2h4.2l-2.1 3.6zM94.4 402.9h4.2l-2.1 3.6zM102.3 461.5h4.2l-2.1 3.6zM100.7 421.4h4.2l-2.1 3.6zM90.4 426.0h4.2l-2.1 3.6zM106.8 433.9h4.2l-2.1 3.6zM131.7 434.4h4.2l-2.1 3.6zM91.9 417.6h4.2l-2.1 3.6zM85.7 413.4h4.2l-2.1 3.6zM84.0 436.1h4.2l-2.1 3.6zM73.5 428.3h4.2l-2.1 3.6zM105.0 397.0h4.2l-2.1 3.6zM113.9 438.5h4.2l-2.1 3.6zM127.4 415.8h4.2l-2.1 3.6zM113.5 422.4h4.2l-2.1 3.6zM122.9 419.5h4.2l-2.1 3.6zM118.4 404.7h4.2l-2.1 3.6zM94.2 403.7h4.2l-2.1 3.6zM100.8 401.1h4.2l-2.1 3.6zM105.3 411.2h4.2l-2.1 3.6zM84.2 423.0h4.2l-2.1 3.6zM118.7 427.0h4.2l-2.1 3.6zM107.9 416.1h4.2l-2.1 3.6zM100.8 396.2h4.2l-2.1 3.6zM130.0 395.1h4.2l-2.1 3.6zM91.1 404.3h4.2l-2.1 3.6zM88.5 421.7h4.2l-2.1 3.6zM93.1 411.3h4.2l-2.1 3.6zM108.0 401.8h4.2l-2.1 3.6zM88.0 426.1h4.2l-2.1 3.6zM96.4 392.5h4.2l-2.1 3.6zM111.3 398.3h4.2l-2.1 3.6zM102.9 419.6h4.2l-2.1 3.6zM107.0 423.4h4.2l-2.1 3.6zM100.9 422.8h4.2l-2.1 3.6zM75.8 429.1h4.2l-2.1 3.6zM71.1 438.8h4.2l-2.1 3.6zM94.3 441.9h4.2l-2.1 3.6zM107.9 434.3h4.2l-2.1 3.6zM99.8 418.1h4.2l-2.1 3.6zM118.8 437.1h4.2l-2.1 3.6zM101.3 365.4h4.2l-2.1 3.6zM111.9 438.5h4.2l-2.1 3.6zM134.8 417.9h4.2l-2.1 3.6zM130.6 347.5h4.2l-2.1 3.6zM100.8 409.9h4.2l-2.1 3.6zM150.9 418.1h4.2l-2.1 3.6zM161.3 424.2h4.2l-2.1 3.6zM100.2 410.9h4.2l-2.1 3.6zM92.2 426.1h4.2l-2.1 3.6zM112.0 402.2h4.2l-2.1 3.6zM144.9 445.8h4.2l-2.1 3.6zM102.9 434.5h4.2l-2.1 3.6zM105.6 412.7h4.2l-2.1 3.6zM91.8 409.2h4.2l-2.1 3.6zM144.9 459.3h4.2l-2.1 3.6zM106.5 416.5h4.2l-2.1 3.6zM132.1 405.4h4.2l-2.1 3.6zM124.1 390.8h4.2l-2.1 3.6zM117.3 439.2h4.2l-2.1 3.6zM126.0 457.1h4.2l-2.1 3.6zM133.6 414.3h4.2l-2.1 3.6zM81.3 373.5h4.2l-2.1 3.6zM87.5 420.2h4.2l-2.1 3.6zM97.6 483.4h4.2l-2.1 3.6zM118.3 432.7h4.2l-2.1 3.6zM111.7 419.3h4.2l-2.1 3.6zM116.8 447.6h4.2l-2.1 3.6zM110.5 443.8h4.2l-2.1 3.6zM138.3 428.1h4.2l-2.1 3.6zM123.7 431.0h4.2l-2.1 3.6zM133.7 442.5h4.2l-2.1 3.6zM114.1 449.3h4.2l-2.1 3.6zM134.2 428.8h4.2l-2.1 3.6zM84.9 461.6h4.2l-2.1 3.6zM114.7 439.7h4.2l-2.1 3.6zM113.7 417.7h4.2l-2.1 3.6zM85.9 424.6h4.2l-2.1 3.6zM105.8 435.5h4.2l-2.1 3.6zM104.0 423.2h4.2l-2.1 3.6zM125.3 424.2h4.2l-2.1 3.6zM97.8 434.5h4.2l-2.1 3.6zM103.8 402.1h4.2l-2.1 3.6zM88.2 405.5h4.2l-2.1 3.6zM97.6 376.0h4.2l-2.1 3.6zM80.4 411.1h4.2l-2.1 3.6zM101.4 420.3h4.2l-2.1 3.6zM121.3 401.0h4.2l-2.1 3.6zM140.9 431.7h4.2l-2.1 3.6zM60.4 422.8h4.2l-2.1 3.6zM89.3 435.0h4.2l-2.1 3.6zM145.3 393.9h4.2l-2.1 3.6zM111.7 400.6h4.2l-2.1 3.6zM79.3 437.5h4.2l-2.1 3.6zM126.6 409.2h4.2l-2.1 3.6zM101.3 397.4h4.2l-2.1 3.6zM95.7 418.6h4.2l-2.1 3.6zM105.8 439.0h4.2l-2.1 3.6zM113.4 422.7h4.2l-2.1 3.6zM111.5 437.1h4.2l-2.1 3.6zM120.9 394.5h4.2l-2.1 3.6zM105.5 432.5h4.2l-2.1 3.6zM93.5 392.4h4.2l-2.1 3.6zM88.9 397.4h4.2l-2.1 3.6zM104.9 420.2h4.2l-2.1 3.6zM120.2 382.4h4.2l-2.1 3.6zM118.6 441.1h4.2l-2.1 3.6zM163.4 417.3h4.2l-2.1 3.6zM124.6 386.3h4.2l-2.1 3.6zM131.4 459.0h4.2l-2.1 3.6zM114.8 410.6h4.2l-2.1 3.6zM140.1 403.0h4.2l-2.1 3.6zM145.8 400.6h4.2l-2.1 3.6zM119.1 430.3h4.2l-2.1 3.6zM113.1 411.0h4.2l-2.1 3.6zM88.5 453.4h4.2l-2.1 3.6zM118.7 404.6h4.2l-2.1 3.6zM82.6 440.1h4.2l-2.1 3.6zM137.0 422.4h4.2l-2.1 3.6zM100.4 436.0h4.2l-2.1 3.6zM119.5 449.9h4.2l-2.1 3.6zM106.2 408.6h4.2l-2.1 3.6zM107.9 394.6h4.2l-2.1 3.6zM87.0 411.9h4.2l-2.1 3.6zM105.9 425.1h4.2l-2.1 3.6zM80.3 415.9h4.2l-2.1 3.6zM149.8 386.6h4.2l-2.1 3.6zM101.8 413.3h4.2l-2.1 3.6zM122.0 406.4h4.2l-2.1 3.6zM155.7 411.7h4.2l-2.1 3.6zM114.4 426.9h4.2l-2.1 3.6zM137.5 432.8h4.2l-2.1 3.6zM81.0 424.7h4.2l-2.1 3.6zM96.8 448.3h4.2l-2.1 3.6zM120.1 431.2h4.2l-2.1 3.6zM107.4 408.1h4.2l-2.1 3.6zM130.8 443.1h4.2l-2.1 3.6zM155.5 418.0h4.2l-2.1 3.6zM132.2 400.7h4.2l-2.1 3.6zM120.5 423.8h4.2l-2.1 3.6zM87.5 410.4h4.2l-2.1 3.6zM111.5 418.7h4.2l-2.1 3.6zM103.5 417.4h4.2l-2.1 3.6zM109.2 414.1h4.2l-2.1 3.6zM74.6 426.2h4.2l-2.1 3.6zM144.4 419.7h4.2l-2.1 3.6zM112.3 405.9h4.2l-2.1 3.6zM92.8 403.1h4.2l-2.1 3.6zM82.0 424.2h4.2l-2.1 3.6zM90.6 430.2h4.2l-2.1 3.6zM111.3 393.0h4.2l-2.1 3.6zM154.1 415.7h4.2l-2.1 3.6zM111.9 413.6h4.2l-2.1 3.6zM85.5 422.7h4.2l-2.1 3.6zM119.8 378.6h4.2l-2.1 3.6zM109.9 426.1h4.2l-2.1 3.6zM146.2 381.3h4.2l-2.1 3.6zM94.6 447.4h4.2l-2.1 3.6zM94.1 436.8h4.2l-2.1 3.6zM88.9 398.8h4.2l-2.1 3.6zM124.4 411.5h4.2l-2.1 3.6zM87.0 424.0h4.2l-2.1 3.6zM132.9 421.0h4.2l-2.1 3.6zM154.7 395.9h4.2l-2.1 3.6zM142.7 429.7h4.2l-2.1 3.6zM126.8 439.1h4.2l-2.1 3.6zM103.4 417.0h4.2l-2.1 3.6zM81.9 407.9h4.2l-2.1 3.6zM94.5 444.5h4.2l-2.1 3.6zM99.8 430.5h4.2l-2.1 3.6zM107.4 473.2h4.2l-2.1 3.6zM92.6 403.3h4.2l-2.1 3.6zM121.9 385.6h4.2l-2.1 3.6zM109.7 402.0h4.2l-2.1 3.6zM91.8 418.6h4.2l-2.1 3.6zM150.7 442.0h4.2l-2.1 3.6zM125.8 433.0h4.2l-2.1 3.6zM119.2 408.7h4.2l-2.1 3.6zM112.4 420.9h4.2l-2.1 3.6zM121.7 441.7h4.2l-2.1 3.6zM85.5 395.1h4.2l-2.1 3.6zM138.3 399.6h4.2l-2.1 3.6zM133.3 482.9h4.2l-2.1 3.6zM130.4 429.9h4.2l-2.1 3.6zM106.3 427.0h4.2l-2.1 3.6zM127.4 487.2h4.2l-2.1 3.6zM127.0 419.6h4.2l-2.1 3.6zM141.7 423.2h4.2l-2.1 3.6zM135.5 429.1h4.2l-2.1 3.6zM113.4 439.5h4.2l-2.1 3.6zM106.1 409.2h4.2l-2.1 3.6zM107.6 425.0h4.2l-2.1 3.6zM101.5 439.3h4.2l-2.1 3.6zM115.7 429.4h4.2l-2.1 3.6zM102.0 428.0h4.2l-2.1 3.6zM123.1 416.9h4.2l-2.1 3.6zM104.0 428.8h4.2l-2.1 3.6zM113.8 410.6h4.2l-2.1 3.6zM126.0 432.5h4.2l-2.1 3.6zM147.0 398.7h4.2l-2.1 3.6zM83.1 429.0h4.2l-2.1 3.6zM147.6 443.3h4.2l-2.1 3.6zM109.3 407.4h4.2l-2.1 3.6zM115.2 412.7h4.2l-2.1 3.6zM92.6 425.1h4.2l-2.1 3.6zM95.0 416.6h4.2l-2.1 3.6zM94.1 418.8h4.2l-2.1 3.6zM118.7 424.2h4.2l-2.1 3.6zM114.1 401.0h4.2l-2.1 3.6zM79.6 420.8h4.2l-2.1 3.6zM108.5 436.8h4.2l-2.1 3.6zM81.0 442.4h4.2l-2.1 3.6zM106.4 400.0h4.2l-2.1 3.6zM96.9 413.2h4.2l-2.1 3.6zM136.0 413.6h4.2l-2.1 3.6zM115.3 404.2h4.2l-2.1 3.6zM81.2 407.5h4.2l-2.1 3.6zM75.8 416.0h4.2l-2.1 3.6zM104.1 459.7h4.2l-2.1 3.6zM98.9 446.2h4.2l-2.1 3.6zM121.5 439.9h4.2l-2.1 3.6zM112.6 419.8h4.2l-2.1 3.6zM118.4 447.5h4.2l-2.1 3.6zM92.2 396.4h4.2l-2.1 3.6zM96.5 392.3h4.2l-2.1 3.6zM99.7 415.9h4.2l-2.1 3.6zM93.3 418.5h4.2l-2.1 3.6zM132.7 424.1h4.2l-2.1 3.6zM131.0 419.5h4.2l-2.1 3.6zM110.7 393.9h4.2l-2.1 3.6zM133.4 429.4h4.2l-2.1 3.6zM138.0 421.0h4.2l-2.1 3.6zM96.1 466.7h4.2l-2.1 3.6zM86.3 380.6h4.2l-2.1 3.6zM124.2 400.6h4.2l-2.1 3.6zM84.8 428.4h4.2l-2.1 3.6zM92.3 460.5h4.2l-2.1 3.6zM150.8 468.7h4.2l-2.1 3.6zM97.4 442.3h4.2l-2.1 3.6zM95.5 411.7h4.2l-2.1 3.6zM103.7 418.8h4.2l-2.1 3.6zM115.3 416.0h4.2l-2.1 3.6zM136.6 393.5h4.2l-2.1 3.6zM116.5 389.1h4.2l-2.1 3.6zM118.9 448.3h4.2l-2.1 3.6zM139.5 436.3h4.2l-2.1 3.6zM112.1 409.2h4.2l-2.1 3.6zM100.7 426.4h4.2l-2.1 3.6zM93.6 395.0h4.2l-2.1 3.6zM134.5 433.8h4.2l-2.1 3.6zM118.0 414.1h4.2l-2.1 3.6zM122.3 414.0h4.2l-2.1 3.6zM117.2 424.1h4.2l-2.1 3.6zM109.5 409.5h4.2l-2.1 3.6zM122.5 405.9h4.2l-2.1 3.6zM140.8 442.4h4.2l-2.1 3.6zM103.9 433.0h4.2l-2.1 3.6zM125.9 423.6h4.2l-2.1 3.6zM86.2 429.1h4.2l-2.1 3.6zM101.7 418.9h4.2l-2.1 3.6zM150.7 424.0h4.2l-2.1 3.6zM80.3 438.5h4.2l-2.1 3.6zM130.1 405.9h4.2l-2.1 3.6zM108.1 408.4h4.2l-2.1 3.6zM124.5 461.8h4.2l-2.1 3.6zM195.5 422.7h4.2l-2.1 3.6zM120.8 468.6h4.2l-2.1 3.6zM108.9 454.8h4.2l-2.1 3.6zM96.6 519.4h4.2l-2.1 3.6zM91.0 450.1h4.2l-2.1 3.6zM165.8 457.2h4.2l-2.1 3.6zM164.3 456.1h4.2l-2.1 3.6zM117.3 449.7h4.2l-2.1 3.6zM143.0 436.0h4.2l-2.1 3.6zM143.2 421.9h4.2l-2.1 3.6zM91.5 469.4h4.2l-2.1 3.6zM122.2 475.9h4.2l-2.1 3.6zM173.7 417.7h4.2l-2.1 3.6zM166.5 441.4h4.2l-2.1 3.6zM128.9 380.9h4.2l-2.1 3.6z" fill="#000" fill-opacity="0.56"/>
<path d="M185.9 400.2h4.2l-2.1 3.6zM183.9 412.7h4.2l-2.1 3.6zM173.9 422.2h4.2l-2.1 3.6zM186.9 444.2h4.2l-2.1 3.6zM196.4 441.7h4.2l-2.1 3.6zM184.9 452.7h4.2l-2.1 3.6zM182.4 474.7h4.2l-2.1 3.6zM159.9 492.7h4.2l-2.1 3.6zM148.9 503.2h4.2l-2.1 3.6zM99.9 353.2h4.2l-2.1 3.6zM119.4 354.2h4.2l-2.1 3.6zM124.9 354.2h4.2l-2.1 3.6zM80.9 360.7h4.2l-2.1 3.6zM43.9 375.2h4.2l-2.1 3.6zM163.9 378.2h4.2l-2.1 3.6zM187.9 444.7h4.2l-2.1 3.6zM44.4 374.7h4.2l-2.1 3.6z" fill="#000" fill-opacity="0.6"/>
<radialGradient id="gB"><stop offset="0" stop-color="#1818F0" stop-opacity="0.95"/><stop offset="0.55" stop-color="#1818F0" stop-opacity="0.8"/><stop offset="0.8" stop-color="#2030E0" stop-opacity="0.35"/><stop offset="1" stop-color="#2030E0" stop-opacity="0"/></radialGradient>
<radialGradient id="gO"><stop offset="0" stop-color="#FF8000" stop-opacity="1"/><stop offset="0.5" stop-color="#FF8000" stop-opacity="0.92"/><stop offset="0.8" stop-color="#FF8000" stop-opacity="0.4"/><stop offset="1" stop-color="#FF8000" stop-opacity="0"/></radialGradient>
<path d="M102.5 415.3h0M100.1 400.5h0M83.9 421.2h0M114.4 432.5h0M87.7 394.4h0M138.8 416.9h0M107.4 435.0h0M92.7 416.1h0M120.8 425.9h0M121.4 412.5h0M130.8 396.3h0M76.4 415.7h0M110.6 418.5h0M78.3 398.1h0M103.5 432.5h0M125.9 444.9h0M90.7 410.7h0M83.2 399.9h0M90.4 416.7h0M96.2 423.4h0M129.1 414.5h0M102.3 419.0h0M105.8 415.2h0M98.8 420.7h0M100.6 425.7h0M111.1 435.2h0M116.7 426.9h0M107.3 411.8h0M117.1 405.7h0M114.5 444.7h0M98.7 429.2h0M117.7 418.9h0M124.2 411.9h0M90.8 427.0h0M115.6 423.5h0M121.9 402.1h0M96.5 446.8h0M104.6 435.1h0M114.8 389.2h0M100.7 462.0h0M111.4 430.6h0M90.0 417.0h0M92.8 414.5h0M110.6 407.2h0M88.6 428.0h0M117.2 411.3h0M98.6 432.6h0M106.7 437.3h0M118.4 414.6h0M123.4 390.4h0M95.1 419.8h0M122.1 432.0h0M116.6 406.2h0M107.8 447.9h0M118.9 435.5h0M110.4 400.4h0M103.4 439.0h0M97.4 438.5h0M116.0 392.0h0M109.7 410.9h0M105.9 441.6h0M88.5 394.1h0M103.8 420.8h0M112.7 421.0h0M96.1 415.5h0M139.4 426.7h0M120.9 424.5h0M112.0 395.6h0M115.9 457.7h0M83.1 428.2h0M90.1 429.3h0M113.5 417.3h0M90.9 410.3h0M127.9 414.5h0M108.0 427.2h0M100.4 415.7h0M86.9 450.3h0M112.6 428.4h0M100.3 402.7h0M119.4 411.3h0M109.4 402.8h0M141.1 417.5h0M113.4 432.8h0M92.5 421.6h0M90.0 405.9h0M121.0 436.9h0M115.2 404.5h0M107.2 430.5h0M102.9 413.9h0M111.6 431.5h0M99.6 395.1h0M100.7 416.4h0M105.5 423.2h0M124.7 418.4h0M114.3 408.9h0M107.3 427.3h0M91.8 434.1h0M96.5 414.4h0M116.6 427.7h0M109.7 409.2h0M136.2 417.2h0M109.1 419.8h0M110.5 414.7h0M100.3 402.8h0M92.3 429.5h0M132.6 421.6h0M110.8 415.2h0M103.1 447.9h0M111.3 427.0h0M123.4 374.5h0M118.1 418.0h0M110.0 420.5h0M118.1 428.2h0M132.2 412.4h0M114.7 432.9h0M100.5 416.1h0M117.4 422.4h0M107.4 422.9h0M147.2 412.2h0M93.4 421.7h0M82.7 409.1h0M81.0 437.4h0M119.9 415.5h0M76.7 400.5h0M93.6 464.0h0M87.0 418.7h0M120.6 427.6h0M103.2 410.1h0M122.9 415.9h0M85.6 407.8h0M100.0 441.1h0M105.9 392.2h0M103.1 431.6h0M94.9 410.4h0M90.1 422.2h0M109.0 410.2h0M110.4 426.6h0M98.8 417.6h0M117.5 414.3h0M85.2 427.4h0M107.4 425.0h0M111.3 442.8h0M88.2 449.1h0M115.5 429.7h0M95.5 419.3h0M106.7 425.7h0M84.5 417.9h0M80.2 451.5h0M98.7 408.6h0M100.8 428.1h0M122.2 428.7h0M83.4 412.9h0M111.8 420.6h0M120.1 410.8h0M103.9 387.5h0M106.9 428.3h0M110.9 405.9h0M108.0 418.8h0M95.0 410.5h0M111.0 428.6h0M136.4 404.1h0M103.9 431.4h0M101.5 430.9h0M81.3 445.1h0M122.3 420.3h0M89.6 412.4h0M97.0 440.3h0M101.1 422.6h0M117.0 413.2h0M99.1 384.6h0M120.4 441.6h0M111.0 404.7h0M115.5 414.6h0M68.6 413.7h0M79.3 413.8h0M91.5 431.8h0M85.9 421.0h0M106.4 394.2h0M109.2 408.1h0M93.8 396.2h0M108.4 409.1h0M106.2 418.0h0M129.2 414.7h0M109.1 439.8h0M101.5 437.1h0M115.1 389.0h0M129.7 416.3h0M91.6 414.4h0M110.8 422.1h0M138.6 391.9h0M113.1 410.0h0M101.9 411.5h0M97.3 443.4h0M110.7 417.8h0M112.8 394.8h0M106.0 410.5h0M94.4 439.5h0M111.1 427.9h0M99.8 420.1h0M107.9 427.8h0M110.2 425.8h0M97.4 426.2h0M114.4 426.3h0M104.0 422.2h0M107.3 423.3h0M108.1 410.9h0M100.9 420.4h0M92.5 380.7h0M106.9 412.5h0M111.5 427.6h0M113.1 414.5h0M110.6 392.3h0M116.3 404.7h0M96.9 425.9h0M99.0 404.2h0M104.3 402.8h0M119.4 401.3h0M106.7 434.9h0M112.2 453.1h0M122.7 423.4h0M90.7 427.9h0M125.8 432.8h0M116.4 428.1h0M106.4 424.4h0M113.7 418.8h0M126.7 405.3h0M126.2 409.9h0M93.6 413.8h0M96.2 414.6h0M117.2 437.2h0M119.4 377.8h0M125.1 407.3h0M113.8 437.8h0M123.6 445.0h0M109.1 403.7h0M95.1 447.9h0M103.2 421.2h0M101.1 404.7h0M129.7 439.3h0M111.0 428.6h0M97.8 416.7h0M100.7 433.5h0M126.1 410.0h0M83.7 430.9h0M137.6 403.5h0M134.5 423.3h0M112.3 394.7h0M105.6 396.3h0M117.5 453.3h0M111.6 407.8h0M99.4 416.7h0M110.5 440.4h0M109.8 420.3h0M93.8 404.4h0M111.5 416.8h0M105.9 426.1h0M131.1 404.4h0M118.0 433.1h0M101.0 398.8h0M90.6 420.9h0M109.9 424.2h0M118.1 434.2h0M127.3 444.0h0M108.0 421.2h0M95.6 400.6h0M108.0 402.0h0M127.4 407.0h0M132.2 407.7h0M106.3 435.1h0M114.1 439.9h0M96.3 429.9h0M102.5 426.0h0M88.9 405.5h0M104.1 425.4h0M93.4 404.5h0M82.6 410.0h0M131.5 409.3h0M80.7 397.5h0M92.5 411.5h0M112.1 432.0h0M101.1 428.0h0M107.2 428.6h0M123.3 430.8h0M84.5 429.7h0M103.4 383.6h0M114.5 414.8h0M90.5 389.2h0M115.5 423.0h0M117.6 420.1h0M136.8 408.3h0M109.5 419.9h0M131.3 438.1h0M100.3 436.9h0M99.0 431.3h0M85.9 391.1h0M122.5 425.2h0M102.8 392.2h0M100.4 409.8h0M118.9 420.7h0M80.0 406.7h0M92.0 407.8h0M90.7 436.1h0M124.8 415.5h0M97.5 403.9h0M107.8 452.6h0M122.1 426.1h0M125.4 409.5h0M101.0 425.6h0M91.9 437.3h0M100.2 399.2h0M121.8 414.2h0M104.3 439.9h0M129.1 408.4h0M125.6 396.1h0M129.1 421.9h0M109.2 442.2h0M114.7 391.5h0M113.7 432.7h0M123.5 443.1h0M103.4 399.8h0M86.0 411.2h0M99.8 421.6h0M132.6 411.2h0M90.0 419.4h0M111.4 429.7h0M128.8 426.4h0M113.0 407.7h0M113.9 434.3h0M103.5 444.3h0M108.8 430.8h0M84.9 436.0h0M106.9 411.3h0M111.6 422.7h0M98.3 399.1h0M114.5 429.7h0M111.3 414.8h0M105.5 389.9h0M101.4 407.6h0M106.5 383.9h0M89.7 411.1h0M81.7 397.7h0M129.7 415.1h0M101.2 419.4h0M93.4 420.1h0M101.4 402.6h0M109.1 429.1h0M108.5 398.6h0M109.8 408.7h0M101.8 421.4h0M114.9 431.5h0M103.1 456.7h0M122.3 430.2h0M133.8 436.6h0M131.3 437.3h0M103.1 432.2h0M125.2 431.4h0M128.0 428.9h0M97.2 416.2h0M95.2 399.1h0M138.0 432.4h0M127.0 399.2h0M120.4 412.2h0M119.2 430.7h0M127.6 407.2h0M127.3 435.2h0M114.3 402.7h0M91.1 393.6h0M85.9 431.4h0M85.6 407.2h0M113.3 411.6h0M115.9 437.9h0M101.6 429.5h0M124.3 418.8h0M123.5 418.6h0M111.6 433.4h0M105.9 416.7h0M117.1 435.4h0M93.9 436.8h0M112.2 422.9h0M129.2 405.3h0M96.4 402.3h0M111.5 427.0h0M87.9 426.8h0M92.0 423.0h0M139.6 436.9h0M109.6 434.2h0M120.5 383.5h0M97.9 431.3h0M117.5 403.6h0M116.0 426.2h0M108.0 419.8h0M136.9 431.5h0M122.3 393.6h0M104.2 432.3h0M113.0 416.9h0M96.0 424.8h0M107.7 395.3h0M146.3 417.3h0M83.2 397.2h0M100.5 412.7h0M97.1 418.2h0M130.6 403.8h0M125.4 432.2h0M93.2 397.9h0M120.2 435.1h0M120.4 429.2h0M99.8 429.9h0M94.0 428.9h0M122.2 431.0h0M128.7 429.7h0M124.9 422.8h0M133.9 419.4h0M131.0 409.8h0M93.1 423.5h0M108.8 412.6h0M98.4 432.8h0M116.1 434.0h0M103.9 425.6h0M95.4 410.0h0M121.2 432.4h0" stroke="#00E8E8" stroke-width="1.9" stroke-linecap="round" fill="none"/>
<path d="M111.2 436.7h0M99.9 439.0h0M107.8 418.2h0M97.3 439.0h0M97.0 439.3h0M127.8 394.4h0M108.7 404.0h0M103.1 419.5h0M105.8 429.3h0M115.3 395.4h0M93.5 401.4h0M91.8 427.3h0M107.2 420.6h0M82.2 414.7h0M80.5 419.3h0M101.1 425.8h0M116.1 431.3h0M106.3 425.1h0M96.2 450.8h0M111.2 404.4h0M110.1 435.1h0M99.6 435.7h0M105.1 438.0h0M109.7 407.5h0M111.6 436.6h0M84.5 406.0h0M114.2 404.4h0M85.7 419.7h0M102.7 415.6h0M103.9 423.5h0M97.7 397.4h0M105.7 415.3h0M106.6 420.3h0M99.8 397.4h0M114.9 439.9h0M115.5 421.2h0M116.7 414.5h0M90.6 392.5h0M110.1 403.4h0M96.7 425.0h0M121.4 439.1h0M86.7 415.8h0M99.1 420.1h0M108.3 425.8h0M105.7 402.6h0M82.0 444.0h0M100.6 428.7h0M110.4 429.9h0M108.8 435.6h0M95.8 426.4h0M114.8 407.6h0M96.4 408.4h0M125.2 412.7h0M119.8 413.2h0M111.7 427.8h0M111.3 412.5h0M102.3 445.1h0M127.3 427.2h0M101.4 425.0h0M132.9 409.5h0M110.2 426.1h0M103.8 417.0h0M119.5 414.6h0M106.8 423.1h0M92.0 420.1h0M122.7 434.4h0M84.6 416.6h0M131.6 405.1h0M97.5 423.6h0M99.9 407.9h0M99.2 421.7h0M112.2 424.0h0M89.5 395.8h0M118.8 417.6h0M110.1 424.5h0M127.7 434.7h0M101.5 429.8h0M115.3 439.3h0M120.2 451.1h0M138.0 423.5h0M96.7 426.9h0M99.0 418.7h0M122.2 410.3h0M83.3 410.9h0M95.4 396.1h0M116.7 426.8h0M112.2 435.1h0M106.6 448.6h0M111.9 432.2h0M99.2 425.7h0M104.8 403.0h0M112.1 406.3h0M121.3 396.1h0M83.5 437.6h0M116.9 414.4h0M83.6 409.9h0M112.1 446.7h0M100.7 443.3h0M86.2 442.2h0M117.7 409.3h0M126.6 420.3h0M98.6 414.0h0M120.3 411.4h0M99.5 417.0h0M106.7 401.6h0M127.3 445.1h0M107.4 426.3h0M106.3 404.4h0M113.3 404.9h0M89.1 411.3h0M114.1 412.8h0M119.9 429.2h0M121.8 439.3h0M102.0 429.9h0M117.5 424.5h0M102.0 427.2h0M111.2 429.9h0M107.5 411.7h0M89.8 418.2h0M132.4 422.3h0M109.1 408.3h0M113.3 420.8h0M111.3 415.9h0M95.1 407.2h0M100.9 406.0h0M94.8 423.5h0M108.9 412.4h0M106.8 435.0h0M93.2 428.5h0M82.0 441.7h0M115.2 449.6h0M132.3 421.5h0M117.2 425.7h0M83.2 432.8h0M119.0 431.1h0M112.4 403.1h0M100.1 366.9h0M111.8 408.8h0M101.1 434.5h0M108.7 379.5h0M121.6 398.9h0M92.8 404.8h0M124.7 400.6h0M113.0 427.6h0M80.6 438.8h0M99.3 442.4h0M103.0 439.9h0M135.8 388.4h0M92.8 410.6h0M121.0 442.6h0M110.2 425.9h0M118.8 405.8h0M100.4 421.0h0M126.1 408.9h0M117.1 408.3h0M93.2 420.8h0M110.8 420.3h0M98.4 411.4h0M120.7 398.9h0M100.3 402.8h0M109.5 437.3h0M103.6 409.5h0M103.8 420.0h0M102.2 405.6h0M112.7 440.4h0M111.3 409.4h0M125.8 419.6h0M113.9 417.0h0M114.3 400.7h0M108.0 416.6h0M105.5 421.3h0M145.2 405.3h0M104.5 400.5h0M109.7 411.5h0M121.4 417.5h0M106.8 419.7h0M134.6 434.3h0M113.8 434.4h0M105.4 396.4h0M90.0 426.5h0M113.0 410.7h0M95.8 430.9h0M102.6 401.8h0M118.1 420.9h0M92.3 440.7h0M100.9 411.4h0M98.6 414.0h0M128.2 414.4h0M118.0 409.2h0M124.2 436.9h0M119.3 443.6h0M111.5 391.0h0M91.8 410.0h0M119.0 420.8h0M112.0 422.3h0M104.0 417.8h0M101.0 419.1h0M117.4 442.1h0M126.9 417.2h0M102.5 413.0h0M84.3 432.2h0M120.0 424.8h0M109.0 428.7h0M121.0 437.2h0M88.6 453.4h0M99.7 438.6h0M93.9 436.9h0M143.3 433.6h0M108.9 441.8h0M107.5 421.1h0M102.1 417.1h0M110.4 409.3h0M124.0 424.2h0M92.6 408.5h0M107.7 414.4h0M128.1 404.5h0M108.6 417.3h0M106.4 428.0h0M116.2 411.3h0M101.5 424.6h0M107.8 411.7h0M87.3 423.8h0M102.6 426.5h0M100.2 418.1h0M105.2 393.4h0M109.0 423.3h0M107.2 420.3h0M127.4 390.6h0M95.4 409.4h0M98.1 411.8h0M91.2 414.0h0M114.9 409.2h0M117.1 430.9h0M119.3 422.5h0M83.1 417.0h0M76.0 397.1h0M116.8 379.2h0M117.2 410.4h0M117.2 438.4h0M107.7 404.5h0M116.6 400.6h0M108.9 418.0h0M122.8 394.4h0M111.1 445.5h0M106.5 445.9h0M120.8 396.0h0M115.7 424.0h0M99.4 415.7h0M84.6 443.0h0M115.2 414.4h0M119.7 440.0h0M107.0 418.0h0M116.6 416.6h0M131.8 433.7h0M111.4 413.1h0M81.0 403.3h0M137.0 418.0h0M124.8 390.9h0M92.1 431.9h0M123.4 398.4h0" stroke="#E02000" stroke-width="1.9" stroke-linecap="round" fill="none"/>
<circle cx="109.1" cy="419.3" r="33" fill="url(#gB)"/>
<path d="M89.2 404.0h0M111.0 388.3h0M131.6 403.6h0M114.3 430.1h0M108.5 418.8h0M104.1 445.6h0M124.5 416.4h0M103.3 418.1h0M80.2 411.6h0M102.8 437.2h0M115.4 405.2h0M90.9 427.6h0M114.8 429.8h0M110.2 423.7h0M110.6 444.3h0M109.5 405.1h0M121.4 429.5h0M105.5 437.3h0M117.2 408.8h0M98.3 441.2h0M122.0 402.5h0M94.4 445.3h0M145.3 434.5h0M108.8 414.1h0M120.8 439.9h0M115.0 416.3h0M90.8 400.7h0M94.7 392.0h0M115.4 413.0h0M133.2 433.3h0M110.2 446.4h0M122.0 415.2h0M110.5 409.6h0M103.0 418.3h0M104.6 413.4h0M107.0 420.1h0M127.4 416.2h0M104.7 427.0h0M112.8 403.5h0M106.1 417.2h0M99.9 430.1h0M114.3 411.1h0M125.0 423.9h0M110.3 422.5h0M121.2 428.5h0M100.4 423.5h0M108.4 414.7h0M105.5 434.0h0M110.8 453.9h0M102.0 431.4h0M124.6 413.8h0M111.1 434.1h0M134.1 417.4h0M107.7 423.7h0M119.4 413.6h0M121.5 425.6h0M110.7 405.8h0M119.6 388.7h0M97.0 394.2h0M105.0 415.8h0M105.2 409.5h0M119.6 391.9h0M89.8 423.3h0M125.8 424.1h0M94.0 393.3h0M117.4 422.6h0M110.8 400.2h0M76.7 429.9h0M133.3 430.6h0M117.0 425.3h0M107.3 415.1h0M110.7 407.3h0M114.6 401.3h0M108.8 442.7h0M129.6 407.1h0M121.3 426.9h0M122.5 424.8h0M106.4 435.0h0M124.1 402.3h0M110.8 414.4h0M96.2 420.1h0M105.4 391.0h0M135.5 420.1h0M108.0 421.8h0M97.8 407.4h0M132.3 412.8h0M87.4 423.4h0M121.7 408.5h0M101.8 436.7h0M121.7 401.6h0M103.9 413.3h0M107.3 400.7h0M107.2 404.0h0M119.3 421.3h0M103.3 414.5h0M103.5 431.1h0M116.2 427.4h0M82.3 428.1h0M108.4 412.7h0M91.2 434.3h0M130.0 418.8h0M107.6 408.7h0M120.7 419.8h0M100.5 436.4h0M116.6 422.6h0M108.9 415.0h0M99.2 411.5h0M102.8 430.7h0M97.1 439.0h0M124.1 409.9h0M99.6 394.9h0M120.9 428.4h0M131.1 422.6h0M115.1 414.3h0M93.6 427.6h0M105.3 417.9h0M99.7 425.5h0M87.6 401.7h0M123.9 426.8h0M97.1 422.0h0M114.6 432.6h0M123.9 432.5h0M102.3 445.1h0M110.0 428.1h0M117.6 438.9h0M123.7 395.9h0M91.2 416.9h0M99.6 431.9h0M129.6 436.6h0M96.3 425.8h0M122.1 428.6h0M122.0 455.3h0M120.5 424.5h0M117.3 423.1h0M104.7 418.7h0M97.9 405.2h0M110.8 406.5h0M101.8 409.6h0M94.9 381.9h0M118.1 437.2h0M112.5 409.1h0M124.4 423.8h0M91.8 417.6h0M110.4 406.7h0M116.7 398.8h0M109.9 428.6h0M85.0 426.6h0M120.9 407.0h0M94.7 416.0h0M109.6 415.9h0M105.5 403.1h0M86.0 408.6h0M121.7 428.9h0M118.9 415.8h0M101.8 411.5h0M111.7 399.7h0M114.2 424.5h0M101.5 430.8h0M118.8 387.9h0M104.3 416.9h0M79.4 427.1h0M122.0 425.7h0M107.7 438.2h0M110.5 422.8h0M115.8 434.0h0M87.5 431.1h0M114.0 437.8h0M112.3 417.4h0M100.7 419.3h0M102.0 425.7h0M110.1 408.4h0M118.4 417.8h0M104.5 437.3h0M115.3 424.6h0M99.9 436.0h0M117.1 402.6h0M105.8 435.7h0M122.0 417.4h0M112.4 421.3h0M79.3 428.4h0M128.3 411.3h0M111.0 431.9h0M112.8 432.9h0M110.0 415.4h0M100.6 417.6h0M92.8 402.6h0M110.8 406.4h0M111.3 417.4h0M107.5 426.1h0M103.6 404.6h0M106.0 416.0h0M126.8 432.4h0M92.2 394.4h0M93.6 426.2h0M85.6 430.7h0M105.3 433.9h0M112.5 406.1h0M104.2 421.3h0M124.5 415.0h0M101.9 420.3h0M99.4 425.6h0M114.4 430.6h0M98.3 434.1h0M146.2 437.7h0M110.6 417.2h0M89.3 425.0h0M136.1 426.0h0M114.4 417.8h0M94.5 450.6h0M105.0 440.4h0M110.0 417.6h0M98.1 420.4h0M112.0 413.9h0M108.2 416.2h0M98.1 409.2h0M143.9 401.3h0M118.5 400.0h0M97.1 431.4h0M90.6 429.0h0M128.5 415.8h0M119.5 432.5h0M82.4 413.1h0M103.9 431.0h0M103.6 401.5h0M92.0 419.5h0M110.3 424.6h0M94.9 425.3h0M107.9 405.3h0M92.8 448.1h0M117.1 413.8h0M116.9 409.1h0M131.6 426.5h0M79.9 413.6h0M106.2 420.4h0M94.0 431.9h0M111.5 438.5h0M112.2 438.7h0M129.9 420.3h0M113.2 431.6h0M115.6 417.6h0M140.1 435.1h0M116.0 402.7h0M95.4 416.4h0M94.8 399.2h0M117.6 428.4h0M102.0 418.6h0M124.1 431.0h0M133.3 416.3h0M104.8 430.0h0M133.7 416.9h0M105.2 415.7h0M124.3 435.2h0M96.7 433.5h0M119.7 436.4h0M103.3 418.2h0M116.4 426.2h0M96.9 429.2h0M117.5 415.9h0M115.1 434.4h0M109.8 420.2h0M96.2 418.3h0M100.6 405.7h0M122.1 425.3h0M113.9 421.7h0M127.4 396.0h0M129.9 412.9h0M97.9 408.4h0M98.3 417.1h0M119.7 408.0h0M120.1 412.2h0M109.6 438.1h0M105.3 403.9h0M110.6 424.4h0M104.9 413.5h0M117.8 406.5h0M107.9 408.2h0M117.7 413.3h0M114.3 418.5h0M108.7 407.5h0M126.0 411.9h0M108.0 401.9h0M110.7 407.8h0M95.8 432.6h0M119.6 422.9h0M112.2 426.7h0M109.5 421.9h0M96.9 413.9h0M107.6 384.5h0M94.0 407.5h0M136.0 397.7h0M85.3 428.3h0M96.7 425.5h0M109.0 441.1h0M109.5 430.6h0M107.4 419.6h0M109.8 418.3h0M128.1 440.2h0M110.0 416.0h0M112.1 432.5h0M119.0 420.0h0M89.1 450.2h0M128.7 425.5h0M113.9 437.2h0M131.3 420.5h0M113.7 416.6h0M135.0 414.2h0M104.2 433.3h0M117.8 419.1h0M120.8 423.1h0M109.6 423.9h0M117.3 422.1h0M116.2 421.4h0M116.8 406.7h0M131.8 432.9h0M114.0 427.3h0M133.5 425.8h0M93.4 424.6h0M84.2 416.9h0M128.7 404.8h0M89.9 414.6h0M115.0 445.1h0M106.7 418.5h0M94.4 447.5h0M107.9 425.4h0M123.3 417.5h0M98.6 413.1h0M108.9 430.7h0M123.3 412.4h0M105.4 400.7h0M110.4 448.2h0M115.8 415.1h0M129.6 425.3h0M124.9 440.8h0M94.0 420.1h0M107.0 435.8h0M108.7 421.1h0M83.8 412.8h0M102.3 405.7h0M112.0 415.4h0M112.5 431.4h0M115.2 419.6h0M114.1 404.3h0M104.9 411.7h0M134.4 402.4h0M105.0 426.4h0M103.6 427.9h0M94.9 432.5h0M112.5 390.0h0M91.5 402.2h0M106.5 414.4h0M114.1 427.6h0M117.5 425.3h0M99.2 399.3h0M94.1 424.1h0M97.2 402.9h0M98.5 424.3h0M92.6 416.4h0M119.1 430.1h0M87.6 418.6h0M102.4 452.1h0M106.5 400.2h0M101.6 418.7h0M103.6 428.6h0M104.6 419.6h0M153.8 424.9h0M120.6 419.4h0M78.1 441.6h0M103.8 428.2h0M91.4 420.6h0M123.7 404.3h0M134.5 432.2h0M114.7 415.3h0M121.9 391.7h0M125.9 392.5h0M103.1 436.8h0M114.0 393.7h0M88.1 401.8h0M102.8 407.6h0M122.2 414.2h0M132.4 437.0h0M93.6 436.2h0M126.7 403.4h0M105.3 407.7h0M96.6 418.1h0M113.7 407.9h0M88.7 427.4h0M126.9 434.3h0M91.1 412.0h0M105.5 409.7h0M123.5 406.7h0M105.8 423.8h0M110.6 422.3h0M107.8 425.9h0M113.8 419.6h0M116.9 424.5h0M118.8 425.3h0M115.6 423.7h0M98.6 412.4h0M105.8 409.8h0M103.5 409.9h0M100.7 423.3h0M148.4 444.8h0M109.6 419.8h0M106.3 415.7h0M117.1 424.6h0M113.3 431.3h0M103.9 428.8h0M111.8 405.8h0M126.0 406.4h0M119.9 409.3h0M100.7 434.0h0M114.9 418.8h0M99.5 395.9h0M103.3 416.6h0M121.2 418.7h0M122.6 411.6h0M121.4 430.1h0M106.5 429.9h0M131.2 400.4h0M92.7 409.8h0M102.3 406.1h0M111.6 400.5h0M133.0 417.7h0M112.3 416.4h0M102.3 420.4h0M107.9 423.7h0M119.3 407.9h0M86.8 409.9h0M112.8 391.8h0M115.4 420.2h0M92.6 421.7h0M121.6 417.6h0M115.9 426.5h0M124.8 434.7h0M100.1 415.9h0M110.1 405.5h0M111.2 423.7h0M113.8 393.8h0M101.5 385.7h0M110.9 418.5h0M119.8 430.7h0M97.5 417.5h0M111.7 429.2h0M124.6 416.4h0M90.8 429.3h0M107.0 394.7h0M111.9 407.5h0M110.1 434.7h0M108.9 408.2h0M115.1 415.0h0M111.0 432.0h0M112.6 425.2h0M109.0 420.4h0M96.4 408.7h0M122.9 436.2h0M95.7 427.7h0M121.1 408.2h0M118.7 426.5h0M125.1 442.0h0M110.0 424.0h0M98.4 422.5h0M110.2 416.0h0M111.5 430.4h0M121.7 429.0h0M132.8 400.0h0M108.0 417.8h0M104.8 413.0h0M92.0 414.6h0M125.5 413.0h0M109.5 424.5h0M109.8 406.2h0M103.3 434.4h0M101.2 402.6h0M134.3 420.7h0M95.8 395.7h0M100.3 401.6h0M108.0 431.1h0M119.9 414.0h0M118.2 413.2h0M77.2 428.1h0M99.6 406.2h0M122.6 419.6h0M121.0 431.6h0M119.6 417.4h0M136.3 405.6h0M122.2 443.6h0M107.7 410.9h0M120.7 433.4h0M117.2 410.5h0M112.0 399.6h0M123.8 433.9h0M107.7 426.8h0M106.2 419.7h0M112.1 416.2h0M147.5 414.9h0M123.1 407.2h0M113.5 418.5h0M99.4 429.9h0M120.0 436.3h0M115.5 405.4h0M120.6 422.9h0M133.7 387.8h0M108.0 420.3h0M123.5 403.4h0M124.4 422.8h0M83.7 450.0h0M82.6 405.3h0M99.2 425.0h0M104.1 417.7h0M100.3 425.4h0M120.6 441.8h0M91.0 409.2h0M102.3 412.9h0M108.1 427.3h0M101.9 410.4h0M126.1 437.1h0M133.9 445.7h0M100.4 436.6h0M119.3 417.8h0M118.1 410.4h0M95.7 415.5h0M90.5 413.6h0M111.0 405.7h0M100.5 392.9h0M95.0 417.9h0M101.5 420.7h0M101.7 412.2h0M88.7 441.1h0M106.8 430.6h0M99.9 403.4h0M113.5 413.1h0M109.0 427.2h0M117.8 429.3h0M112.5 393.5h0M116.2 438.9h0M115.0 432.5h0M116.3 425.9h0M117.7 399.1h0M82.5 419.8h0M117.9 426.1h0M106.5 412.5h0M96.6 423.4h0M114.3 428.5h0M108.5 435.7h0M100.7 433.6h0M99.7 437.8h0M122.5 405.8h0M117.0 405.8h0M133.5 433.3h0M111.2 423.8h0M109.5 412.8h0M95.9 417.9h0M123.1 423.5h0M124.8 432.5h0M117.0 407.0h0M97.5 413.9h0M81.6 398.2h0M111.1 436.9h0M138.5 421.4h0M122.5 423.7h0M98.7 431.4h0M109.6 427.3h0M86.1 414.6h0M122.8 416.1h0M110.0 430.7h0M129.1 437.3h0M111.9 411.8h0M122.5 410.4h0M94.3 408.3h0M109.5 409.5h0M99.5 432.3h0M95.4 403.0h0M110.9 427.6h0M103.4 406.1h0M141.8 413.6h0M144.9 409.4h0M127.0 403.0h0M131.6 426.6h0M113.9 411.8h0M131.1 437.5h0M111.5 422.6h0M102.1 428.6h0M106.9 427.0h0M85.5 425.8h0M124.1 422.2h0M131.5 409.6h0M126.2 421.9h0M112.2 426.1h0M128.8 396.4h0M111.9 418.7h0M121.4 420.1h0M105.2 423.4h0M122.1 411.0h0M113.5 418.4h0M103.6 420.1h0M136.9 413.7h0M118.7 427.2h0M126.8 415.7h0M95.2 429.7h0M84.9 423.6h0M123.9 428.3h0M112.3 417.1h0M104.6 431.8h0M89.6 404.0h0M104.3 417.3h0M117.6 416.3h0M111.8 412.7h0M124.8 431.0h0M89.3 434.2h0M115.3 421.2h0M121.9 426.1h0M113.4 425.8h0M88.0 425.5h0M112.9 405.6h0M103.8 427.4h0M105.1 406.6h0M107.8 412.4h0M112.3 435.6h0M137.3 419.8h0M117.1 406.6h0M119.9 426.5h0M102.7 429.2h0M102.9 421.7h0M114.4 420.8h0M115.0 425.7h0M103.3 422.6h0M120.0 432.9h0M100.0 414.4h0M105.2 402.8h0M116.5 444.7h0M103.1 415.7h0M105.6 418.8h0M99.9 445.1h0M97.7 428.8h0M123.3 421.7h0M129.4 397.5h0M73.1 428.5h0M115.9 417.9h0M113.8 409.6h0M97.9 409.5h0M111.1 427.6h0M135.7 416.4h0M89.2 431.9h0M105.6 406.4h0M119.7 395.1h0M94.1 444.2h0M103.9 426.2h0M127.5 403.4h0M112.6 435.0h0M121.8 438.2h0M142.9 446.7h0M119.8 411.6h0M121.7 411.0h0M87.4 400.5h0M111.1 419.0h0M103.4 434.3h0M108.9 409.8h0M110.4 419.2h0M118.4 419.1h0M122.3 414.0h0M108.8 427.4h0M100.6 422.5h0M113.0 433.2h0M78.9 436.7h0M106.2 420.7h0M128.8 426.6h0M92.4 415.7h0M120.1 415.9h0M115.4 431.3h0M135.9 410.7h0M89.9 409.9h0M104.6 432.8h0M113.9 436.5h0M113.1 401.9h0M115.6 411.0h0M114.6 398.3h0M120.5 406.0h0M105.3 431.3h0M107.5 407.8h0M129.5 415.3h0M123.2 418.5h0M87.3 417.1h0M115.5 417.7h0M132.0 397.4h0M101.1 428.1h0M125.1 431.0h0M98.2 424.2h0M117.1 443.6h0M138.4 426.2h0M118.8 429.7h0M109.2 423.5h0M115.4 421.6h0M119.3 420.0h0M103.2 434.7h0M122.6 409.9h0M118.3 408.3h0M114.7 410.4h0M102.7 425.3h0M98.8 429.8h0M131.3 416.5h0M100.8 425.0h0M107.5 399.8h0M138.4 413.3h0M134.3 431.5h0M119.2 425.1h0M106.4 428.1h0M102.9 425.0h0M99.3 420.3h0M73.5 412.5h0M115.3 420.8h0M114.5 426.7h0M132.8 412.9h0M64.0 426.6h0M113.2 419.9h0M119.8 440.7h0M114.4 407.5h0M120.0 410.5h0M91.0 405.6h0M110.5 401.5h0M105.5 425.8h0M81.0 436.0h0M136.2 417.6h0M109.2 416.4h0M72.2 422.2h0M90.9 417.6h0M96.6 407.9h0M101.0 405.8h0M82.0 435.2h0M96.3 431.6h0M120.0 415.5h0M110.9 420.3h0M116.9 425.0h0M106.7 419.0h0M123.5 408.8h0M88.8 391.9h0M105.6 432.3h0M137.1 411.8h0M112.4 408.2h0M111.7 417.2h0M121.8 430.0h0M115.8 420.6h0M121.5 417.0h0M126.9 439.0h0M121.1 442.0h0M102.3 426.1h0M113.7 410.0h0M114.6 417.6h0M116.3 421.6h0M119.3 415.5h0M110.4 431.6h0M126.9 421.9h0M87.9 431.7h0M118.5 405.5h0M84.9 398.7h0M89.8 443.1h0M104.6 417.6h0M119.8 439.1h0M112.3 418.7h0M123.6 437.1h0M113.7 412.4h0M96.6 431.0h0M97.9 412.1h0M82.5 403.5h0M118.2 412.0h0M120.2 417.5h0M103.3 431.7h0M111.9 415.3h0M129.7 406.7h0M95.7 419.9h0M109.9 394.7h0M106.3 416.3h0M98.9 422.3h0M82.8 425.2h0M123.4 449.4h0M93.4 432.1h0M99.7 398.1h0M109.8 408.7h0M102.5 408.3h0M116.1 417.2h0M115.4 422.5h0M115.7 420.1h0M94.6 428.3h0M105.2 420.3h0M111.9 421.2h0M101.5 411.6h0M98.2 415.4h0M119.3 407.5h0M113.6 442.4h0M91.8 420.3h0M114.1 416.3h0M102.9 429.2h0M108.6 422.6h0M95.7 435.8h0M135.1 415.8h0M115.5 412.3h0M125.8 425.2h0M113.0 418.2h0M97.7 422.5h0M114.7 395.3h0M111.5 394.9h0M129.9 421.1h0M116.4 409.3h0M133.5 424.5h0M111.5 417.3h0M99.4 414.6h0M106.0 403.6h0M124.2 398.7h0M115.4 436.2h0M113.3 424.2h0M104.7 405.8h0M132.6 400.2h0M115.6 404.8h0M117.2 427.9h0M125.1 419.8h0M110.6 415.3h0M110.5 418.5h0M120.7 416.9h0M107.6 449.6h0M95.1 421.1h0M142.0 402.2h0M128.5 422.2h0M123.7 428.4h0M91.4 431.8h0M105.9 399.6h0M116.4 405.9h0M107.9 423.4h0M91.2 429.9h0M120.0 421.0h0M121.9 418.3h0M129.6 413.7h0M112.8 428.7h0M116.3 399.0h0M106.2 434.6h0M103.5 399.8h0M115.8 406.6h0M126.3 410.9h0M79.3 403.0h0M96.3 410.1h0M113.8 420.2h0M121.7 408.5h0M103.7 424.1h0M116.2 430.3h0M90.9 421.7h0M115.4 426.1h0M106.1 422.4h0M88.1 405.8h0M124.5 407.7h0M114.1 448.1h0M89.2 405.8h0M111.6 423.0h0M111.8 421.2h0M94.4 415.0h0M122.4 404.9h0M107.3 418.8h0M121.4 410.2h0M126.8 423.0h0M113.4 416.2h0M101.7 403.3h0M119.6 418.8h0M120.5 429.0h0M98.7 420.7h0M101.4 394.5h0M122.4 420.4h0M111.1 435.2h0M95.4 434.4h0M103.5 423.7h0M110.8 408.0h0M91.5 432.9h0M104.5 424.2h0M103.9 422.1h0M107.5 418.1h0M120.5 440.9h0M97.3 411.4h0M114.7 414.6h0M108.9 429.4h0M109.9 405.5h0M120.9 421.3h0M115.7 421.1h0M86.4 435.5h0M100.4 434.3h0M94.4 420.2h0M113.5 411.3h0M115.6 426.2h0M103.1 427.6h0M111.0 427.7h0M99.8 411.1h0M104.0 412.6h0M104.9 426.3h0M114.5 409.3h0M107.5 425.4h0M100.1 414.5h0M104.1 406.6h0M96.8 409.1h0M118.3 414.2h0M114.6 411.8h0M91.0 412.0h0M120.6 420.3h0M103.3 423.1h0M109.7 412.2h0M102.1 423.0h0" stroke="#1010F0" stroke-width="2.0" stroke-linecap="round" fill="none"/>
<path d="M103.0 396.5h0M112.9 401.1h0M84.7 398.7h0M79.3 437.2h0M105.0 433.8h0M113.2 414.4h0M87.6 426.9h0M105.8 417.0h0M89.9 438.4h0M97.1 423.8h0M108.7 443.7h0M131.3 425.9h0M105.3 435.6h0M120.9 395.3h0M109.6 409.6h0M126.7 442.2h0M98.0 414.1h0M97.3 427.3h0M121.4 397.4h0M87.1 428.5h0M112.3 407.4h0M114.6 435.7h0M129.7 427.3h0M100.5 431.6h0M116.2 411.7h0M129.6 440.1h0M139.5 421.1h0M104.6 416.5h0M110.6 407.2h0M90.2 444.9h0M119.6 425.9h0M123.1 411.3h0M105.0 416.8h0M128.5 417.9h0M113.0 413.3h0M115.4 428.2h0M109.5 413.8h0M135.2 405.9h0M99.3 430.0h0M95.4 405.2h0M115.4 432.9h0M140.5 447.8h0M115.7 447.5h0M92.5 417.1h0M88.5 440.0h0M101.3 422.5h0M104.0 422.7h0M104.8 429.6h0M123.6 414.3h0M108.7 415.7h0M98.3 443.1h0M82.3 392.8h0M86.1 437.5h0M117.5 435.0h0M93.3 417.3h0M137.5 400.2h0M81.2 398.6h0M105.0 432.0h0M120.7 417.0h0M113.8 418.3h0M103.5 439.2h0M110.6 416.7h0M109.5 421.9h0M115.6 435.3h0M109.2 426.2h0M105.1 411.5h0M135.9 413.4h0M133.4 397.9h0M133.2 403.1h0M108.4 420.7h0M109.6 419.5h0M99.5 431.4h0M105.2 404.1h0M120.8 426.7h0M100.2 400.5h0M123.0 421.3h0M106.9 409.7h0M93.5 439.7h0M115.0 408.6h0M117.7 423.7h0M111.4 394.1h0M116.4 429.4h0M94.3 427.1h0M106.2 422.5h0M95.1 430.8h0M109.4 418.3h0M113.4 404.2h0M115.5 444.7h0M118.2 419.2h0M97.0 422.6h0M108.6 415.1h0M102.2 418.0h0M118.2 420.5h0M114.3 423.4h0M75.5 454.9h0M119.2 417.5h0M109.4 433.8h0M116.9 441.9h0M89.3 421.6h0M99.7 423.2h0M113.9 425.6h0M96.3 429.9h0M122.9 422.1h0M111.0 441.6h0M122.4 412.8h0M125.4 426.4h0M96.4 410.4h0M84.1 407.8h0M109.6 433.0h0M108.5 413.2h0M105.3 410.3h0M103.3 445.4h0M110.6 403.4h0M108.1 409.5h0M94.5 406.9h0M133.9 406.5h0M98.3 417.2h0M124.2 451.5h0M117.5 426.1h0M104.5 416.9h0M128.2 409.5h0M118.3 406.0h0M107.7 417.1h0M121.3 392.6h0M88.1 419.6h0M110.9 431.0h0M89.5 434.0h0M117.2 416.5h0M128.3 411.2h0M124.2 439.3h0" stroke="#00E8E8" stroke-width="1.7" stroke-linecap="round" fill="none"/>
<path d="M107.7 422.3h0M103.5 422.5h0M115.4 413.3h0M108.9 424.3h0M93.2 420.6h0M111.1 440.7h0M115.5 415.2h0M108.0 428.1h0M96.5 426.1h0M98.8 433.1h0M122.8 408.8h0M119.6 430.3h0M93.7 415.0h0M108.2 432.5h0M100.7 435.3h0M122.6 417.8h0M105.7 423.0h0M114.9 426.9h0M91.2 412.0h0M90.2 435.7h0M120.8 417.5h0M117.6 405.0h0M109.4 426.4h0M89.1 420.5h0M94.4 432.8h0M107.9 414.7h0M95.9 433.3h0M110.9 411.9h0M101.9 408.6h0M124.2 413.6h0M131.5 414.6h0M97.5 416.1h0M107.6 429.8h0M140.2 444.7h0M117.6 400.7h0M128.8 444.8h0M90.6 416.6h0M114.5 449.1h0M121.6 422.1h0M80.2 433.7h0M93.5 411.9h0M91.0 427.3h0M134.6 422.9h0M120.8 410.3h0M93.6 423.9h0M87.5 407.9h0M110.4 406.0h0M115.4 450.7h0M120.1 438.6h0M98.8 416.8h0M108.7 426.5h0M94.5 409.9h0M122.3 428.5h0M131.9 442.1h0M114.5 410.7h0M100.7 406.7h0M120.5 433.6h0M128.2 412.9h0M125.4 412.1h0M109.7 411.8h0M115.0 422.1h0M110.2 389.1h0M114.8 432.6h0M121.3 402.7h0M82.9 437.6h0M109.3 414.2h0M95.3 409.6h0M94.6 409.2h0M114.7 395.4h0M130.9 436.9h0" stroke="#E02000" stroke-width="1.7" stroke-linecap="round" fill="none"/>
<circle cx="108.6" cy="418.8" r="25" fill="url(#gO)"/>
<path d="M93.9 421.0h0M110.3 427.4h0M82.1 430.7h0M121.4 413.9h0M105.3 427.7h0M111.7 435.1h0M98.6 407.6h0M107.2 419.8h0M104.5 424.8h0M103.0 424.2h0M98.9 434.0h0M116.2 420.8h0M101.8 416.0h0M100.8 406.1h0M100.3 429.9h0M105.8 428.1h0M110.1 414.8h0M98.9 415.9h0M109.1 412.2h0M102.7 409.1h0M120.7 405.0h0M112.8 408.2h0M105.5 435.6h0M102.2 423.0h0M99.1 435.3h0M119.7 432.8h0M102.2 404.7h0M98.0 405.2h0M118.6 421.4h0M106.8 411.4h0M112.3 416.4h0M104.0 421.2h0M99.6 405.4h0M117.7 435.1h0M91.9 423.8h0M95.5 413.4h0M105.3 427.5h0M93.7 432.3h0M108.4 434.2h0M101.1 398.8h0M115.2 409.1h0M129.9 422.2h0M117.5 409.1h0M107.4 420.9h0M92.6 406.1h0M110.0 423.6h0M104.3 437.2h0M121.0 401.0h0M103.2 408.1h0M98.9 414.3h0M91.4 422.0h0M119.4 431.4h0M93.7 421.3h0M112.8 414.7h0M123.7 425.0h0M119.8 419.9h0M114.0 426.1h0M99.8 403.1h0M108.8 409.6h0M116.6 408.9h0M112.7 406.8h0M125.7 421.1h0M98.0 418.8h0M109.5 395.9h0M98.6 421.9h0M100.9 415.4h0M121.1 430.1h0M109.9 422.9h0M122.5 422.3h0M95.3 420.8h0M97.5 411.5h0M108.8 418.3h0M107.5 425.9h0M106.2 420.9h0M114.7 414.2h0M106.1 416.0h0M98.3 411.1h0M112.3 419.7h0M95.6 425.4h0M114.8 427.4h0M119.1 420.0h0M113.5 417.1h0M99.5 418.0h0M112.3 421.2h0M102.9 412.3h0M103.0 415.0h0M105.7 423.7h0M107.3 398.5h0M114.7 414.5h0M125.4 435.7h0M117.1 416.8h0M107.7 405.5h0M121.0 414.5h0M117.2 422.4h0M124.9 420.6h0M108.7 414.3h0M93.9 422.9h0M102.3 428.0h0M118.9 421.4h0M128.4 422.4h0M115.7 412.1h0M114.4 418.2h0M121.1 418.4h0M89.4 427.2h0M118.4 407.8h0M108.2 422.5h0M115.5 410.3h0M101.5 414.3h0M104.3 413.4h0M110.2 406.2h0M112.0 409.9h0M103.8 412.8h0M115.4 420.4h0M103.8 422.2h0M99.6 420.9h0M110.0 419.3h0M97.3 422.1h0M113.3 422.4h0M104.4 428.2h0M124.2 429.9h0M111.0 434.3h0M101.9 402.9h0M101.0 412.7h0M103.1 417.6h0M111.2 416.0h0M99.7 415.9h0M112.6 409.8h0M96.0 414.7h0M105.4 449.1h0M110.9 413.4h0M105.6 413.0h0M114.8 438.8h0M112.3 413.6h0M110.3 443.1h0M100.7 413.0h0M104.2 414.9h0M88.2 409.3h0M105.9 425.9h0M99.7 408.4h0M105.6 406.6h0M91.9 419.1h0M111.4 414.8h0M112.1 423.5h0M115.2 416.6h0M112.9 413.6h0M110.1 426.6h0M123.3 422.7h0M104.4 413.8h0M98.5 426.0h0M119.1 411.9h0M104.6 417.3h0M95.7 407.6h0M113.0 412.7h0M113.5 422.2h0M120.4 412.7h0M120.7 414.9h0M108.7 430.6h0M104.2 408.4h0M114.5 415.9h0M95.0 430.7h0M102.6 426.0h0M107.9 411.6h0M109.4 406.2h0M118.1 409.6h0M108.9 441.0h0M106.4 418.8h0M96.9 433.0h0M110.5 420.8h0M96.0 415.1h0M107.2 414.8h0M102.8 398.6h0M99.1 438.4h0M111.6 426.5h0M97.9 430.4h0M104.1 415.5h0M109.9 417.5h0M114.0 409.0h0M109.3 408.0h0M128.7 404.6h0M120.3 430.0h0M106.5 417.3h0M107.2 423.1h0M113.4 423.0h0M115.1 421.8h0M100.9 424.4h0M103.4 409.1h0M111.6 416.8h0M86.0 426.0h0M108.5 422.8h0M97.4 416.7h0M103.1 418.1h0M118.1 410.2h0M105.1 415.2h0M111.4 404.3h0M114.0 413.2h0M120.5 429.8h0M105.7 413.0h0M104.6 412.3h0M116.7 436.5h0M97.6 411.3h0M109.6 420.8h0M112.1 407.1h0M115.3 415.6h0M113.8 416.8h0M96.4 427.0h0M106.6 413.4h0M96.6 415.0h0M118.9 429.8h0M114.5 413.6h0M109.7 420.8h0M103.3 415.4h0M110.3 410.1h0M106.2 408.5h0M102.9 414.1h0M111.7 423.9h0M102.4 419.8h0M121.0 398.8h0M107.3 405.2h0M119.0 423.1h0M112.7 421.8h0M94.3 429.5h0M106.0 417.2h0M95.7 419.4h0M94.1 404.5h0M128.7 416.5h0M128.1 432.1h0M119.6 400.5h0M122.8 419.5h0M103.5 438.0h0M116.0 426.5h0M99.3 415.9h0M114.1 418.0h0M91.7 420.4h0M108.0 415.9h0M111.3 414.0h0M120.1 403.1h0M102.2 423.8h0M116.9 433.5h0M117.4 407.8h0M116.2 415.4h0M120.6 427.8h0M101.0 416.2h0M110.0 407.8h0M95.4 415.2h0M114.9 431.7h0M112.6 420.6h0M104.9 431.2h0M96.6 423.7h0M117.8 431.6h0M101.4 409.9h0M105.3 426.0h0M112.5 418.4h0M116.4 418.5h0M106.9 434.5h0M105.3 421.6h0M102.3 423.3h0M103.3 425.4h0M106.5 418.4h0M128.5 424.9h0M116.8 415.4h0M105.7 426.1h0M115.9 422.6h0M118.3 399.1h0M109.3 429.2h0M114.2 429.5h0M100.5 423.7h0M101.7 404.3h0M123.6 425.4h0M121.9 412.7h0M107.9 412.5h0M119.3 413.8h0M103.5 415.3h0M104.3 412.9h0M124.3 408.6h0M101.0 406.4h0M118.6 410.7h0M115.0 431.9h0M112.1 435.8h0M103.5 441.7h0M116.1 405.6h0M113.9 415.4h0M121.3 407.0h0M116.8 405.0h0M113.4 403.1h0M87.1 422.9h0M98.0 429.5h0M109.4 413.0h0M117.7 436.1h0M104.8 412.4h0M109.0 408.1h0M105.2 409.3h0M121.8 408.5h0M120.3 428.7h0M105.8 417.9h0M100.2 433.3h0M103.7 420.8h0M104.5 418.9h0M113.7 423.3h0M118.1 419.1h0M113.5 404.2h0M105.2 401.7h0M116.3 418.7h0M97.3 413.0h0M111.9 432.1h0M103.9 422.2h0M97.7 440.7h0M98.3 426.0h0M107.4 411.4h0M119.2 437.2h0M117.1 419.4h0M117.4 413.1h0M105.1 408.2h0M104.7 415.9h0M110.1 411.8h0M104.0 394.5h0M122.0 427.0h0M113.0 420.2h0M97.5 407.0h0M105.2 413.9h0M111.9 413.1h0M87.9 425.3h0M103.5 422.8h0M107.0 425.2h0M114.3 413.9h0M110.7 419.3h0M108.8 406.5h0M102.7 418.6h0M105.8 399.5h0M115.2 418.7h0M106.0 410.3h0M101.8 418.8h0M120.3 429.7h0M108.6 419.6h0M110.3 425.9h0M117.7 426.5h0M108.2 428.1h0M91.7 408.6h0M112.4 426.1h0M101.7 427.4h0M106.5 417.2h0M107.8 414.5h0M117.4 414.8h0M102.4 425.7h0M98.6 418.3h0M101.5 417.5h0M95.1 414.6h0M94.0 420.8h0M109.8 409.5h0M96.0 410.7h0M100.7 432.1h0M114.8 411.9h0M115.0 421.3h0M97.9 403.6h0M102.1 406.6h0M101.7 413.1h0M111.1 401.7h0M125.1 413.9h0M99.6 410.9h0M99.6 428.9h0M100.6 395.8h0M101.4 423.4h0M98.4 417.8h0M119.9 426.3h0M98.2 425.6h0M108.3 415.1h0M125.5 411.7h0M114.3 414.5h0M102.0 405.4h0M112.5 420.8h0M123.0 410.6h0M119.6 413.9h0M97.2 420.8h0M116.0 415.9h0M118.9 434.4h0M121.9 420.6h0M101.2 434.2h0M111.0 414.8h0M98.4 423.3h0M124.3 423.6h0M100.4 420.4h0M105.1 422.7h0M123.9 403.0h0M111.0 415.1h0M110.9 415.4h0M100.1 431.4h0M105.7 414.7h0M117.8 425.7h0M117.4 412.1h0M105.8 425.1h0M102.8 408.9h0M100.0 412.8h0M95.9 412.7h0M104.0 426.5h0M99.2 416.7h0M104.3 410.6h0M98.6 417.6h0M113.8 418.5h0M96.4 428.5h0M108.9 417.5h0M95.8 414.8h0M124.2 421.1h0M107.6 437.2h0M118.7 415.8h0M100.4 409.6h0M107.0 412.5h0M113.7 410.9h0M117.1 407.2h0M94.2 429.1h0M99.9 420.5h0M113.5 419.9h0M118.7 424.8h0M108.6 418.5h0M120.1 418.5h0M116.4 425.4h0M103.2 423.6h0M133.4 409.8h0M116.1 399.9h0M106.2 414.6h0M112.9 420.1h0M97.1 407.3h0M107.6 412.3h0M106.4 419.8h0M108.3 431.7h0M111.2 421.9h0M101.6 431.3h0M118.2 420.1h0M107.0 422.5h0M118.3 427.7h0M103.1 426.6h0M108.5 412.2h0M105.8 425.7h0M124.3 415.6h0M104.1 419.6h0M104.9 406.6h0M119.1 409.6h0M105.7 419.1h0M106.6 425.5h0M99.2 406.5h0M110.8 417.6h0M98.6 425.3h0M110.5 403.7h0M110.5 423.4h0M114.6 411.9h0M106.8 417.6h0M112.8 411.6h0M107.5 415.3h0M107.3 411.3h0M111.6 427.3h0M120.1 417.7h0M111.6 418.9h0M111.7 408.7h0M93.8 431.8h0M130.8 412.0h0M116.3 421.2h0M119.8 408.9h0M110.1 437.5h0M127.7 408.6h0M109.0 415.9h0M125.5 426.4h0M101.9 423.5h0M107.5 406.5h0M104.4 426.9h0M90.7 432.7h0M114.7 426.6h0M91.9 424.0h0M101.1 404.6h0M101.8 421.4h0M108.3 442.8h0M118.5 432.0h0M114.7 420.9h0M109.4 442.3h0M105.8 408.2h0M112.7 418.2h0M109.1 406.8h0M101.8 417.4h0M105.2 421.6h0M120.9 422.2h0M112.4 415.4h0M96.7 421.8h0M108.7 412.4h0M102.0 425.7h0M113.7 417.9h0M115.6 404.6h0M107.8 431.3h0M105.7 421.1h0M106.5 421.9h0M100.0 405.4h0M116.3 423.1h0M116.9 410.1h0M110.6 417.1h0M90.4 406.0h0M112.7 433.9h0M104.2 434.0h0M99.6 424.3h0M105.7 408.1h0M115.9 412.5h0M112.6 426.8h0M102.7 412.4h0M107.6 417.8h0M124.0 424.5h0M103.1 420.0h0M106.8 417.7h0M116.7 423.7h0M105.9 425.8h0M117.1 423.8h0M103.6 432.6h0M121.4 411.0h0M116.2 425.7h0M113.1 425.4h0M106.7 416.6h0M135.5 445.4h0M96.8 439.0h0M115.1 419.5h0M116.7 431.3h0M109.8 423.2h0M120.7 410.5h0M96.1 423.3h0M121.9 415.3h0M112.3 414.7h0M108.5 417.7h0M127.2 403.7h0M103.3 406.7h0M111.4 437.9h0M90.9 392.7h0M113.9 417.7h0M107.8 419.2h0M108.5 415.7h0M105.0 419.5h0M103.8 414.9h0M114.3 425.1h0M117.2 429.1h0M111.4 435.9h0M113.1 420.9h0M90.4 429.0h0M112.4 417.6h0M95.0 416.0h0M100.0 417.7h0M111.1 417.9h0M107.3 417.3h0M126.4 409.8h0M113.8 410.7h0M105.9 429.3h0M99.9 418.1h0M98.8 432.0h0M111.6 425.6h0M107.9 428.5h0M97.6 423.9h0M89.9 430.3h0M103.4 414.5h0M120.2 418.5h0M113.5 414.1h0M105.0 427.9h0M103.0 413.8h0M113.6 415.8h0M95.6 416.9h0M122.8 412.1h0M95.5 426.8h0M104.4 413.5h0M126.8 420.0h0M99.0 424.2h0M105.1 444.1h0M112.0 415.8h0M104.5 417.8h0M102.4 425.6h0M125.9 401.3h0M108.5 424.0h0M108.5 428.3h0M117.2 419.8h0M103.2 428.1h0M102.8 412.9h0M106.7 420.6h0M103.9 416.3h0M110.5 429.1h0M102.6 410.5h0M97.0 416.3h0M110.1 424.2h0M104.9 407.3h0M97.8 427.7h0M114.4 426.0h0M116.8 419.4h0M104.4 409.0h0M109.0 416.2h0M98.9 413.0h0M97.3 423.6h0M109.7 431.2h0M109.3 416.5h0M115.0 421.6h0M90.4 418.5h0M96.6 406.4h0M99.3 429.4h0M123.5 414.9h0M113.4 426.2h0M111.3 436.5h0M107.2 413.6h0M97.0 410.6h0M108.0 400.7h0M117.6 402.9h0M96.8 413.3h0M104.6 414.9h0M105.7 434.9h0M104.7 425.1h0M99.9 433.2h0M107.0 420.8h0M98.3 410.5h0M108.5 405.9h0M112.3 420.8h0M82.5 420.5h0M116.5 410.3h0M111.6 434.0h0M107.9 417.6h0M122.2 422.0h0M120.7 410.1h0M107.3 423.5h0M113.4 427.4h0M116.3 416.0h0M105.7 415.7h0M114.9 426.4h0M102.4 422.9h0M105.8 413.2h0M109.4 427.7h0M105.6 410.6h0M124.7 440.9h0M101.4 415.1h0M108.3 419.2h0M106.1 417.0h0M111.5 405.6h0M102.5 432.2h0M105.8 428.9h0M105.9 413.8h0M98.0 422.4h0M110.9 392.2h0M103.5 432.1h0M116.5 424.6h0M101.0 421.7h0M101.4 417.9h0M115.1 429.5h0M94.4 428.7h0M124.2 410.7h0M108.9 427.6h0M108.2 427.0h0M109.3 425.5h0M133.3 430.1h0M107.2 412.0h0M112.1 409.5h0M97.0 413.3h0M110.0 414.9h0M110.2 409.8h0M117.6 420.8h0M107.2 410.5h0M107.3 415.1h0M106.6 405.9h0M114.1 419.5h0M123.0 428.2h0M96.9 411.9h0M112.7 421.9h0M109.9 417.7h0M113.9 430.1h0M97.9 418.5h0M98.6 406.2h0M100.7 427.2h0M120.9 433.2h0M110.8 416.5h0M108.1 422.9h0M104.5 418.0h0M101.2 414.6h0M109.4 419.5h0M112.8 430.3h0M114.8 424.5h0M102.4 427.6h0M127.1 415.7h0M90.1 401.6h0M118.6 426.4h0M109.2 417.2h0M120.9 414.3h0M114.6 416.6h0M115.4 430.6h0M114.7 429.0h0M106.5 423.7h0M114.5 436.8h0M110.8 422.2h0M103.7 422.6h0M94.7 416.4h0M120.3 413.1h0M106.2 425.5h0M102.1 421.8h0M99.9 415.4h0M118.9 407.2h0M92.3 403.9h0M114.1 414.3h0M120.6 403.6h0M111.3 398.7h0M127.9 425.4h0M105.5 413.9h0M108.2 399.5h0M90.8 406.9h0M103.8 407.7h0M120.5 398.3h0M113.6 408.5h0M106.2 412.4h0M110.2 422.9h0M98.2 430.3h0M100.5 404.6h0M106.9 426.6h0M111.7 415.5h0M121.3 408.4h0M101.4 434.0h0M119.2 414.6h0M109.3 413.9h0M111.0 418.0h0M99.3 407.0h0M107.6 412.0h0M104.1 414.9h0M107.3 434.1h0M111.2 413.1h0M112.1 407.3h0M100.4 420.6h0M100.9 409.8h0M121.7 434.4h0M116.5 408.6h0M93.7 410.7h0M97.6 411.0h0M104.7 421.9h0M127.5 409.8h0M106.2 404.2h0M121.1 427.2h0M111.4 411.3h0M107.2 421.4h0M89.0 418.9h0M113.1 409.4h0M119.0 413.6h0M113.1 426.7h0M114.1 407.5h0M111.3 424.4h0M104.1 408.6h0M109.3 425.1h0M120.8 431.8h0M112.3 402.5h0M108.1 415.4h0M120.6 425.5h0M97.7 406.1h0M109.8 409.2h0M93.3 403.2h0M120.1 422.4h0M98.6 416.9h0M103.7 411.0h0M117.6 430.4h0M117.8 415.1h0M119.4 405.4h0M92.4 412.2h0M104.1 426.2h0M99.1 419.4h0M111.0 422.1h0M104.0 414.8h0M100.8 417.5h0M101.7 423.3h0M110.7 417.6h0M109.6 419.8h0M115.6 429.0h0M92.3 430.3h0M111.7 426.8h0M117.9 414.8h0M101.0 427.6h0M124.1 413.9h0M94.2 427.0h0M116.4 417.4h0M98.7 435.5h0M105.8 420.8h0M103.2 432.3h0M111.4 430.3h0M115.9 424.8h0M106.8 415.7h0M103.0 415.7h0M96.6 424.1h0M117.9 419.6h0M85.1 411.2h0M91.1 415.5h0M121.4 406.3h0M103.8 418.2h0M107.9 422.7h0M117.0 423.0h0M105.6 404.8h0M109.3 412.7h0M110.0 420.6h0M101.4 418.7h0M108.1 403.3h0M105.5 425.1h0M91.5 418.4h0M119.3 409.1h0M105.5 405.6h0M121.8 421.1h0M110.3 418.9h0M109.4 426.5h0M109.9 404.6h0M113.1 443.3h0M119.0 420.4h0M110.5 414.8h0M104.1 413.2h0M106.7 418.2h0M108.0 406.6h0M104.0 421.0h0M114.4 425.2h0M102.8 424.6h0M108.9 429.0h0M103.9 431.6h0M107.3 420.1h0M109.2 419.7h0M100.6 424.6h0M104.9 429.9h0M107.5 408.6h0M92.3 408.5h0M115.3 418.9h0M117.3 425.9h0M113.9 407.6h0M109.6 409.5h0M120.8 413.7h0M111.3 414.6h0M111.8 432.8h0M111.3 433.1h0M86.5 411.0h0M98.3 420.7h0M98.7 434.8h0M110.0 422.8h0M129.6 411.6h0M106.3 423.8h0M103.6 422.8h0M96.6 422.3h0M98.3 423.2h0M99.5 429.3h0M102.9 423.0h0M99.5 423.7h0M90.6 388.8h0M101.7 427.8h0M115.4 432.9h0M110.2 408.3h0M108.9 423.6h0M103.3 422.6h0M114.4 411.3h0M123.0 410.4h0M104.9 417.8h0M107.4 410.2h0M120.8 418.8h0M104.2 409.9h0M112.6 420.7h0M103.3 421.6h0M125.1 418.9h0M96.4 423.9h0M122.3 417.5h0M102.5 424.0h0M106.2 427.3h0M111.9 420.9h0M105.1 426.3h0M110.3 413.8h0M112.2 413.6h0M119.8 420.0h0M107.8 425.3h0M103.4 415.2h0M115.5 432.9h0M114.3 401.2h0M107.9 427.9h0M101.8 420.7h0M106.4 429.4h0M116.3 426.3h0M88.9 435.6h0M107.4 420.1h0M97.9 412.9h0M118.1 410.4h0M110.3 426.6h0M106.2 433.3h0M100.0 415.8h0M113.1 404.2h0M104.3 421.9h0M111.8 427.0h0M105.7 424.4h0M119.4 421.7h0M98.1 422.1h0M128.4 413.1h0M102.7 424.4h0M106.9 411.2h0M110.3 431.2h0M111.1 429.6h0M108.5 411.5h0M117.5 418.9h0M118.8 427.3h0M112.1 420.4h0M106.0 396.4h0M106.7 416.0h0M105.8 426.1h0M105.6 410.9h0M115.0 409.0h0M116.3 422.0h0M116.0 433.0h0M120.9 424.2h0M108.5 438.1h0M110.5 420.9h0M106.1 414.1h0M119.5 431.4h0M118.2 405.7h0M115.0 405.3h0M95.6 432.3h0M110.8 437.1h0M123.1 405.1h0M94.5 434.9h0M100.8 416.3h0M113.3 430.0h0M115.0 407.3h0M109.2 419.5h0M121.0 414.0h0M119.5 430.0h0M108.6 416.6h0M119.9 434.9h0M98.8 402.0h0M108.0 424.3h0M105.8 404.5h0M102.3 425.2h0M99.7 428.6h0M110.9 417.8h0M91.1 400.5h0M108.7 422.9h0M114.9 433.1h0M109.0 417.8h0M112.4 432.1h0M106.3 432.2h0M118.3 389.5h0M113.6 435.5h0M109.4 430.7h0M109.1 423.2h0M106.9 420.1h0M96.6 408.3h0M100.5 429.5h0M117.7 422.1h0M115.3 409.1h0M104.4 424.6h0M99.9 403.0h0M91.0 432.8h0M108.1 419.4h0M111.3 432.6h0M97.2 410.2h0M104.9 438.6h0M96.5 406.2h0M108.4 413.4h0M118.7 420.8h0M108.1 432.8h0M92.7 405.6h0M118.2 405.4h0M104.3 414.9h0M124.8 421.6h0M111.8 428.3h0M100.8 428.9h0M112.0 397.0h0M99.5 408.0h0M114.4 422.9h0M120.5 425.6h0M94.3 402.1h0M100.1 419.0h0M92.4 406.7h0M109.8 407.7h0M108.8 419.8h0M93.7 425.0h0M117.2 416.8h0M110.7 420.3h0M112.5 402.7h0M108.1 410.4h0M103.7 405.3h0M105.4 406.9h0M121.9 412.0h0M99.6 425.3h0M119.0 415.4h0M112.6 418.3h0M106.5 420.1h0M114.7 420.9h0M108.6 414.8h0M119.7 430.6h0M100.6 420.2h0M116.3 417.3h0M108.9 435.6h0M111.2 408.2h0M104.4 411.2h0M106.6 420.6h0M110.9 415.9h0M96.9 411.1h0M114.5 418.7h0M107.9 417.0h0M123.0 417.5h0M112.7 414.8h0M115.2 409.5h0M112.4 424.3h0M105.9 416.2h0M113.6 439.2h0M121.2 418.1h0M122.0 408.4h0M110.4 430.5h0M106.3 423.9h0M117.5 416.2h0M116.8 397.2h0M107.9 421.9h0M102.6 409.7h0M106.8 419.9h0M108.7 419.3h0M81.9 415.0h0M113.3 422.6h0M115.9 428.0h0M126.5 417.8h0M142.1 425.0h0M108.6 407.7h0M108.3 430.0h0M124.3 423.7h0M102.0 425.8h0M99.5 406.2h0M123.0 413.2h0M121.5 411.7h0M111.1 408.4h0M116.9 432.5h0M109.1 415.6h0M99.2 405.6h0M119.9 413.8h0M99.8 426.4h0M106.8 421.7h0M98.9 422.6h0M93.8 420.0h0M108.1 424.8h0M99.5 419.7h0M142.4 428.9h0M93.1 405.5h0M118.6 415.4h0M107.7 422.0h0M108.4 425.6h0M99.6 425.0h0M121.4 409.0h0M100.9 411.8h0M124.2 405.0h0M105.5 406.4h0M110.8 425.2h0M118.5 409.7h0M100.9 431.5h0M110.4 420.9h0M90.8 415.3h0M84.9 418.0h0M111.2 423.8h0M107.7 428.1h0M118.9 417.5h0M115.0 433.0h0M126.6 405.0h0M115.6 431.8h0M116.6 409.2h0M111.2 418.9h0M110.1 418.5h0M98.0 417.3h0M111.2 426.3h0M118.7 420.0h0M111.7 413.0h0M108.5 419.4h0M97.1 428.6h0M101.3 435.5h0M121.3 419.1h0M112.9 419.9h0M110.7 400.6h0M107.5 408.0h0M114.3 418.5h0M100.3 423.9h0M119.2 418.4h0M95.7 425.0h0M119.1 423.9h0M128.4 411.9h0M99.7 423.3h0M99.5 421.7h0M108.5 426.3h0M113.7 419.2h0M102.4 412.2h0M114.5 421.2h0M108.2 418.1h0M103.6 427.8h0M104.2 427.1h0M122.5 420.3h0M107.1 422.3h0M98.9 405.5h0M120.6 421.6h0M108.1 430.9h0M112.3 406.1h0M108.0 414.5h0M117.4 412.6h0M107.8 426.8h0M103.1 416.6h0M117.6 422.7h0M113.3 417.0h0M98.4 419.9h0M119.7 406.7h0M108.1 424.1h0M111.0 419.6h0M114.6 432.4h0M102.8 414.3h0M116.5 411.1h0M102.9 439.9h0M118.9 408.1h0M109.7 426.3h0M120.0 426.7h0M101.3 413.5h0M117.2 419.6h0M102.1 423.9h0M111.9 410.3h0M103.5 421.1h0" stroke="#FF8000" stroke-width="2.1" stroke-linecap="round" fill="none"/>
<path d="M116.7 421.1h0M101.7 396.9h0M100.5 404.5h0M107.6 407.2h0M112.3 403.3h0M111.3 433.8h0M106.8 407.8h0M111.1 440.3h0M104.5 405.3h0M121.3 418.7h0M94.4 411.1h0M120.0 403.8h0M100.6 432.6h0M103.7 404.1h0M107.7 430.9h0M91.4 431.0h0M111.1 423.7h0M115.1 417.7h0M89.3 418.3h0M115.2 442.6h0M103.0 406.6h0M117.2 405.9h0M104.9 411.0h0M101.8 414.7h0M107.4 401.1h0M100.4 425.1h0M108.2 407.5h0M102.9 427.4h0M112.7 393.4h0M118.7 428.4h0M104.5 424.5h0M113.0 445.4h0M104.9 385.7h0M110.1 419.9h0M81.3 416.7h0M115.3 421.4h0M106.3 412.6h0M104.4 426.0h0M119.0 419.0h0M101.2 417.0h0" stroke="#1010F0" stroke-width="1.6" stroke-linecap="round" fill="none"/>
<path d="M97.2 417.6h0M118.2 416.4h0M116.4 398.9h0M132.2 423.1h0M100.9 417.0h0M96.4 418.8h0M99.9 434.2h0M116.7 424.0h0M103.9 409.2h0M100.4 433.8h0M95.5 420.9h0M104.4 419.0h0M114.0 427.9h0M116.7 420.7h0M100.9 408.6h0M103.2 423.1h0M117.1 421.5h0M117.6 419.7h0M99.8 409.5h0M122.1 423.1h0M110.7 415.9h0M113.1 421.5h0M103.2 418.9h0M103.2 411.7h0M109.7 407.3h0M116.0 414.8h0M117.9 407.6h0M99.7 439.7h0M123.4 422.0h0M123.8 424.9h0" stroke="#E02000" stroke-width="1.6" stroke-linecap="round" fill="none"/>
<path d="M105.1 418.8h7M108.6 415.3v7" stroke="#F02020" stroke-width="0.7"/>
<path d="M51.5 424.5h0" stroke="#2020E0" stroke-width="2.0" stroke-linecap="round" fill="none"/>
</g>
<text x="106.3" y="244.0" font-size="18.3" text-anchor="middle" font-weight="normal" fill="#000" >Re-projection Error</text>
<text x="108.7" y="518.6" font-size="18.3" text-anchor="middle" font-weight="normal" fill="#000" >Re-projection Error</text>
<rect x="233" y="59" width="149.5" height="50.5" fill="none" stroke="#1a1a1a" stroke-width="0.9" stroke-dasharray="3.2 2"/>
<rect x="250.7" y="64.8" width="46.5" height="18.2" rx="0" fill="#FFFF80" />
<rect x="318.7" y="64.8" width="46.3" height="18.2" rx="0" fill="#FF80C0" />
<text x="254.3" y="100.5" font-size="18.3">3σ<tspan font-size="12" dy="5.4">PMD</tspan></text>
<text x="325.8" y="100.5" font-size="18.3">σ<tspan font-size="12" dy="5.4">PMD</tspan></text>
<rect x="213.5" y="334.8" width="191.7" height="57.2" fill="none" stroke="#1a1a1a" stroke-width="0.9" stroke-dasharray="3.2 2"/>
<path d="M217.7 343.2h9l-4.5 10z" fill="#000"/>
<text x="228.0" y="353.5" font-size="18.4" text-anchor="start" font-weight="normal" fill="#000" >Calibration Part</text>
<circle cx="352.9" cy="348" r="5.2" fill="#FF0000"/>
<text x="361.0" y="353.5" font-size="18.3" text-anchor="start" font-weight="normal" fill="#000" >SUT1</text>
<circle cx="221.5" cy="376.2" r="5.6" fill="#80FFC0"/>
<text x="230.8" y="381.9" font-size="18.3" text-anchor="start" font-weight="normal" fill="#000" >SUT2</text>
<circle cx="286.5" cy="375.4" r="5.6" fill="#0000FF"/>
<text x="296.2" y="381.9" font-size="18.3" text-anchor="start" font-weight="normal" fill="#000" >SUT3</text>
<circle cx="352.9" cy="376" r="5.4" fill="#FF8C1A"/>
<text x="360.0" y="381.9" font-size="18.3" text-anchor="start" font-weight="normal" fill="#000" >SUT4</text>
<rect x="212.0" y="125.8" width="188.2" height="96.2" rx="8" fill="#fff" />
<path d="M216 188.5H397" stroke="#666" stroke-width="0.8" stroke-dasharray="1.6 2.9"/>
<path d="M211.8 186.9h6.6l-3.3 5.6zM216.8 188.3h6.6l-3.3 5.6zM221.8 188.3h6.6l-3.3 5.6zM226.9 195.0h6.6l-3.3 5.6zM231.9 189.7h6.6l-3.3 5.6zM236.9 196.0h6.6l-3.3 5.6zM241.9 195.0h6.6l-3.3 5.6zM246.9 191.7h6.6l-3.3 5.6zM252.0 197.0h6.6l-3.3 5.6zM257.0 188.9h6.6l-3.3 5.6zM262.0 187.9h6.6l-3.3 5.6zM267.0 191.7h6.6l-3.3 5.6zM272.0 192.4h6.6l-3.3 5.6zM277.1 197.0h6.6l-3.3 5.6zM282.1 197.4h6.6l-3.3 5.6zM287.1 200.4h6.6l-3.3 5.6zM292.1 201.4h6.6l-3.3 5.6zM297.1 205.4h6.6l-3.3 5.6zM302.2 208.0h6.6l-3.3 5.6zM307.2 208.8h6.6l-3.3 5.6zM312.2 209.9h6.6l-3.3 5.6zM317.2 205.0h6.6l-3.3 5.6zM322.2 196.8h6.6l-3.3 5.6zM327.3 173.7h6.6l-3.3 5.6zM332.3 154.2h6.6l-3.3 5.6zM337.3 135.0h6.6l-3.3 5.6zM342.3 132.6h6.6l-3.3 5.6zM347.3 130.2h6.6l-3.3 5.6zM352.4 143.3h6.6l-3.3 5.6zM357.4 165.0h6.6l-3.3 5.6zM362.4 185.7h6.6l-3.3 5.6zM367.4 199.4h6.6l-3.3 5.6zM372.4 197.4h6.6l-3.3 5.6zM377.5 197.0h6.6l-3.3 5.6zM382.5 197.0h6.6l-3.3 5.6zM387.5 203.0h6.6l-3.3 5.6zM392.5 199.4h6.6l-3.3 5.6z" fill="#000"/>
<text x="305.0" y="244.2" font-size="18.3" text-anchor="middle" font-weight="normal" fill="#000" >CCS Error</text>
<rect x="218.0" y="399.4" width="186.2" height="101.0" rx="8" fill="#fff" />
<path d="M221 461.2H400" stroke="#666" stroke-width="0.8" stroke-dasharray="1.6 2.9"/>
<path d="M217.8 459.7h6.6l-3.3 5.6zM222.7 461.1h6.6l-3.3 5.6zM227.7 461.1h6.6l-3.3 5.6zM232.6 467.8h6.6l-3.3 5.6zM237.5 462.5h6.6l-3.3 5.6zM242.4 468.8h6.6l-3.3 5.6zM247.4 467.8h6.6l-3.3 5.6zM252.3 464.5h6.6l-3.3 5.6zM257.2 469.8h6.6l-3.3 5.6zM262.2 461.7h6.6l-3.3 5.6zM267.1 460.7h6.6l-3.3 5.6zM272.0 464.5h6.6l-3.3 5.6zM277.0 465.2h6.6l-3.3 5.6zM281.9 469.8h6.6l-3.3 5.6zM286.8 470.2h6.6l-3.3 5.6zM291.7 473.2h6.6l-3.3 5.6zM296.7 474.2h6.6l-3.3 5.6zM301.6 478.2h6.6l-3.3 5.6zM306.5 480.8h6.6l-3.3 5.6zM311.5 481.6h6.6l-3.3 5.6zM316.4 482.7h6.6l-3.3 5.6zM321.3 477.8h6.6l-3.3 5.6zM326.3 469.6h6.6l-3.3 5.6zM331.2 446.5h6.6l-3.3 5.6zM336.1 427.0h6.6l-3.3 5.6zM341.1 407.8h6.6l-3.3 5.6zM346.0 405.4h6.6l-3.3 5.6zM350.9 403.0h6.6l-3.3 5.6zM355.8 416.1h6.6l-3.3 5.6zM360.8 437.8h6.6l-3.3 5.6zM365.7 458.5h6.6l-3.3 5.6zM370.6 472.2h6.6l-3.3 5.6zM375.6 470.2h6.6l-3.3 5.6zM380.5 469.8h6.6l-3.3 5.6zM385.4 469.8h6.6l-3.3 5.6zM390.3 475.8h6.6l-3.3 5.6zM395.3 472.2h6.6l-3.3 5.6z" fill="#000"/>
<circle cx="245.9" cy="403.4" r="3" fill="#FF0000"/>
<circle cx="270.4" cy="426.5" r="3" fill="#FF0000"/>
<circle cx="250.3" cy="467.2" r="3" fill="#FF0000"/>
<circle cx="255.7" cy="482.9" r="3" fill="#FF0000"/>
<circle cx="260.4" cy="492" r="3" fill="#FF0000"/>
<circle cx="265.4" cy="495.4" r="3" fill="#FF0000"/>
<circle cx="275.5" cy="403.4" r="3" fill="#00FFFF"/>
<circle cx="280.1" cy="452.1" r="3" fill="#00FFFF"/>
<circle cx="300" cy="467.6" r="3" fill="#00FFFF"/>
<circle cx="285.1" cy="476.3" r="3" fill="#00FFFF"/>
<circle cx="290.1" cy="480.3" r="3" fill="#00FFFF"/>
<circle cx="295" cy="482.7" r="3" fill="#00FFFF"/>
<circle cx="309.9" cy="470.9" r="3" fill="#0000FF"/>
<circle cx="314.7" cy="478.9" r="3" fill="#0000FF"/>
<circle cx="319.9" cy="482.9" r="3" fill="#0000FF"/>
<circle cx="324.7" cy="485.7" r="3" fill="#0000FF"/>
<circle cx="329.8" cy="472.3" r="3" fill="#0000FF"/>
<circle cx="359.4" cy="412.4" r="3" fill="#FF8C1A"/>
<circle cx="334.4" cy="436.6" r="3" fill="#FF8C1A"/>
<circle cx="354.3" cy="467.2" r="3" fill="#FF8C1A"/>
<circle cx="339.4" cy="481.7" r="3" fill="#FF8C1A"/>
<circle cx="344.3" cy="482.9" r="3" fill="#FF8C1A"/>
<circle cx="349.3" cy="487.8" r="3" fill="#FF8C1A"/>
<text x="307.5" y="519.2" font-size="18.3" text-anchor="middle" font-weight="normal" fill="#000" >CCS Error</text>
<filter id="nz" x="0" y="0" width="1" height="1" color-interpolation-filters="sRGB">
<feTurbulence type="fractalNoise" baseFrequency="0.95 0.8" numOctaves="2" seed="3" result="t"/>
<feColorMatrix in="t" type="matrix" values="0.86 0 0 0 0.075  0.86 0 0 0 0.075  0.86 0 0 0 0.075  0 0 0 0 1"/>
<feComponentTransfer><feFuncR type="table" tableValues="0.089 0.062 0.069 0.075 0.071 0.059 0.046 0.033 0.032 0.069 0.105 0.141 0.178 0.255 0.336 0.417 0.498 0.571 0.638 0.705 0.773 0.838 0.899 0.961"/><feFuncG type="table" tableValues="0.322 0.382 0.433 0.483 0.523 0.555 0.587 0.619 0.647 0.665 0.682 0.699 0.716 0.724 0.732 0.739 0.746 0.747 0.743 0.740 0.736 0.739 0.756 0.774"/><feFuncB type="table" tableValues="0.799 0.863 0.853 0.844 0.833 0.822 0.811 0.800 0.784 0.749 0.715 0.680 0.646 0.605 0.564 0.523 0.483 0.450 0.423 0.395 0.368 0.333 0.280 0.227"/></feComponentTransfer>
</filter>
<clipPath id="nc1"><rect x="460.3" y="65.4" width="77.9" height="56.4"/></clipPath><clipPath id="nc2"><rect x="557" y="65.4" width="77.8" height="56.4"/></clipPath>
<g clip-path="url(#nc1)"><rect x="458" y="63" width="82" height="61" fill="#2EB7A4" filter="url(#nz)"/></g>
<g clip-path="url(#nc2)"><rect x="555" y="63" width="82" height="61" fill="#2EB7A4" filter="url(#nz)"/></g>
<clipPath id="frc"><rect x="654.4" y="65.5" width="78.8" height="56.2"/></clipPath>
<g clip-path="url(#frc)"><g><g shape-rendering="crispEdges">
<rect x="654" y="65" width="80" height="57" fill="#0F5EDD"/>
<path d="M653 60.0L654.6 60.0L656.2 60.0L657.8 60.0L659.4 60.0L661 60.0L662.6 60.0L664.2 60.0L665.8 60.0L667.4 60.0L669 60.0L670.6 60.0L672 60.0L675.2 60.0L678.4 61.1L681.6 62.4L684.8 63.5L688 64.4L691.2 65.0L694.4 65.3L697.6 65.4L700.8 65.2L704 64.7L707.2 64.1L710.4 63.1L713.6 61.9L716.8 60.4L720 60.0L723 60.0L725 60.0L727 60.0L729 60.0L731 60.0L733 60.0L735 60.0V126H653z" fill="#11A9C0"/>
<path d="M653 60.0L654.6 60.0L656.2 60.0L657.8 60.0L659.4 60.0L661 60.0L662.6 60.0L664.2 60.0L665.8 60.0L667.4 60.0L669 60.0L670.6 60.0L672 60.0L675.2 60.8L678.4 62.4L681.6 63.8L684.8 64.9L688 65.7L691.2 66.3L694.4 66.6L697.6 66.7L700.8 66.5L704 66.1L707.2 65.4L710.4 64.4L713.6 63.2L716.8 61.8L720 60.0L723 60.0L725 60.0L727 60.0L729 60.0L731 60.0L733 60.0L735 60.0V126H653z" fill="#8FBF74"/>
<path d="M653 60.0L654.6 60.0L656.2 60.0L657.8 60.0L659.4 60.0L661 60.0L662.6 60.0L664.2 60.0L665.8 60.0L667.4 60.0L669 60.0L670.6 60.0L672 60.2L675.2 62.2L678.4 63.8L681.6 65.1L684.8 66.2L688 67.1L691.2 67.7L694.4 68.0L697.6 68.1L700.8 67.9L704 67.4L707.2 66.7L710.4 65.8L713.6 64.6L716.8 63.1L720 61.4L723 60.0L725 60.0L727 60.0L729 60.0L731 60.0L733 60.0L735 60.0V126H653z" fill="#E2C04B"/>
<path d="M653 60.0L654.6 60.0L656.2 60.0L657.8 60.0L659.4 60.0L661 60.0L662.6 60.0L664.2 60.0L665.8 60.0L667.4 60.0L669 60.0L670.6 60.7L672 61.6L675.2 63.5L678.4 65.1L681.6 66.5L684.8 67.6L688 68.4L691.2 69.0L694.4 69.3L697.6 69.4L700.8 69.2L704 68.8L707.2 68.1L710.4 67.1L713.6 65.9L716.8 64.4L720 62.7L723 60.8L725 60.0L727 60.0L729 60.0L731 60.0L733 60.0L735 60.0V126H653z" fill="#E2C04B"/>
<path d="M653 60.0L654.6 60.0L656.2 60.0L657.8 60.0L659.4 60.0L661 60.0L662.6 60.0L664.2 60.0L665.8 60.0L667.4 60.0L669 60.9L670.6 62.0L672 63.0L675.2 64.9L678.4 66.5L681.6 67.8L684.8 68.9L688 69.7L691.2 70.3L694.4 70.7L697.6 70.7L700.8 70.5L704 70.1L707.2 69.4L710.4 68.5L713.6 67.3L716.8 65.8L720 64.1L723 62.2L725 60.8L727 60.0L729 60.0L731 60.0L733 60.0L735 60.0V126H653z" fill="#8FBF74"/>
<path d="M653 60.0L654.6 60.0L656.2 60.0L657.8 60.0L659.4 60.0L661 60.0L662.6 60.0L664.2 60.0L665.8 60.0L667.4 61.1L669 62.3L670.6 63.4L672 64.3L675.2 66.2L678.4 67.8L681.6 69.2L684.8 70.2L688 71.1L691.2 71.7L694.4 72.0L697.6 72.1L700.8 71.9L704 71.4L707.2 70.8L710.4 69.8L713.6 68.6L716.8 67.1L720 65.4L723 63.5L725 62.2L727 60.6L729 60.0L731 60.0L733 60.0L735 60.0V126H653z" fill="#11A9C0"/>
<path d="M653 60.0L654.6 60.0L656.2 60.0L657.8 60.0L659.4 60.0L661 60.0L662.6 60.0L664.2 60.0L665.8 61.2L667.4 62.5L669 63.7L670.6 64.8L672 65.7L675.2 67.5L678.4 69.1L681.6 70.5L684.8 71.6L688 72.4L691.2 73.0L694.4 73.3L697.6 73.4L700.8 73.2L704 72.8L707.2 72.1L710.4 71.1L713.6 69.9L716.8 68.5L720 66.8L723 64.9L725 63.5L727 62.0L729 60.3L731 60.0L733 60.0L735 60.0V126H653z" fill="#1061DC"/>
<path d="M653 60.0L654.6 60.0L656.2 60.0L657.8 60.0L659.4 60.0L661 60.0L662.6 60.0L664.2 61.2L665.8 62.6L667.4 63.9L669 65.0L670.6 66.1L672 67.0L675.2 68.9L678.4 70.5L681.6 71.8L684.8 72.9L688 73.8L691.2 74.4L694.4 74.7L697.6 74.8L700.8 74.6L704 74.1L707.2 73.4L710.4 72.5L713.6 71.3L716.8 69.8L720 68.1L723 66.3L725 64.9L727 63.4L729 61.8L731 60.0L733 60.0L735 60.0V126H653z" fill="#352A87"/>
<path d="M653 60.0L654.6 60.0L656.2 60.0L657.8 60.0L659.4 60.0L661 60.0L662.6 61.2L664.2 62.6L665.8 64.0L667.4 65.2L669 66.4L670.6 67.5L672 68.4L675.2 70.2L678.4 71.8L681.6 73.2L684.8 74.3L688 75.1L691.2 75.7L694.4 76.0L697.6 76.1L700.8 75.9L704 75.5L707.2 74.8L710.4 73.8L713.6 72.6L716.8 71.1L720 69.4L723 67.6L725 66.2L727 64.8L729 63.2L731 61.4L733 60.0L735 60.0V126H653z" fill="#352A87"/>
<path d="M653 60.0L654.6 60.0L656.2 60.0L657.8 60.0L659.4 60.0L661 61.1L662.6 62.6L664.2 64.0L665.8 65.4L667.4 66.6L669 67.7L670.6 68.8L672 69.7L675.2 71.5L678.4 73.1L681.6 74.5L684.8 75.6L688 76.4L691.2 77.0L694.4 77.4L697.6 77.4L700.8 77.2L704 76.8L707.2 76.1L710.4 75.2L713.6 73.9L716.8 72.5L720 70.8L723 68.9L725 67.6L727 66.1L729 64.5L731 62.8L733 60.9L735 60.0V126H653z" fill="#1061DC"/>
<path d="M653 60.0L654.6 60.0L656.2 60.0L657.8 60.0L659.4 60.9L661 62.5L662.6 64.0L664.2 65.4L665.8 66.7L667.4 67.9L669 69.1L670.6 70.1L672 71.0L675.2 72.9L678.4 74.5L681.6 75.8L684.8 76.9L688 77.8L691.2 78.4L694.4 78.7L697.6 78.8L700.8 78.6L704 78.1L707.2 77.5L710.4 76.5L713.6 75.3L716.8 73.8L720 72.1L723 70.3L725 68.9L727 67.5L729 65.9L731 64.2L733 62.3L735 60.2V126H653z" fill="#11A9C0"/>
<path d="M653 60.0L654.6 60.0L656.2 60.0L657.8 60.6L659.4 62.4L661 64.0L662.6 65.4L664.2 66.8L665.8 68.0L667.4 69.2L669 70.4L670.6 71.4L672 72.3L675.2 74.2L678.4 75.8L681.6 77.2L684.8 78.3L688 79.1L691.2 79.7L694.4 80.0L697.6 80.1L700.8 79.9L704 79.5L707.2 78.8L710.4 77.8L713.6 76.6L716.8 75.1L720 73.4L723 71.6L725 70.2L727 68.8L729 67.3L731 65.6L733 63.8L735 61.7V126H653z" fill="#8FBF74"/>
<path d="M653 60.0L654.6 60.0L656.2 60.1L657.8 62.1L659.4 63.8L661 65.4L662.6 66.8L664.2 68.1L665.8 69.4L667.4 70.6L669 71.7L670.6 72.7L672 73.6L675.2 75.5L678.4 77.1L681.6 78.5L684.8 79.6L688 80.5L691.2 81.1L694.4 81.4L697.6 81.5L700.8 81.3L704 80.8L707.2 80.1L710.4 79.2L713.6 77.9L716.8 76.4L720 74.7L723 72.9L725 71.5L727 70.1L729 68.6L731 67.0L733 65.2L735 63.2V126H653z" fill="#E2C04B"/>
<path d="M653 60.0L654.6 60.0L656.2 61.7L657.8 63.6L659.4 65.2L661 66.7L662.6 68.1L664.2 69.4L665.8 70.7L667.4 71.9L669 73.0L670.6 74.0L672 74.9L675.2 76.8L678.4 78.5L681.6 79.8L684.8 81.0L688 81.8L691.2 82.4L694.4 82.7L697.6 82.8L700.8 82.6L704 82.2L707.2 81.5L710.4 80.5L713.6 79.3L716.8 77.8L720 76.0L723 74.2L725 72.8L727 71.4L729 69.9L731 68.3L733 66.5L735 64.6V126H653z" fill="#E2C04B"/>
<path d="M653 60.0L654.6 61.3L656.2 63.3L657.8 65.0L659.4 66.6L661 68.0L662.6 69.4L664.2 70.7L665.8 72.0L667.4 73.1L669 74.3L670.6 75.3L672 76.2L675.2 78.1L678.4 79.8L681.6 81.2L684.8 82.3L688 83.1L691.2 83.7L694.4 84.1L697.6 84.1L700.8 84.0L704 83.5L707.2 82.8L710.4 81.8L713.6 80.6L716.8 79.1L720 77.3L723 75.5L725 74.1L727 72.7L729 71.2L731 69.6L733 67.9L735 66.0V126H653z" fill="#8FBF74"/>
<path d="M653 60.7L654.6 62.9L656.2 64.7L657.8 66.4L659.4 67.9L661 69.4L662.6 70.7L664.2 72.0L665.8 73.2L667.4 74.4L669 75.5L670.6 76.6L672 77.5L675.2 79.4L678.4 81.1L681.6 82.5L684.8 83.6L688 84.5L691.2 85.1L694.4 85.4L697.6 85.5L700.8 85.3L704 84.8L707.2 84.1L710.4 83.2L713.6 81.9L716.8 80.4L720 78.6L723 76.8L725 75.4L727 74.0L729 72.5L731 70.9L733 69.2L735 67.4V126H653z" fill="#11A9C0"/>
<path d="M653 62.4L654.6 64.4L656.2 66.1L657.8 67.7L659.4 69.2L661 70.6L662.6 72.0L664.2 73.3L665.8 74.5L667.4 75.7L669 76.8L670.6 77.9L672 78.8L675.2 80.7L678.4 82.4L681.6 83.8L684.8 85.0L688 85.8L691.2 86.4L694.4 86.7L697.6 86.8L700.8 86.6L704 86.2L707.2 85.5L710.4 84.5L713.6 83.2L716.8 81.7L720 79.9L723 78.0L725 76.7L727 75.2L729 73.7L731 72.1L733 70.5L735 68.7V126H653z" fill="#1061DC"/>
<path d="M653 63.9L654.6 65.8L656.2 67.5L657.8 69.0L659.4 70.5L661 71.9L662.6 73.2L664.2 74.5L665.8 75.7L667.4 76.9L669 78.1L670.6 79.2L672 80.1L675.2 82.0L678.4 83.7L681.6 85.2L684.8 86.3L688 87.2L691.2 87.8L694.4 88.1L697.6 88.2L700.8 88.0L704 87.5L707.2 86.8L710.4 85.8L713.6 84.6L716.8 83.0L720 81.2L723 79.3L725 77.9L727 76.5L729 75.0L731 73.4L733 71.7L735 70.0V126H653z" fill="#352A87"/>
<path d="M653 65.4L654.6 67.2L656.2 68.8L657.8 70.3L659.4 71.7L661 73.1L662.6 74.4L664.2 75.7L665.8 77.0L667.4 78.2L669 79.3L670.6 80.4L672 81.4L675.2 83.3L678.4 85.0L681.6 86.5L684.8 87.6L688 88.5L691.2 89.1L694.4 89.4L697.6 89.5L700.8 89.3L704 88.9L707.2 88.2L710.4 87.2L713.6 85.9L716.8 84.3L720 82.5L723 80.6L725 79.2L727 77.7L729 76.2L731 74.6L733 72.9L735 71.2V126H653z" fill="#352A87"/>
<path d="M653 66.8L654.6 68.5L656.2 70.0L657.8 71.5L659.4 72.9L661 74.3L662.6 75.6L664.2 76.9L665.8 78.2L667.4 79.4L669 80.6L670.6 81.7L672 82.6L675.2 84.6L678.4 86.4L681.6 87.8L684.8 89.0L688 89.8L691.2 90.4L694.4 90.8L697.6 90.8L700.8 90.7L704 90.2L707.2 89.5L710.4 88.5L713.6 87.2L716.8 85.6L720 83.8L723 81.8L725 80.4L727 78.9L729 77.4L731 75.8L733 74.1L735 72.4V126H653z" fill="#1061DC"/>
<path d="M653 68.1L654.6 69.7L656.2 71.3L657.8 72.7L659.4 74.1L661 75.5L662.6 76.8L664.2 78.1L665.8 79.4L667.4 80.6L669 81.8L670.6 82.9L672 83.9L675.2 85.9L678.4 87.7L681.6 89.1L684.8 90.3L688 91.2L691.2 91.8L694.4 92.1L697.6 92.2L700.8 92.0L704 91.5L707.2 90.8L710.4 89.8L713.6 88.5L716.8 86.9L720 85.1L723 83.1L725 81.7L727 80.2L729 78.6L731 77.0L733 75.3L735 73.6V126H653z" fill="#11A9C0"/>
<path d="M653 69.4L654.6 70.9L656.2 72.4L657.8 73.9L659.4 75.3L661 76.7L662.6 78.0L664.2 79.3L665.8 80.6L667.4 81.8L669 83.0L670.6 84.2L672 85.1L675.2 87.2L678.4 89.0L681.6 90.5L684.8 91.6L688 92.5L691.2 93.1L694.4 93.4L697.6 93.5L700.8 93.3L704 92.9L707.2 92.2L710.4 91.2L713.6 89.8L716.8 88.2L720 86.3L723 84.3L725 82.9L727 81.4L729 79.8L731 78.2L733 76.5L735 74.8V126H653z" fill="#8FBF74"/>
<path d="M653 70.6L654.6 72.1L656.2 73.6L657.8 75.0L659.4 76.4L661 77.8L662.6 79.2L664.2 80.5L665.8 81.8L667.4 83.0L669 84.2L670.6 85.4L672 86.4L675.2 88.5L678.4 90.3L681.6 91.8L684.8 93.0L688 93.9L691.2 94.5L694.4 94.8L697.6 94.9L700.8 94.7L704 94.2L707.2 93.5L710.4 92.5L713.6 91.2L716.8 89.5L720 87.6L723 85.6L725 84.1L727 82.6L729 81.0L731 79.3L733 77.6L735 75.9V126H653z" fill="#E2C04B"/>
<path d="M653 71.7L654.6 73.2L656.2 74.7L657.8 76.1L659.4 77.5L661 78.9L662.6 80.3L664.2 81.6L665.8 82.9L667.4 84.2L669 85.4L670.6 86.6L672 87.6L675.2 89.7L678.4 91.6L681.6 93.1L684.8 94.3L688 95.2L691.2 95.8L694.4 96.1L697.6 96.2L700.8 96.0L704 95.6L707.2 94.8L710.4 93.8L713.6 92.5L716.8 90.8L720 88.9L723 86.8L725 85.3L727 83.7L729 82.1L731 80.5L733 78.8L735 77.0V126H653z" fill="#E2C04B"/>
<path d="M653 72.9L654.6 74.3L656.2 75.8L657.8 77.2L659.4 78.6L661 80.0L662.6 81.4L664.2 82.8L665.8 84.1L667.4 85.4L669 86.7L670.6 87.9L672 88.9L675.2 91.0L678.4 92.9L681.6 94.4L684.8 95.6L688 96.5L691.2 97.1L694.4 97.5L697.6 97.5L700.8 97.4L704 96.9L707.2 96.2L710.4 95.1L713.6 93.8L716.8 92.1L720 90.1L723 88.0L725 86.5L727 84.9L729 83.3L731 81.6L733 79.9L735 78.1V126H653z" fill="#8FBF74"/>
<path d="M653 73.9L654.6 75.4L656.2 76.9L657.8 78.3L659.4 79.7L661 81.1L662.6 82.5L664.2 83.9L665.8 85.2L667.4 86.6L669 87.8L670.6 89.1L672 90.1L675.2 92.3L678.4 94.2L681.6 95.7L684.8 97.0L688 97.9L691.2 98.5L694.4 98.8L697.6 98.9L700.8 98.7L704 98.2L707.2 97.5L710.4 96.5L713.6 95.1L716.8 93.4L720 91.4L723 89.2L725 87.7L727 86.1L729 84.4L731 82.7L733 81.0L735 79.2V126H653z" fill="#11A9C0"/>
<path d="M653 75.0L654.6 76.5L656.2 77.9L657.8 79.3L659.4 80.8L661 82.2L662.6 83.6L664.2 85.0L665.8 86.4L667.4 87.7L669 89.0L670.6 90.3L672 91.3L675.2 93.6L678.4 95.5L681.6 97.1L684.8 98.3L688 99.2L691.2 99.8L694.4 100.1L697.6 100.2L700.8 100.0L704 99.6L707.2 98.8L710.4 97.8L713.6 96.4L716.8 94.7L720 92.6L723 90.4L725 88.9L727 87.2L729 85.5L731 83.8L733 82.0L735 80.2V126H653z" fill="#1061DC"/>
<path d="M653 76.0L654.6 77.5L656.2 78.9L657.8 80.4L659.4 81.8L661 83.3L662.6 84.7L664.2 86.1L665.8 87.5L667.4 88.9L669 90.2L670.6 91.5L672 92.6L675.2 94.8L678.4 96.8L681.6 98.4L684.8 99.6L688 100.5L691.2 101.2L694.4 101.5L697.6 101.6L700.8 101.4L704 100.9L707.2 100.2L710.4 99.1L713.6 97.7L716.8 96.0L720 93.9L723 91.6L725 90.0L727 88.4L729 86.6L731 84.9L733 83.1L735 81.3V126H653z" fill="#352A87"/>
<path d="M653 77.0L654.6 78.5L656.2 79.9L657.8 81.4L659.4 82.8L661 84.3L662.6 85.8L664.2 87.2L665.8 88.6L667.4 90.0L669 91.4L670.6 92.7L672 93.8L675.2 96.1L678.4 98.1L681.6 99.7L684.8 101.0L688 101.9L691.2 102.5L694.4 102.8L697.6 102.9L700.8 102.7L704 102.3L707.2 101.5L710.4 100.4L713.6 99.0L716.8 97.2L720 95.1L723 92.8L725 91.2L727 89.5L729 87.7L731 85.9L733 84.1L735 82.3V126H653z" fill="#352A87"/>
<path d="M653 77.9L654.6 79.4L656.2 80.9L657.8 82.4L659.4 83.9L661 85.3L662.6 86.8L664.2 88.3L665.8 89.7L667.4 91.2L669 92.5L670.6 93.9L672 95.0L675.2 97.3L678.4 99.4L681.6 101.0L684.8 102.3L688 103.2L691.2 103.8L694.4 104.2L697.6 104.2L700.8 104.1L704 103.6L707.2 102.9L710.4 101.8L713.6 100.3L716.8 98.5L720 96.4L723 94.0L725 92.4L727 90.6L729 88.8L731 87.0L733 85.2L735 83.3V126H653z" fill="#1061DC"/>
<path d="M653 78.9L654.6 80.4L656.2 81.9L657.8 83.4L659.4 84.9L661 86.4L662.6 87.9L664.2 89.4L665.8 90.8L667.4 92.3L669 93.7L670.6 95.1L672 96.2L675.2 98.6L678.4 100.6L681.6 102.3L684.8 103.6L688 104.6L691.2 105.2L694.4 105.5L697.6 105.6L700.8 105.4L704 104.9L707.2 104.2L710.4 103.1L713.6 101.6L716.8 99.8L720 97.6L723 95.2L725 93.5L727 91.7L729 89.9L731 88.0L733 86.2L735 84.3V126H653z" fill="#11A9C0"/>
<path d="M653 79.8L654.6 81.3L656.2 82.8L657.8 84.3L659.4 85.8L661 87.4L662.6 88.9L664.2 90.4L665.8 91.9L667.4 93.4L669 94.8L670.6 96.2L672 97.4L675.2 99.8L678.4 101.9L681.6 103.6L684.8 104.9L688 105.9L691.2 106.5L694.4 106.9L697.6 106.9L700.8 106.7L704 106.3L707.2 105.5L710.4 104.4L713.6 102.9L716.8 101.1L720 98.8L723 96.4L725 94.7L727 92.9L729 91.0L731 89.1L733 87.2L735 85.3V126H653z" fill="#8FBF74"/>
<path d="M653 80.7L654.6 82.2L656.2 83.7L657.8 85.3L659.4 86.8L661 88.4L662.6 89.9L664.2 91.5L665.8 93.0L667.4 94.5L669 96.0L670.6 97.4L672 98.6L675.2 101.1L678.4 103.2L681.6 105.0L684.8 106.3L688 107.2L691.2 107.9L694.4 108.2L697.6 108.3L700.8 108.1L704 107.6L707.2 106.9L710.4 105.7L713.6 104.2L716.8 102.3L720 100.0L723 97.6L725 95.8L727 94.0L729 92.0L731 90.1L733 88.2L735 86.2V126H653z" fill="#E2C04B"/>
<path d="M653 81.6L654.6 83.1L656.2 84.6L657.8 86.2L659.4 87.8L661 89.3L662.6 90.9L664.2 92.5L665.8 94.1L667.4 95.6L669 97.1L670.6 98.6L672 99.8L675.2 102.3L678.4 104.5L681.6 106.3L684.8 107.6L688 108.6L691.2 109.2L694.4 109.5L697.6 109.6L700.8 109.4L704 109.0L707.2 108.2L710.4 107.1L713.6 105.5L716.8 103.6L720 101.3L723 98.7L725 96.9L727 95.0L729 93.1L731 91.1L733 89.1L735 87.2V126H653z" fill="#E2C04B"/>
<path d="M653 82.4L654.6 84.0L656.2 85.5L657.8 87.1L659.4 88.7L661 90.3L662.6 91.9L664.2 93.5L665.8 95.1L667.4 96.7L669 98.2L670.6 99.7L672 101.0L675.2 103.6L678.4 105.8L681.6 107.6L684.8 108.9L688 109.9L691.2 110.5L694.4 110.9L697.6 110.9L700.8 110.8L704 110.3L707.2 109.5L710.4 108.4L713.6 106.8L716.8 104.9L720 102.5L723 99.9L725 98.1L727 96.1L729 94.1L731 92.1L733 90.1L735 88.1V126H653z" fill="#8FBF74"/>
<path d="M653 83.3L654.6 84.8L656.2 86.4L657.8 88.0L659.4 89.6L661 91.3L662.6 92.9L664.2 94.6L665.8 96.2L667.4 97.8L669 99.4L670.6 100.9L672 102.2L675.2 104.8L678.4 107.1L681.6 108.9L684.8 110.3L688 111.2L691.2 111.9L694.4 112.2L697.6 112.3L700.8 112.1L704 111.6L707.2 110.9L710.4 109.7L713.6 108.1L716.8 106.1L720 103.7L723 101.1L725 99.2L727 97.2L729 95.2L731 93.1L733 91.1L735 89.0V126H653z" fill="#11A9C0"/>
<path d="M653 84.1L654.6 85.7L656.2 87.3L657.8 88.9L659.4 90.5L661 92.2L662.6 93.9L664.2 95.6L665.8 97.2L667.4 98.9L669 100.5L670.6 102.0L672 103.3L675.2 106.0L678.4 108.3L681.6 110.2L684.8 111.6L688 112.6L691.2 113.2L694.4 113.6L697.6 113.6L700.8 113.4L704 113.0L707.2 112.2L710.4 111.0L713.6 109.4L716.8 107.4L720 104.9L723 102.2L725 100.3L727 98.3L729 96.2L731 94.1L733 92.0L735 89.9V126H653z" fill="#1061DC"/>
<path d="M653 84.9L654.6 86.5L656.2 88.1L657.8 89.8L659.4 91.4L661 93.1L662.6 94.9L664.2 96.6L665.8 98.3L667.4 100.0L669 101.6L670.6 103.2L672 104.5L675.2 107.3L678.4 109.6L681.6 111.5L684.8 112.9L688 113.9L691.2 114.6L694.4 114.9L697.6 115.0L700.8 114.8L704 114.3L707.2 113.5L710.4 112.4L713.6 110.7L716.8 108.7L720 106.1L723 103.4L725 101.4L727 99.3L729 97.2L731 95.1L733 92.9L735 90.8V126H653z" fill="#352A87"/>
<path d="M653 85.7L654.6 87.3L656.2 89.0L657.8 90.6L659.4 92.3L661 94.1L662.6 95.8L664.2 97.6L665.8 99.3L667.4 101.0L669 102.7L670.6 104.3L672 105.7L675.2 108.5L678.4 110.9L681.6 112.8L684.8 114.2L688 115.3L691.2 115.9L694.4 116.2L697.6 116.3L700.8 116.1L704 115.7L707.2 114.9L710.4 113.7L713.6 112.0L716.8 109.9L720 107.3L723 104.5L725 102.5L727 100.4L729 98.2L731 96.0L733 93.9L735 91.7V126H653z" fill="#352A87"/>
<path d="M653 86.5L654.6 88.1L656.2 89.8L657.8 91.5L659.4 93.2L661 95.0L662.6 96.8L664.2 98.6L665.8 100.3L667.4 102.1L669 103.8L670.6 105.4L672 106.8L675.2 109.7L678.4 112.2L681.6 114.1L684.8 115.6L688 116.6L691.2 117.2L694.4 117.6L697.6 117.6L700.8 117.5L704 117.0L707.2 116.2L710.4 115.0L713.6 113.3L716.8 111.2L720 108.5L723 105.6L725 103.6L727 101.4L729 99.2L731 97.0L733 94.8L735 92.6V126H653z" fill="#1061DC"/>
<path d="M653 87.2L654.6 88.9L656.2 90.6L657.8 92.3L659.4 94.1L661 95.9L662.6 97.7L664.2 99.5L665.8 101.3L667.4 103.1L669 104.9L670.6 106.6L672 108.0L675.2 111.0L678.4 113.4L681.6 115.4L684.8 116.9L688 117.9L691.2 118.6L694.4 118.9L697.6 119.0L700.8 118.8L704 118.3L707.2 117.5L710.4 116.3L713.6 114.6L716.8 112.4L720 109.7L723 106.8L725 104.7L727 102.5L729 100.2L731 97.9L733 95.7L735 93.4V126H653z" fill="#11A9C0"/>
<path d="M653 88.0L654.6 89.7L656.2 91.4L657.8 93.2L659.4 95.0L661 96.8L662.6 98.6L664.2 100.5L665.8 102.4L667.4 104.2L669 106.0L670.6 107.7L672 109.1L675.2 112.2L678.4 114.7L681.6 116.7L684.8 118.2L688 119.3L691.2 119.9L694.4 120.3L697.6 120.3L700.8 120.1L704 119.7L707.2 118.9L710.4 117.6L713.6 115.9L716.8 113.7L720 110.9L723 107.9L725 105.7L727 103.5L729 101.2L731 98.9L733 96.6L735 94.3V126H653z" fill="#8FBF74"/>
<path d="M653 88.7L654.6 90.4L656.2 92.2L657.8 94.0L659.4 95.8L661 97.7L662.6 99.6L664.2 101.5L665.8 103.4L667.4 105.2L669 107.0L670.6 108.8L672 110.3L675.2 113.4L678.4 116.0L681.6 118.0L684.8 119.5L688 120.6L691.2 121.3L694.4 121.6L697.6 121.7L700.8 121.5L704 121.0L707.2 120.2L710.4 118.9L713.6 117.2L716.8 114.9L720 112.1L723 109.0L725 106.8L727 104.5L729 102.2L731 99.8L733 97.5L735 95.1V126H653z" fill="#E2C04B"/>
<path d="M653 89.5L654.6 91.2L656.2 93.0L657.8 94.8L659.4 96.7L661 98.6L662.6 100.5L664.2 102.4L665.8 104.3L667.4 106.3L669 108.1L670.6 109.9L672 111.4L675.2 114.6L678.4 117.2L681.6 119.3L684.8 120.9L688 121.9L691.2 122.6L694.4 122.9L697.6 123.0L700.8 122.8L704 122.3L707.2 121.5L710.4 120.3L713.6 118.5L716.8 116.2L720 113.3L723 110.1L725 107.9L727 105.5L729 103.1L731 100.7L733 98.3L735 96.0V126H653z" fill="#E2C04B"/>
<path d="M653 90.2L654.6 92.0L656.2 93.8L657.8 95.6L659.4 97.5L661 99.4L662.6 101.4L664.2 103.4L665.8 105.3L667.4 107.3L669 109.2L670.6 111.0L672 112.6L675.2 115.8L678.4 118.5L681.6 120.6L684.8 122.2L688 123.3L691.2 123.9L694.4 124.3L697.6 124.4L700.8 124.2L704 123.7L707.2 122.9L710.4 121.6L713.6 119.8L716.8 117.4L720 114.5L723 111.3L725 109.0L727 106.6L729 104.1L731 101.6L733 99.2L735 96.8V126H653z" fill="#8FBF74"/>
<path d="M653 90.9L654.6 92.7L656.2 94.5L657.8 96.4L659.4 98.3L661 100.3L662.6 102.3L664.2 104.3L665.8 106.3L667.4 108.3L669 110.3L670.6 112.1L672 113.7L675.2 117.0L678.4 119.8L681.6 121.9L684.8 123.5L688 124.6L691.2 125.3L694.4 125.6L697.6 125.7L700.8 125.5L704 125.0L707.2 124.2L710.4 122.9L713.6 121.1L716.8 118.6L720 115.6L723 112.4L725 110.0L727 107.6L729 105.1L731 102.5L733 100.1L735 97.6V126H653z" fill="#11A9C0"/>
<path d="M653 91.6L654.6 93.4L656.2 95.3L657.8 97.2L659.4 99.2L661 101.2L662.6 103.2L664.2 105.2L665.8 107.3L667.4 109.3L669 111.3L670.6 113.2L672 114.8L675.2 118.2L678.4 121.0L681.6 123.2L684.8 124.8L688 125.9L691.2 126.0L694.4 126.0L697.6 126.0L700.8 126.0L704 126.0L707.2 125.5L710.4 124.2L713.6 122.4L716.8 119.9L720 116.8L723 113.5L725 111.1L727 108.6L729 106.0L731 103.4L733 100.9L735 98.4V126H653z" fill="#1061DC"/>
<path d="M653 92.3L654.6 94.1L656.2 96.0L657.8 98.0L659.4 100.0L661 102.0L662.6 104.1L664.2 106.2L665.8 108.3L667.4 110.3L669 112.4L670.6 114.3L672 116.0L675.2 119.4L678.4 122.3L681.6 124.5L684.8 126.0L688 126.0L691.2 126.0L694.4 126.0L697.6 126.0L700.8 126.0L704 126.0L707.2 126.0L710.4 125.5L713.6 123.6L716.8 121.1L720 118.0L723 114.6L725 112.1L727 109.6L729 107.0L731 104.3L733 101.7L735 99.2V126H653z" fill="#352A87"/>
<path d="M653 93.0L654.6 94.8L656.2 96.8L657.8 98.7L659.4 100.8L661 102.8L662.6 105.0L664.2 107.1L665.8 109.2L667.4 111.3L669 113.4L670.6 115.4L672 117.1L675.2 120.6L678.4 123.6L681.6 125.8L684.8 126.0L688 126.0L691.2 126.0L694.4 126.0L697.6 126.0L700.8 126.0L704 126.0L707.2 126.0L710.4 126.0L713.6 124.9L716.8 122.3L720 119.1L723 115.7L725 113.2L727 110.5L729 107.9L731 105.2L733 102.6L735 100.0V126H653z" fill="#352A87"/>
<path d="M653 93.7L654.6 95.5L656.2 97.5L657.8 99.5L659.4 101.6L661 103.7L662.6 105.8L664.2 108.0L665.8 110.2L667.4 112.3L669 114.4L670.6 116.5L672 118.2L675.2 121.8L678.4 124.8L681.6 126.0L684.8 126.0L688 126.0L691.2 126.0L694.4 126.0L697.6 126.0L700.8 126.0L704 126.0L707.2 126.0L710.4 126.0L713.6 126.0L716.8 123.6L720 120.3L723 116.8L725 114.2L727 111.5L729 108.8L731 106.1L733 103.4L735 100.8V126H653z" fill="#1061DC"/>
<path d="M653 94.3L654.6 96.2L656.2 98.2L657.8 100.3L659.4 102.4L661 104.5L662.6 106.7L664.2 108.9L665.8 111.1L667.4 113.3L669 115.5L670.6 117.6L672 119.3L675.2 123.0L678.4 126.0L681.6 126.0L684.8 126.0L688 126.0L691.2 126.0L694.4 126.0L697.6 126.0L700.8 126.0L704 126.0L707.2 126.0L710.4 126.0L713.6 126.0L716.8 124.8L720 121.5L723 117.8L725 115.2L727 112.5L729 109.7L731 107.0L733 104.2L735 101.6V126H653z" fill="#11A9C0"/>
<path d="M653 95.0L654.6 96.9L656.2 98.9L657.8 101.0L659.4 103.1L661 105.3L662.6 107.6L664.2 109.8L665.8 112.1L667.4 114.3L669 116.5L670.6 118.7L672 120.4L675.2 124.2L678.4 126.0L681.6 126.0L684.8 126.0L688 126.0L691.2 126.0L694.4 126.0L697.6 126.0L700.8 126.0L704 126.0L707.2 126.0L710.4 126.0L713.6 126.0L716.8 126.0L720 122.6L723 118.9L725 116.2L727 113.5L729 110.7L731 107.8L733 105.0L735 102.3V126H653z" fill="#8FBF74"/>
<path d="M653 95.6L654.6 97.6L656.2 99.6L657.8 101.7L659.4 103.9L661 106.1L662.6 108.4L664.2 110.7L665.8 113.0L667.4 115.3L669 117.5L670.6 119.7L672 121.6L675.2 125.4L678.4 126.0L681.6 126.0L684.8 126.0L688 126.0L691.2 126.0L694.4 126.0L697.6 126.0L700.8 126.0L704 126.0L707.2 126.0L710.4 126.0L713.6 126.0L716.8 126.0L720 123.8L723 120.0L725 117.3L727 114.4L729 111.6L731 108.7L733 105.9L735 103.1V126H653z" fill="#E2C04B"/>
<path d="M653 96.3L654.6 98.3L656.2 100.3L657.8 102.5L659.4 104.7L661 106.9L662.6 109.2L664.2 111.6L665.8 113.9L667.4 116.3L669 118.6L670.6 120.8L672 122.7L675.2 126.0L678.4 126.0L681.6 126.0L684.8 126.0L688 126.0L691.2 126.0L694.4 126.0L697.6 126.0L700.8 126.0L704 126.0L707.2 126.0L710.4 126.0L713.6 126.0L716.8 126.0L720 124.9L723 121.1L725 118.3L727 115.4L729 112.5L731 109.5L733 106.7L735 103.8V126H653z" fill="#E2C04B"/>
<path d="M653 96.9L654.6 98.9L656.2 101.0L657.8 103.2L659.4 105.4L661 107.7L662.6 110.1L664.2 112.5L665.8 114.9L667.4 117.2L669 119.6L670.6 121.9L672 123.8L675.2 126.0L678.4 126.0L681.6 126.0L684.8 126.0L688 126.0L691.2 126.0L694.4 126.0L697.6 126.0L700.8 126.0L704 126.0L707.2 126.0L710.4 126.0L713.6 126.0L716.8 126.0L720 126.0L723 122.1L725 119.3L727 116.3L729 113.4L731 110.4L733 107.4L735 104.6V126H653z" fill="#8FBF74"/>
<path d="M653 97.5L654.6 99.6L656.2 101.7L657.8 103.9L659.4 106.2L661 108.5L662.6 110.9L664.2 113.3L665.8 115.8L667.4 118.2L669 120.6L670.6 122.9L672 124.9L675.2 126.0L678.4 126.0L681.6 126.0L684.8 126.0L688 126.0L691.2 126.0L694.4 126.0L697.6 126.0L700.8 126.0L704 126.0L707.2 126.0L710.4 126.0L713.6 126.0L716.8 126.0L720 126.0L723 123.2L725 120.3L727 117.3L729 114.3L731 111.2L733 108.2L735 105.3V126H653z" fill="#11A9C0"/>
<path d="M653 98.2L654.6 100.2L656.2 102.4L657.8 104.6L659.4 106.9L661 109.3L662.6 111.7L664.2 114.2L665.8 116.7L667.4 119.2L669 121.6L670.6 124.0L672 126.0L675.2 126.0L678.4 126.0L681.6 126.0L684.8 126.0L688 126.0L691.2 126.0L694.4 126.0L697.6 126.0L700.8 126.0L704 126.0L707.2 126.0L710.4 126.0L713.6 126.0L716.8 126.0L720 126.0L723 124.3L725 121.3L727 118.2L729 115.1L731 112.1L733 109.0L735 106.1V126H653z" fill="#1061DC"/>
<path d="M653 98.8L654.6 100.9L656.2 103.1L657.8 105.3L659.4 107.7L661 110.1L662.6 112.6L664.2 115.1L665.8 117.6L667.4 120.1L669 122.6L670.6 125.0L672 126.0L675.2 126.0L678.4 126.0L681.6 126.0L684.8 126.0L688 126.0L691.2 126.0L694.4 126.0L697.6 126.0L700.8 126.0L704 126.0L707.2 126.0L710.4 126.0L713.6 126.0L716.8 126.0L720 126.0L723 125.3L725 122.3L727 119.2L729 116.0L731 112.9L733 109.8L735 106.8V126H653z" fill="#352A87"/>
<path d="M653 99.4L654.6 101.5L656.2 103.7L657.8 106.0L659.4 108.4L661 110.9L662.6 113.4L664.2 115.9L665.8 118.5L667.4 121.1L669 123.6L670.6 126.0L672 126.0L675.2 126.0L678.4 126.0L681.6 126.0L684.8 126.0L688 126.0L691.2 126.0L694.4 126.0L697.6 126.0L700.8 126.0L704 126.0L707.2 126.0L710.4 126.0L713.6 126.0L716.8 126.0L720 126.0L723 126.0L725 123.3L727 120.1L729 116.9L731 113.7L733 110.6L735 107.5V126H653z" fill="#352A87"/>
<path d="M653 100.0L654.6 102.1L656.2 104.4L657.8 106.7L659.4 109.1L661 111.6L662.6 114.2L664.2 116.8L665.8 119.4L667.4 122.0L669 124.6L670.6 126.0L672 126.0L675.2 126.0L678.4 126.0L681.6 126.0L684.8 126.0L688 126.0L691.2 126.0L694.4 126.0L697.6 126.0L700.8 126.0L704 126.0L707.2 126.0L710.4 126.0L713.6 126.0L716.8 126.0L720 126.0L723 126.0L725 124.3L727 121.0L729 117.8L731 114.5L733 111.3L735 108.2V126H653z" fill="#1061DC"/>
<path d="M653 100.6L654.6 102.8L656.2 105.0L657.8 107.4L659.4 109.9L661 112.4L662.6 115.0L664.2 117.6L665.8 120.3L667.4 123.0L669 125.6L670.6 126.0L672 126.0L675.2 126.0L678.4 126.0L681.6 126.0L684.8 126.0L688 126.0L691.2 126.0L694.4 126.0L697.6 126.0L700.8 126.0L704 126.0L707.2 126.0L710.4 126.0L713.6 126.0L716.8 126.0L720 126.0L723 126.0L725 125.3L727 122.0L729 118.6L731 115.3L733 112.1L735 108.9V126H653z" fill="#11A9C0"/>
<path d="M653 101.2L654.6 103.4L656.2 105.7L657.8 108.1L659.4 110.6L661 113.2L662.6 115.8L664.2 118.5L665.8 121.2L667.4 123.9L669 126.0L670.6 126.0L672 126.0L675.2 126.0L678.4 126.0L681.6 126.0L684.8 126.0L688 126.0L691.2 126.0L694.4 126.0L697.6 126.0L700.8 126.0L704 126.0L707.2 126.0L710.4 126.0L713.6 126.0L716.8 126.0L720 126.0L723 126.0L725 126.0L727 122.9L729 119.5L731 116.1L733 112.8L735 109.6V126H653z" fill="#8FBF74"/>
<path d="M653 101.8L654.6 104.0L656.2 106.3L657.8 108.8L659.4 111.3L661 113.9L662.6 116.6L664.2 119.3L665.8 122.1L667.4 124.8L669 126.0L670.6 126.0L672 126.0L675.2 126.0L678.4 126.0L681.6 126.0L684.8 126.0L688 126.0L691.2 126.0L694.4 126.0L697.6 126.0L700.8 126.0L704 126.0L707.2 126.0L710.4 126.0L713.6 126.0L716.8 126.0L720 126.0L723 126.0L725 126.0L727 123.8L729 120.3L731 116.9L733 113.6L735 110.3V126H653z" fill="#E2C04B"/>
<path d="M653 102.3L654.6 104.6L656.2 107.0L657.8 109.5L659.4 112.0L661 114.7L662.6 117.4L664.2 120.1L665.8 122.9L667.4 125.7L669 126.0L670.6 126.0L672 126.0L675.2 126.0L678.4 126.0L681.6 126.0L684.8 126.0L688 126.0L691.2 126.0L694.4 126.0L697.6 126.0L700.8 126.0L704 126.0L707.2 126.0L710.4 126.0L713.6 126.0L716.8 126.0L720 126.0L723 126.0L725 126.0L727 124.7L729 121.2L731 117.7L733 114.3L735 111.0V126H653z" fill="#E2C04B"/>
<path d="M653 102.9L654.6 105.2L656.2 107.6L657.8 110.1L659.4 112.7L661 115.4L662.6 118.2L664.2 121.0L665.8 123.8L667.4 126.0L669 126.0L670.6 126.0L672 126.0L675.2 126.0L678.4 126.0L681.6 126.0L684.8 126.0L688 126.0L691.2 126.0L694.4 126.0L697.6 126.0L700.8 126.0L704 126.0L707.2 126.0L710.4 126.0L713.6 126.0L716.8 126.0L720 126.0L723 126.0L725 126.0L727 125.6L729 122.0L731 118.5L733 115.1L735 111.7V126H653z" fill="#8FBF74"/>
<path d="M653 103.5L654.6 105.8L656.2 108.2L657.8 110.8L659.4 113.4L661 116.1L662.6 118.9L664.2 121.8L665.8 124.7L667.4 126.0L669 126.0L670.6 126.0L672 126.0L675.2 126.0L678.4 126.0L681.6 126.0L684.8 126.0L688 126.0L691.2 126.0L694.4 126.0L697.6 126.0L700.8 126.0L704 126.0L707.2 126.0L710.4 126.0L713.6 126.0L716.8 126.0L720 126.0L723 126.0L725 126.0L727 126.0L729 122.9L731 119.3L733 115.8L735 112.4V126H653z" fill="#11A9C0"/>
<path d="M653 104.0L654.6 106.4L656.2 108.9L657.8 111.4L659.4 114.1L661 116.9L662.6 119.7L664.2 122.6L665.8 125.6L667.4 126.0L669 126.0L670.6 126.0L672 126.0L675.2 126.0L678.4 126.0L681.6 126.0L684.8 126.0L688 126.0L691.2 126.0L694.4 126.0L697.6 126.0L700.8 126.0L704 126.0L707.2 126.0L710.4 126.0L713.6 126.0L716.8 126.0L720 126.0L723 126.0L725 126.0L727 126.0L729 123.7L731 120.1L733 116.5L735 113.1V126H653z" fill="#1061DC"/>
<path d="M653 104.6L654.6 107.0L656.2 109.5L657.8 112.1L659.4 114.8L661 117.6L662.6 120.5L664.2 123.4L665.8 126.0L667.4 126.0L669 126.0L670.6 126.0L672 126.0L675.2 126.0L678.4 126.0L681.6 126.0L684.8 126.0L688 126.0L691.2 126.0L694.4 126.0L697.6 126.0L700.8 126.0L704 126.0L707.2 126.0L710.4 126.0L713.6 126.0L716.8 126.0L720 126.0L723 126.0L725 126.0L727 126.0L729 124.5L731 120.9L733 117.2L735 113.8V126H653z" fill="#352A87"/>
<path d="M653 105.1L654.6 107.6L656.2 110.1L657.8 112.7L659.4 115.5L661 118.3L662.6 121.2L664.2 124.2L665.8 126.0L667.4 126.0L669 126.0L670.6 126.0L672 126.0L675.2 126.0L678.4 126.0L681.6 126.0L684.8 126.0L688 126.0L691.2 126.0L694.4 126.0L697.6 126.0L700.8 126.0L704 126.0L707.2 126.0L710.4 126.0L713.6 126.0L716.8 126.0L720 126.0L723 126.0L725 126.0L727 126.0L729 125.4L731 121.6L733 118.0L735 114.4V126H653z" fill="#352A87"/>
<path d="M653 105.7L654.6 108.1L656.2 110.7L657.8 113.4L659.4 116.2L661 119.0L662.6 122.0L664.2 125.0L665.8 126.0L667.4 126.0L669 126.0L670.6 126.0L672 126.0L675.2 126.0L678.4 126.0L681.6 126.0L684.8 126.0L688 126.0L691.2 126.0L694.4 126.0L697.6 126.0L700.8 126.0L704 126.0L707.2 126.0L710.4 126.0L713.6 126.0L716.8 126.0L720 126.0L723 126.0L725 126.0L727 126.0L729 126.0L731 122.4L733 118.7L735 115.1V126H653z" fill="#1061DC"/>
<path d="M653 106.2L654.6 108.7L656.2 111.3L657.8 114.0L659.4 116.8L661 119.8L662.6 122.8L664.2 125.8L665.8 126.0L667.4 126.0L669 126.0L670.6 126.0L672 126.0L675.2 126.0L678.4 126.0L681.6 126.0L684.8 126.0L688 126.0L691.2 126.0L694.4 126.0L697.6 126.0L700.8 126.0L704 126.0L707.2 126.0L710.4 126.0L713.6 126.0L716.8 126.0L720 126.0L723 126.0L725 126.0L727 126.0L729 126.0L731 123.1L733 119.4L735 115.8V126H653z" fill="#11A9C0"/>
<path d="M653 106.8L654.6 109.3L656.2 111.9L657.8 114.6L659.4 117.5L661 120.5L662.6 123.5L664.2 126.0L665.8 126.0L667.4 126.0L669 126.0L670.6 126.0L672 126.0L675.2 126.0L678.4 126.0L681.6 126.0L684.8 126.0L688 126.0L691.2 126.0L694.4 126.0L697.6 126.0L700.8 126.0L704 126.0L707.2 126.0L710.4 126.0L713.6 126.0L716.8 126.0L720 126.0L723 126.0L725 126.0L727 126.0L729 126.0L731 123.9L733 120.1L735 116.4V126H653z" fill="#8FBF74"/>
<path d="M653 107.3L654.6 109.8L656.2 112.5L657.8 115.3L659.4 118.2L661 121.2L662.6 124.3L664.2 126.0L665.8 126.0L667.4 126.0L669 126.0L670.6 126.0L672 126.0L675.2 126.0L678.4 126.0L681.6 126.0L684.8 126.0L688 126.0L691.2 126.0L694.4 126.0L697.6 126.0L700.8 126.0L704 126.0L707.2 126.0L710.4 126.0L713.6 126.0L716.8 126.0L720 126.0L723 126.0L725 126.0L727 126.0L729 126.0L731 124.7L733 120.8L735 117.1V126H653z" fill="#E2C04B"/>
<path d="M653 107.8L654.6 110.4L656.2 113.1L657.8 115.9L659.4 118.8L661 121.9L662.6 125.0L664.2 126.0L665.8 126.0L667.4 126.0L669 126.0L670.6 126.0L672 126.0L675.2 126.0L678.4 126.0L681.6 126.0L684.8 126.0L688 126.0L691.2 126.0L694.4 126.0L697.6 126.0L700.8 126.0L704 126.0L707.2 126.0L710.4 126.0L713.6 126.0L716.8 126.0L720 126.0L723 126.0L725 126.0L727 126.0L729 126.0L731 125.4L733 121.5L735 117.7V126H653z" fill="#E2C04B"/>
<path d="M653 108.4L654.6 111.0L656.2 113.7L657.8 116.5L659.4 119.5L661 122.6L662.6 125.7L664.2 126.0L665.8 126.0L667.4 126.0L669 126.0L670.6 126.0L672 126.0L675.2 126.0L678.4 126.0L681.6 126.0L684.8 126.0L688 126.0L691.2 126.0L694.4 126.0L697.6 126.0L700.8 126.0L704 126.0L707.2 126.0L710.4 126.0L713.6 126.0L716.8 126.0L720 126.0L723 126.0L725 126.0L727 126.0L729 126.0L731 126.0L733 122.2L735 118.4V126H653z" fill="#8FBF74"/>
<path d="M653 108.9L654.6 111.5L656.2 114.3L657.8 117.1L659.4 120.1L661 123.3L662.6 126.0L664.2 126.0L665.8 126.0L667.4 126.0L669 126.0L670.6 126.0L672 126.0L675.2 126.0L678.4 126.0L681.6 126.0L684.8 126.0L688 126.0L691.2 126.0L694.4 126.0L697.6 126.0L700.8 126.0L704 126.0L707.2 126.0L710.4 126.0L713.6 126.0L716.8 126.0L720 126.0L723 126.0L725 126.0L727 126.0L729 126.0L731 126.0L733 122.9L735 119.0V126H653z" fill="#11A9C0"/>
<path d="M653 109.4L654.6 112.1L656.2 114.8L657.8 117.7L659.4 120.8L661 123.9L662.6 126.0L664.2 126.0L665.8 126.0L667.4 126.0L669 126.0L670.6 126.0L672 126.0L675.2 126.0L678.4 126.0L681.6 126.0L684.8 126.0L688 126.0L691.2 126.0L694.4 126.0L697.6 126.0L700.8 126.0L704 126.0L707.2 126.0L710.4 126.0L713.6 126.0L716.8 126.0L720 126.0L723 126.0L725 126.0L727 126.0L729 126.0L731 126.0L733 123.5L735 119.6V126H653z" fill="#1061DC"/>
<path d="M653 109.9L654.6 112.6L656.2 115.4L657.8 118.4L659.4 121.4L661 124.6L662.6 126.0L664.2 126.0L665.8 126.0L667.4 126.0L669 126.0L670.6 126.0L672 126.0L675.2 126.0L678.4 126.0L681.6 126.0L684.8 126.0L688 126.0L691.2 126.0L694.4 126.0L697.6 126.0L700.8 126.0L704 126.0L707.2 126.0L710.4 126.0L713.6 126.0L716.8 126.0L720 126.0L723 126.0L725 126.0L727 126.0L729 126.0L731 126.0L733 124.2L735 120.3V126H653z" fill="#352A87"/>
<path d="M653 110.4L654.6 113.1L656.2 116.0L657.8 119.0L659.4 122.1L661 125.3L662.6 126.0L664.2 126.0L665.8 126.0L667.4 126.0L669 126.0L670.6 126.0L672 126.0L675.2 126.0L678.4 126.0L681.6 126.0L684.8 126.0L688 126.0L691.2 126.0L694.4 126.0L697.6 126.0L700.8 126.0L704 126.0L707.2 126.0L710.4 126.0L713.6 126.0L716.8 126.0L720 126.0L723 126.0L725 126.0L727 126.0L729 126.0L731 126.0L733 124.9L735 120.9V126H653z" fill="#352A87"/>
<path d="M653 110.9L654.6 113.7L656.2 116.5L657.8 119.6L659.4 122.7L661 126.0L662.6 126.0L664.2 126.0L665.8 126.0L667.4 126.0L669 126.0L670.6 126.0L672 126.0L675.2 126.0L678.4 126.0L681.6 126.0L684.8 126.0L688 126.0L691.2 126.0L694.4 126.0L697.6 126.0L700.8 126.0L704 126.0L707.2 126.0L710.4 126.0L713.6 126.0L716.8 126.0L720 126.0L723 126.0L725 126.0L727 126.0L729 126.0L731 126.0L733 125.6L735 121.5V126H653z" fill="#1061DC"/>
<path d="M653 111.5L654.6 114.2L656.2 117.1L657.8 120.1L659.4 123.3L661 126.0L662.6 126.0L664.2 126.0L665.8 126.0L667.4 126.0L669 126.0L670.6 126.0L672 126.0L675.2 126.0L678.4 126.0L681.6 126.0L684.8 126.0L688 126.0L691.2 126.0L694.4 126.0L697.6 126.0L700.8 126.0L704 126.0L707.2 126.0L710.4 126.0L713.6 126.0L716.8 126.0L720 126.0L723 126.0L725 126.0L727 126.0L729 126.0L731 126.0L733 126.0L735 122.1V126H653z" fill="#11A9C0"/>
<path d="M653 112.0L654.6 114.7L656.2 117.7L657.8 120.7L659.4 124.0L661 126.0L662.6 126.0L664.2 126.0L665.8 126.0L667.4 126.0L669 126.0L670.6 126.0L672 126.0L675.2 126.0L678.4 126.0L681.6 126.0L684.8 126.0L688 126.0L691.2 126.0L694.4 126.0L697.6 126.0L700.8 126.0L704 126.0L707.2 126.0L710.4 126.0L713.6 126.0L716.8 126.0L720 126.0L723 126.0L725 126.0L727 126.0L729 126.0L731 126.0L733 126.0L735 122.7V126H653z" fill="#8FBF74"/>
<path d="M653 112.5L654.6 115.3L656.2 118.2L657.8 121.3L659.4 124.6L661 126.0L662.6 126.0L664.2 126.0L665.8 126.0L667.4 126.0L669 126.0L670.6 126.0L672 126.0L675.2 126.0L678.4 126.0L681.6 126.0L684.8 126.0L688 126.0L691.2 126.0L694.4 126.0L697.6 126.0L700.8 126.0L704 126.0L707.2 126.0L710.4 126.0L713.6 126.0L716.8 126.0L720 126.0L723 126.0L725 126.0L727 126.0L729 126.0L731 126.0L733 126.0L735 123.3V126H653z" fill="#E2C04B"/>
<path d="M653 112.9L654.6 115.8L656.2 118.8L657.8 121.9L659.4 125.2L661 126.0L662.6 126.0L664.2 126.0L665.8 126.0L667.4 126.0L669 126.0L670.6 126.0L672 126.0L675.2 126.0L678.4 126.0L681.6 126.0L684.8 126.0L688 126.0L691.2 126.0L694.4 126.0L697.6 126.0L700.8 126.0L704 126.0L707.2 126.0L710.4 126.0L713.6 126.0L716.8 126.0L720 126.0L723 126.0L725 126.0L727 126.0L729 126.0L731 126.0L733 126.0L735 124.0V126H653z" fill="#E2C04B"/>
<path d="M653 113.4L654.6 116.3L656.2 119.3L657.8 122.5L659.4 125.8L661 126.0L662.6 126.0L664.2 126.0L665.8 126.0L667.4 126.0L669 126.0L670.6 126.0L672 126.0L675.2 126.0L678.4 126.0L681.6 126.0L684.8 126.0L688 126.0L691.2 126.0L694.4 126.0L697.6 126.0L700.8 126.0L704 126.0L707.2 126.0L710.4 126.0L713.6 126.0L716.8 126.0L720 126.0L723 126.0L725 126.0L727 126.0L729 126.0L731 126.0L733 126.0L735 124.6V126H653z" fill="#8FBF74"/>
<path d="M653 113.9L654.6 116.8L656.2 119.9L657.8 123.1L659.4 126.0L661 126.0L662.6 126.0L664.2 126.0L665.8 126.0L667.4 126.0L669 126.0L670.6 126.0L672 126.0L675.2 126.0L678.4 126.0L681.6 126.0L684.8 126.0L688 126.0L691.2 126.0L694.4 126.0L697.6 126.0L700.8 126.0L704 126.0L707.2 126.0L710.4 126.0L713.6 126.0L716.8 126.0L720 126.0L723 126.0L725 126.0L727 126.0L729 126.0L731 126.0L733 126.0L735 125.2V126H653z" fill="#11A9C0"/>
<path d="M653 114.4L654.6 117.3L656.2 120.4L657.8 123.7L659.4 126.0L661 126.0L662.6 126.0L664.2 126.0L665.8 126.0L667.4 126.0L669 126.0L670.6 126.0L672 126.0L675.2 126.0L678.4 126.0L681.6 126.0L684.8 126.0L688 126.0L691.2 126.0L694.4 126.0L697.6 126.0L700.8 126.0L704 126.0L707.2 126.0L710.4 126.0L713.6 126.0L716.8 126.0L720 126.0L723 126.0L725 126.0L727 126.0L729 126.0L731 126.0L733 126.0L735 125.8V126H653z" fill="#1061DC"/>
<path d="M653 114.9L654.6 117.8L656.2 120.9L657.8 124.2L659.4 126.0L661 126.0L662.6 126.0L664.2 126.0L665.8 126.0L667.4 126.0L669 126.0L670.6 126.0L672 126.0L675.2 126.0L678.4 126.0L681.6 126.0L684.8 126.0L688 126.0L691.2 126.0L694.4 126.0L697.6 126.0L700.8 126.0L704 126.0L707.2 126.0L710.4 126.0L713.6 126.0L716.8 126.0L720 126.0L723 126.0L725 126.0L727 126.0L729 126.0L731 126.0L733 126.0L735 126.0V126H653z" fill="#352A87"/>
<path d="M653 115.4L654.6 118.3L656.2 121.5L657.8 124.8L659.4 126.0L661 126.0L662.6 126.0L664.2 126.0L665.8 126.0L667.4 126.0L669 126.0L670.6 126.0L672 126.0L675.2 126.0L678.4 126.0L681.6 126.0L684.8 126.0L688 126.0L691.2 126.0L694.4 126.0L697.6 126.0L700.8 126.0L704 126.0L707.2 126.0L710.4 126.0L713.6 126.0L716.8 126.0L720 126.0L723 126.0L725 126.0L727 126.0L729 126.0L731 126.0L733 126.0L735 126.0V126H653z" fill="#352A87"/>
<path d="M653 115.8L654.6 118.8L656.2 122.0L657.8 125.4L659.4 126.0L661 126.0L662.6 126.0L664.2 126.0L665.8 126.0L667.4 126.0L669 126.0L670.6 126.0L672 126.0L675.2 126.0L678.4 126.0L681.6 126.0L684.8 126.0L688 126.0L691.2 126.0L694.4 126.0L697.6 126.0L700.8 126.0L704 126.0L707.2 126.0L710.4 126.0L713.6 126.0L716.8 126.0L720 126.0L723 126.0L725 126.0L727 126.0L729 126.0L731 126.0L733 126.0L735 126.0V126H653z" fill="#1061DC"/>
<path d="M653 116.3L654.6 119.3L656.2 122.5L657.8 125.9L659.4 126.0L661 126.0L662.6 126.0L664.2 126.0L665.8 126.0L667.4 126.0L669 126.0L670.6 126.0L672 126.0L675.2 126.0L678.4 126.0L681.6 126.0L684.8 126.0L688 126.0L691.2 126.0L694.4 126.0L697.6 126.0L700.8 126.0L704 126.0L707.2 126.0L710.4 126.0L713.6 126.0L716.8 126.0L720 126.0L723 126.0L725 126.0L727 126.0L729 126.0L731 126.0L733 126.0L735 126.0V126H653z" fill="#11A9C0"/>
<path d="M653 116.8L654.6 119.8L656.2 123.1L657.8 126.0L659.4 126.0L661 126.0L662.6 126.0L664.2 126.0L665.8 126.0L667.4 126.0L669 126.0L670.6 126.0L672 126.0L675.2 126.0L678.4 126.0L681.6 126.0L684.8 126.0L688 126.0L691.2 126.0L694.4 126.0L697.6 126.0L700.8 126.0L704 126.0L707.2 126.0L710.4 126.0L713.6 126.0L716.8 126.0L720 126.0L723 126.0L725 126.0L727 126.0L729 126.0L731 126.0L733 126.0L735 126.0V126H653z" fill="#8FBF74"/>
<path d="M653 117.2L654.6 120.3L656.2 123.6L657.8 126.0L659.4 126.0L661 126.0L662.6 126.0L664.2 126.0L665.8 126.0L667.4 126.0L669 126.0L670.6 126.0L672 126.0L675.2 126.0L678.4 126.0L681.6 126.0L684.8 126.0L688 126.0L691.2 126.0L694.4 126.0L697.6 126.0L700.8 126.0L704 126.0L707.2 126.0L710.4 126.0L713.6 126.0L716.8 126.0L720 126.0L723 126.0L725 126.0L727 126.0L729 126.0L731 126.0L733 126.0L735 126.0V126H653z" fill="#E2C04B"/>
<path d="M653 117.7L654.6 120.8L656.2 124.1L657.8 126.0L659.4 126.0L661 126.0L662.6 126.0L664.2 126.0L665.8 126.0L667.4 126.0L669 126.0L670.6 126.0L672 126.0L675.2 126.0L678.4 126.0L681.6 126.0L684.8 126.0L688 126.0L691.2 126.0L694.4 126.0L697.6 126.0L700.8 126.0L704 126.0L707.2 126.0L710.4 126.0L713.6 126.0L716.8 126.0L720 126.0L723 126.0L725 126.0L727 126.0L729 126.0L731 126.0L733 126.0L735 126.0V126H653z" fill="#E2C04B"/>
<path d="M653 118.2L654.6 121.3L656.2 124.6L657.8 126.0L659.4 126.0L661 126.0L662.6 126.0L664.2 126.0L665.8 126.0L667.4 126.0L669 126.0L670.6 126.0L672 126.0L675.2 126.0L678.4 126.0L681.6 126.0L684.8 126.0L688 126.0L691.2 126.0L694.4 126.0L697.6 126.0L700.8 126.0L704 126.0L707.2 126.0L710.4 126.0L713.6 126.0L716.8 126.0L720 126.0L723 126.0L725 126.0L727 126.0L729 126.0L731 126.0L733 126.0L735 126.0V126H653z" fill="#8FBF74"/>
<path d="M653 118.6L654.6 121.8L656.2 125.1L657.8 126.0L659.4 126.0L661 126.0L662.6 126.0L664.2 126.0L665.8 126.0L667.4 126.0L669 126.0L670.6 126.0L672 126.0L675.2 126.0L678.4 126.0L681.6 126.0L684.8 126.0L688 126.0L691.2 126.0L694.4 126.0L697.6 126.0L700.8 126.0L704 126.0L707.2 126.0L710.4 126.0L713.6 126.0L716.8 126.0L720 126.0L723 126.0L725 126.0L727 126.0L729 126.0L731 126.0L733 126.0L735 126.0V126H653z" fill="#11A9C0"/>
<path d="M653 119.1L654.6 122.3L656.2 125.7L657.8 126.0L659.4 126.0L661 126.0L662.6 126.0L664.2 126.0L665.8 126.0L667.4 126.0L669 126.0L670.6 126.0L672 126.0L675.2 126.0L678.4 126.0L681.6 126.0L684.8 126.0L688 126.0L691.2 126.0L694.4 126.0L697.6 126.0L700.8 126.0L704 126.0L707.2 126.0L710.4 126.0L713.6 126.0L716.8 126.0L720 126.0L723 126.0L725 126.0L727 126.0L729 126.0L731 126.0L733 126.0L735 126.0V126H653z" fill="#1061DC"/>
<path d="M653 119.5L654.6 122.8L656.2 126.0L657.8 126.0L659.4 126.0L661 126.0L662.6 126.0L664.2 126.0L665.8 126.0L667.4 126.0L669 126.0L670.6 126.0L672 126.0L675.2 126.0L678.4 126.0L681.6 126.0L684.8 126.0L688 126.0L691.2 126.0L694.4 126.0L697.6 126.0L700.8 126.0L704 126.0L707.2 126.0L710.4 126.0L713.6 126.0L716.8 126.0L720 126.0L723 126.0L725 126.0L727 126.0L729 126.0L731 126.0L733 126.0L735 126.0V126H653z" fill="#352A87"/>
<path d="M653 120.0L654.6 123.2L656.2 126.0L657.8 126.0L659.4 126.0L661 126.0L662.6 126.0L664.2 126.0L665.8 126.0L667.4 126.0L669 126.0L670.6 126.0L672 126.0L675.2 126.0L678.4 126.0L681.6 126.0L684.8 126.0L688 126.0L691.2 126.0L694.4 126.0L697.6 126.0L700.8 126.0L704 126.0L707.2 126.0L710.4 126.0L713.6 126.0L716.8 126.0L720 126.0L723 126.0L725 126.0L727 126.0L729 126.0L731 126.0L733 126.0L735 126.0V126H653z" fill="#352A87"/>
<path d="M653 120.4L654.6 123.7L656.2 126.0L657.8 126.0L659.4 126.0L661 126.0L662.6 126.0L664.2 126.0L665.8 126.0L667.4 126.0L669 126.0L670.6 126.0L672 126.0L675.2 126.0L678.4 126.0L681.6 126.0L684.8 126.0L688 126.0L691.2 126.0L694.4 126.0L697.6 126.0L700.8 126.0L704 126.0L707.2 126.0L710.4 126.0L713.6 126.0L716.8 126.0L720 126.0L723 126.0L725 126.0L727 126.0L729 126.0L731 126.0L733 126.0L735 126.0V126H653z" fill="#1061DC"/>
<path d="M653 120.9L654.6 124.2L656.2 126.0L657.8 126.0L659.4 126.0L661 126.0L662.6 126.0L664.2 126.0L665.8 126.0L667.4 126.0L669 126.0L670.6 126.0L672 126.0L675.2 126.0L678.4 126.0L681.6 126.0L684.8 126.0L688 126.0L691.2 126.0L694.4 126.0L697.6 126.0L700.8 126.0L704 126.0L707.2 126.0L710.4 126.0L713.6 126.0L716.8 126.0L720 126.0L723 126.0L725 126.0L727 126.0L729 126.0L731 126.0L733 126.0L735 126.0V126H653z" fill="#11A9C0"/>
<path d="M653 121.3L654.6 124.6L656.2 126.0L657.8 126.0L659.4 126.0L661 126.0L662.6 126.0L664.2 126.0L665.8 126.0L667.4 126.0L669 126.0L670.6 126.0L672 126.0L675.2 126.0L678.4 126.0L681.6 126.0L684.8 126.0L688 126.0L691.2 126.0L694.4 126.0L697.6 126.0L700.8 126.0L704 126.0L707.2 126.0L710.4 126.0L713.6 126.0L716.8 126.0L720 126.0L723 126.0L725 126.0L727 126.0L729 126.0L731 126.0L733 126.0L735 126.0V126H653z" fill="#8FBF74"/>
</g></g></g>
<path d="M557 93.6H544.3" stroke="#000" stroke-width="2"/><path d="M538.3 93.6l8.5 -3.6v7.2z" fill="#000"/>
<path d="M654.2 93.6H641.2" stroke="#000" stroke-width="2"/><path d="M635.2 93.6l8.5 -3.6v7.2z" fill="#000"/>
<path d="M752.4 93.6H739.3" stroke="#000" stroke-width="2"/><path d="M733.3 93.6l8.5 -3.6v7.2z" fill="#000"/>
<path d="M752.4 196.2H739.4" stroke="#000" stroke-width="2"/><path d="M733.4 196.2l8.5 -3.6v7.2z" fill="#000"/>
<rect x="752.2" y="68.8" width="39.6" height="149.1" rx="8" fill="#fff" />
<text transform="translate(780 143.3) rotate(-90)" font-size="22.8" text-anchor="middle">Hardware</text>
<text x="802.6" y="105.6" font-size="23" text-anchor="start" font-weight="normal" fill="#000" >PMD</text>
<text x="808.0" y="201.0" font-size="23" text-anchor="start" font-weight="normal" fill="#000" >CCS</text>
<text x="450.6" y="140" font-size="19">σ<tspan font-size="15.5" dy="6.6">Re-projection</tspan><tspan font-size="15.3" dy="-12.2" dx="0.8">2</tspan></text>
<text x="571.3" y="140" font-size="19">σ<tspan font-size="15.5" dy="6.6">Phase</tspan><tspan font-size="15.3" dy="-12.2" dx="0.8">2</tspan></text>
<text x="659.4" y="140" font-size="19">σ<tspan font-size="15.5" dy="6.6">Intensity</tspan><tspan font-size="15.3" dy="-12.2" dx="0.8">2</tspan></text>
<text x="663.4" y="246.6" font-size="19">σ<tspan font-size="15.5" dy="6.6">CCS</tspan><tspan font-size="15.3" dy="-12.2" dx="0.8">2</tspan></text>
<rect x="455.6" y="165.4" width="141.4" height="70.5" rx="10" fill="#FFC000" />
<text x="526.5" y="195.2" font-size="23" text-anchor="middle" font-weight="normal" fill="#000" >Monte Carlo</text>
<text x="526.5" y="222.0" font-size="23" text-anchor="middle" font-weight="normal" fill="#000" >Analysis</text>
<rect x="619.1" y="164.2" width="114.1" height="63.8" rx="0" fill="#fff" />
<path d="M690.0 200.9h0M623.7 207.4h0M721.0 189.7h0M672.8 182.6h0M622.0 191.1h0M651.7 198.0h0M709.4 188.9h0M689.3 213.7h0M643.9 194.7h0M730.0 186.4h0M680.6 218.0h0M643.3 180.9h0M720.2 171.4h0M660.8 196.6h0M654.1 197.3h0M620.9 190.2h0M711.8 201.5h0M655.7 193.6h0M729.2 191.4h0M704.1 226.7h0M661.3 196.4h0M621.5 204.5h0M642.4 216.0h0M724.2 188.1h0M679.0 201.9h0M632.5 200.0h0M630.7 178.2h0M658.4 172.6h0M681.3 192.1h0M629.2 199.9h0M697.3 199.8h0M730.5 197.0h0M665.8 179.7h0M671.3 184.6h0M626.7 216.4h0M714.0 196.8h0M702.1 176.6h0M632.4 182.3h0M637.1 191.8h0M731.9 214.9h0M729.3 179.2h0M673.9 195.6h0M665.5 174.2h0M727.5 214.3h0M676.2 200.9h0M707.7 204.2h0M660.8 196.8h0M694.5 180.0h0M661.0 192.4h0M706.3 205.3h0M653.3 183.8h0M621.8 184.4h0M648.5 177.5h0M692.7 198.5h0M659.3 193.1h0M659.5 165.2h0M717.5 218.0h0M678.3 190.9h0M639.0 214.9h0M697.6 190.4h0M701.9 196.9h0M694.7 182.2h0M690.0 184.6h0M623.6 183.0h0M669.7 197.3h0M690.8 208.7h0M673.1 199.3h0M655.9 196.2h0M642.1 185.4h0M688.7 196.5h0M647.0 214.3h0M651.6 194.5h0M633.3 193.8h0M688.9 196.3h0M681.3 173.6h0M711.8 182.8h0M711.1 190.9h0M686.9 198.3h0M727.2 184.7h0M720.1 188.9h0M632.5 190.6h0M690.7 190.8h0M662.4 195.7h0M728.9 202.3h0M727.7 186.1h0M729.9 190.3h0M666.8 205.5h0M652.4 193.4h0M634.1 187.1h0M707.7 201.9h0M622.0 191.2h0M707.7 216.5h0M650.3 202.4h0M688.3 193.9h0M692.4 194.3h0M705.3 189.7h0M680.0 191.1h0M672.3 205.7h0M703.6 201.6h0M671.3 199.9h0M719.5 210.9h0M668.2 196.0h0M699.5 173.7h0M663.5 196.9h0M715.5 189.4h0M698.0 190.8h0M722.0 210.6h0M673.8 186.0h0M637.6 194.6h0M711.0 196.7h0M708.8 211.9h0M698.7 190.0h0M714.4 180.2h0M699.9 175.9h0M653.1 210.8h0M666.7 205.0h0M689.9 201.7h0M628.5 200.3h0M684.6 198.2h0M668.6 191.0h0M687.4 203.0h0M626.7 191.0h0M637.3 173.6h0M682.4 193.7h0M649.9 194.1h0M678.1 210.3h0M646.6 194.0h0M700.0 188.5h0M630.0 198.6h0M686.7 197.2h0M718.3 187.0h0M623.8 209.7h0M626.5 208.2h0M645.4 190.2h0M729.0 196.7h0M690.2 189.8h0M646.7 187.9h0M663.5 188.7h0M713.2 197.9h0M715.5 185.0h0M686.6 193.9h0M631.3 185.0h0M643.1 202.9h0M705.3 187.5h0M672.9 183.8h0M672.4 187.6h0M637.7 187.9h0M718.7 201.1h0M648.8 198.6h0M646.7 201.1h0M624.1 169.8h0M697.2 210.9h0M673.1 215.6h0M653.0 204.0h0M701.8 195.1h0M646.2 196.5h0M665.2 187.3h0M672.7 200.7h0M702.2 198.1h0M695.4 207.8h0M692.5 195.6h0M627.3 194.3h0M666.2 167.1h0M678.4 185.9h0M631.0 203.4h0M724.8 187.9h0M647.6 191.8h0M649.0 196.5h0M654.6 219.2h0M640.5 200.4h0M665.4 201.6h0M632.5 198.7h0M723.2 198.6h0M622.4 189.3h0M674.7 185.0h0M701.4 213.7h0M654.8 197.6h0M633.4 188.5h0M630.3 198.0h0M635.0 187.0h0M647.8 183.3h0M647.9 199.9h0M698.6 196.9h0M662.2 201.9h0M667.4 194.7h0M720.4 182.4h0M705.2 178.1h0M693.6 208.1h0M701.7 192.6h0M663.1 211.8h0M627.9 193.4h0M652.3 208.7h0M705.7 197.5h0M635.0 195.0h0M716.4 187.6h0M668.3 190.0h0M657.3 179.2h0M701.5 185.5h0M679.6 191.9h0M725.1 184.5h0M633.7 203.6h0M668.9 189.1h0M687.0 189.4h0M711.3 219.3h0M624.2 203.0h0M674.2 187.7h0M651.4 198.6h0M683.2 194.5h0M659.7 187.4h0M730.0 210.8h0M665.2 183.8h0M713.2 200.1h0M631.5 195.9h0M720.9 196.9h0M696.6 182.6h0M690.0 195.3h0M677.6 195.4h0M641.1 193.6h0M655.3 196.5h0M673.6 172.7h0M711.4 225.6h0M697.7 177.9h0M661.0 190.6h0M696.3 193.7h0M630.2 198.2h0M685.2 192.7h0M724.1 186.6h0M700.3 194.8h0M727.2 171.7h0M697.2 195.3h0M643.8 181.5h0M720.4 206.3h0M664.4 192.6h0M664.0 182.9h0M722.0 177.8h0M663.6 190.0h0M700.3 183.3h0M719.4 191.9h0M689.9 209.6h0M639.2 195.2h0M627.5 187.8h0M713.1 194.6h0M667.9 184.7h0M721.4 192.0h0M728.3 207.2h0M623.9 182.6h0M641.0 189.5h0M686.8 188.9h0M627.3 180.2h0M713.6 183.2h0M646.0 200.3h0M631.7 185.4h0M638.0 202.1h0M632.2 205.2h0M702.6 205.9h0M723.5 171.7h0M690.2 203.3h0M627.7 197.2h0M662.2 187.9h0M629.8 180.3h0M681.1 204.0h0M662.2 203.1h0M675.7 203.2h0M705.2 193.3h0M653.5 185.7h0M702.7 199.1h0M663.1 179.8h0M708.5 194.6h0M653.5 201.1h0M626.1 185.1h0M647.0 201.3h0M631.2 197.9h0M730.3 177.8h0M630.7 209.0h0M710.9 195.4h0M622.3 185.6h0M671.6 191.4h0M644.9 196.4h0M669.9 201.1h0M727.0 198.4h0M677.1 181.6h0M669.0 204.8h0M721.1 192.8h0M623.2 192.6h0M666.6 214.3h0M704.8 214.7h0M667.6 220.8h0M731.4 187.9h0M672.9 198.1h0M694.8 199.6h0M628.7 203.7h0M720.6 198.1h0M712.9 200.1h0M687.3 196.3h0M725.0 215.8h0M641.1 192.8h0M662.1 210.3h0M637.4 209.1h0M630.5 192.2h0M692.3 187.2h0M685.4 211.2h0M647.4 193.5h0M702.1 206.4h0M674.1 210.8h0M667.2 195.3h0M688.6 205.0h0M624.8 198.4h0M659.1 191.4h0M693.5 214.8h0M661.8 189.4h0M654.1 198.0h0M670.5 192.9h0M679.5 201.6h0M682.0 190.5h0M635.9 182.2h0M643.6 194.9h0M627.2 191.6h0M728.4 198.9h0M651.2 194.1h0M713.0 187.1h0M663.8 194.7h0M718.2 201.9h0M720.5 196.5h0M703.0 196.9h0M621.6 199.5h0M717.7 184.6h0M686.2 192.1h0M688.7 181.7h0M726.3 207.8h0M630.8 200.1h0M671.8 206.3h0M628.2 185.0h0M714.6 194.7h0M653.8 187.2h0M705.0 203.2h0M637.8 188.4h0M649.9 199.0h0M659.8 198.4h0M667.9 191.1h0M636.0 189.7h0M697.1 175.7h0M636.7 185.2h0M675.6 204.3h0M694.4 187.4h0M707.9 194.8h0M649.4 198.9h0M719.7 185.2h0M727.1 184.6h0M706.3 205.2h0M714.6 202.6h0M626.1 179.0h0M701.2 203.5h0M666.0 197.4h0M700.4 196.5h0M717.5 192.6h0M725.7 200.2h0M720.4 202.3h0M645.7 200.5h0M683.5 203.4h0M724.5 209.8h0M672.5 195.1h0M680.4 189.8h0M730.6 187.5h0M681.9 202.2h0M668.2 173.3h0M663.1 192.5h0M722.9 198.9h0M636.1 183.7h0M725.2 174.6h0M684.5 201.9h0M652.2 194.1h0M705.1 205.2h0M635.5 189.3h0M631.9 171.2h0M635.4 203.2h0M689.6 206.9h0M638.7 204.4h0M648.6 202.2h0M626.4 206.1h0M658.0 205.7h0M691.8 209.5h0M652.0 179.3h0M718.3 185.9h0M729.4 199.2h0M693.5 194.4h0M725.7 194.1h0M715.6 178.6h0M695.8 203.1h0M702.1 191.4h0M709.3 181.8h0M675.6 198.6h0M713.8 178.7h0M680.2 199.2h0M729.1 204.8h0M647.1 187.2h0M692.4 186.9h0M651.0 187.6h0M703.4 184.1h0M669.0 193.7h0M687.0 185.4h0M670.1 201.3h0M714.2 197.3h0M626.8 195.0h0M671.6 190.0h0M710.0 192.4h0M709.2 194.2h0M690.0 176.7h0M715.4 184.6h0M622.8 208.4h0M627.9 194.1h0M631.7 200.2h0M620.9 198.1h0M654.0 190.1h0M726.8 203.6h0M697.3 186.0h0M666.1 200.5h0M671.3 187.9h0M696.6 176.8h0M717.6 201.7h0M694.1 185.0h0M718.9 188.7h0M657.0 196.7h0" stroke="#1c1c1c" stroke-width="1.4" stroke-linecap="round" fill="none"/>
<path d="M620.5 194H731.5" stroke="#111" stroke-width="1.3" stroke-dasharray="5 2.6"/>
<path d="M417.0 131.3L431.2 117.6L431.2 124.6L446.3 124.6L446.3 138.0L431.2 138.0L431.2 145.5z" fill="#000"/>
<path d="M169.1 257.8L183.6 257.8L183.6 268.3L190.8 268.3L176.3 280.8L161.7 268.3L169.1 268.3z" fill="#000"/>
<path d="M267.2 258.5L281.9 271.0L274.6 271.0L274.6 281.3L260.0 281.3L260.0 271.0L252.6 271.0z" fill="#000"/>
<path d="M638.2 254.4L652.4 254.4L652.4 269.3L659.3 269.3L645.2 283.8L630.7 269.3L638.2 269.3z" fill="#000"/>
<path d="M426.3 254.9L446.6 258.4L443.6 278.4L438.7 272.6L426.6 281.0L418.9 270.0L430.7 261.6z" fill="#000"/>
<path d="M419.4 396.6L434.6 396.6L434.6 389.4L449.1 403.4L434.6 417.6L434.6 410.4L419.4 410.4z" fill="#000"/>
<path d="M804.4 432.1L819.6 432.1L819.6 424.7L833.9 439.0L819.6 453.3L819.6 445.8L804.4 445.8z" fill="#000"/>
<text x="124.4" y="272.7" font-size="14.1" text-anchor="start" font-weight="normal" fill="#000" >Prior</text>
<text x="291.2" y="271.8" font-size="14.1" text-anchor="start" font-weight="normal" fill="#000" >Update</text>
<text x="372.7" y="271.8" font-size="14.1" text-anchor="start" font-weight="normal" fill="#000" >Update</text>
<path d="M858.3 89.4L875.3 76.8L874 82.3C887 84.3 900.5 96 895.6 117.4C892.5 106 884.5 98 873.5 95.8L875.8 101.7z" fill="#000"/>
<path d="M527.9 410C529.5 401 539 385.5 553 381.2C564 378 575 381.5 580 385.5L583 394C577 388.5 567 383.2 557 384.4C544 386.5 534.5 399 532.2 409.2L536 407.6L529.6 416.2L523.2 412.4z" fill="#A6A6A6"/>
<linearGradient id="mg" x1="0" y1="1" x2="1" y2="0"><stop offset="0" stop-color="#DCE6FC"/><stop offset="0.55" stop-color="#C9D8F8"/><stop offset="1" stop-color="#A9BDEB"/></linearGradient>
<path d="M579.1 384.3L587.0 380.1L595.0 376.3L603.3 372.8L611.7 369.8L620.4 367.2L629.2 365.0L638.3 363.2L647.5 361.8L657.0 360.8L666.6 360.2L674.7 365.6L682.8 370.7L690.9 375.5L699.0 380.0L707.2 384.1L715.3 388.0L723.5 391.6L731.7 394.8L739.9 397.8L748.1 400.4L738.6 404.2L729.2 408.3L719.7 412.7L710.3 417.2L700.8 422.1L691.4 427.1L681.9 432.5L672.5 438.0L663.0 443.8L653.6 449.9L645.6 443.9L637.7 437.7L630.0 431.4L622.3 425.1L614.8 418.5L607.4 411.9L600.2 405.2L593.0 398.3L586.0 391.4z" fill="url(#mg)"/>
<path d="M579.1 384.3L587.7 393.1L596.6 401.8L605.6 410.3L614.8 418.5L624.2 426.7L633.8 434.6L643.6 442.3L653.6 449.9M583.3 382.0L592.1 390.8L601.0 399.3L610.2 407.7L619.5 415.9L629.0 423.9L638.7 431.7L648.6 439.2L658.7 446.6M587.4 379.8L596.3 388.5L605.4 397.0L614.7 405.3L624.1 413.4L633.7 421.2L643.5 428.9L653.5 436.3L663.6 443.5M591.5 377.9L600.6 386.5L609.8 394.9L619.1 403.1L628.7 411.0L638.4 418.7L648.2 426.2L658.2 433.5L668.4 440.5M595.6 376.0L604.7 384.6L614.0 392.9L623.5 400.9L633.1 408.8L642.9 416.3L652.8 423.7L662.9 430.8L673.1 437.6M599.6 374.3L608.9 382.8L618.3 391.0L627.8 399.0L637.5 406.7L647.3 414.1L657.3 421.3L667.5 428.2L677.8 434.9M603.6 372.7L612.9 381.1L622.4 389.2L632.0 397.1L641.8 404.7L651.7 412.0L661.8 419.0L672.0 425.8L682.3 432.3M607.5 371.3L616.9 379.6L626.5 387.6L636.2 395.4L646.0 402.8L656.0 410.0L666.1 416.9L676.3 423.5L686.7 429.8M611.4 370.0L620.9 378.2L630.5 386.1L640.3 393.7L650.2 401.1L660.2 408.1L670.3 414.8L680.6 421.2L691.0 427.4M615.2 368.7L624.8 376.9L634.5 384.7L644.3 392.2L654.3 399.4L664.3 406.3L674.5 412.9L684.8 419.1L695.2 425.1M619.0 367.6L628.6 375.7L638.4 383.4L648.3 390.8L658.3 397.9L668.4 404.6L678.6 411.0L688.9 417.1L699.3 422.9M622.7 366.6L632.4 374.6L642.3 382.2L652.2 389.5L662.2 396.4L672.3 403.0L682.6 409.3L692.9 415.2L703.3 420.8M626.4 365.7L636.2 373.5L646.1 381.1L656.0 388.2L666.1 395.0L676.2 401.5L686.5 407.6L696.8 413.3L707.3 418.8M630.0 364.8L639.9 372.6L649.8 380.0L659.8 387.1L669.9 393.7L680.1 400.1L690.3 406.0L700.7 411.6L711.1 416.8M633.6 364.1L643.5 371.8L653.4 379.1L663.5 386.0L673.6 392.5L683.8 398.7L694.1 404.5L704.4 409.9L714.9 415.0M637.1 363.4L647.1 371.0L657.0 378.2L667.1 385.0L677.3 391.4L687.5 397.4L697.8 403.1L708.1 408.4L718.6 413.2M640.6 362.8L650.6 370.3L660.6 377.4L670.7 384.1L680.8 390.4L691.1 396.3L701.4 401.7L711.7 406.8L722.1 411.5M644.0 362.3L654.0 369.7L664.1 376.7L674.2 383.2L684.4 389.4L694.6 395.1L704.9 400.5L715.2 405.4L725.7 409.9M647.4 361.8L657.4 369.1L667.5 376.0L677.6 382.4L687.8 388.5L698.0 394.1L708.3 399.3L718.7 404.0L729.1 408.4M650.7 361.4L660.8 368.6L670.9 375.4L681.0 381.7L691.2 387.6L701.4 393.1L711.7 398.1L722.1 402.7L732.4 406.9M654.0 361.1L664.1 368.2L674.2 374.8L684.3 381.0L694.5 386.8L704.7 392.1L715.0 397.0L725.4 401.5L735.7 405.5M657.2 360.8L667.3 367.8L677.4 374.3L687.6 380.4L697.8 386.1L708.0 391.3L718.3 396.0L728.6 400.3L738.9 404.1M660.4 360.5L670.5 367.4L680.6 373.9L690.8 379.9L701.0 385.4L711.2 390.4L721.4 395.0L731.7 399.2L742.0 402.8M663.5 360.3L673.6 367.2L683.8 373.5L693.9 379.4L704.1 384.7L714.3 389.7L724.6 394.1L734.8 398.1L745.1 401.6M666.6 360.2L676.7 366.9L686.8 373.1L697.0 378.9L707.2 384.1L717.4 388.9L727.6 393.2L737.8 397.1L748.1 400.4M579.1 384.3L589.0 379.1L599.1 374.5L609.6 370.6L620.4 367.2L631.5 364.5L642.9 362.5L654.6 361.0L666.6 360.2M582.1 387.4L592.0 382.1L602.3 377.5L612.9 373.4L623.7 370.0L634.9 367.2L646.3 365.1L658.1 363.5L670.1 362.6M585.1 390.5L595.2 385.2L605.5 380.4L616.2 376.3L627.1 372.8L638.3 370.0L649.8 367.7L661.6 366.0L673.6 364.9M588.2 393.6L598.4 388.2L608.8 383.4L619.6 379.2L630.6 375.7L641.8 372.7L653.4 370.3L665.2 368.5L677.2 367.2M591.4 396.7L601.7 391.3L612.2 386.4L623.0 382.2L634.1 378.5L645.4 375.4L657.0 372.8L668.8 370.9L680.9 369.5M594.6 399.9L605.0 394.4L615.7 389.4L626.6 385.1L637.7 381.3L649.1 378.0L660.7 375.4L672.5 373.3L684.6 371.8M598.0 403.1L608.5 397.5L619.2 392.5L630.2 388.0L641.4 384.1L652.8 380.7L664.4 377.9L676.3 375.7L688.4 374.1M601.4 406.3L612.0 400.6L622.8 395.5L633.8 390.9L645.1 386.9L656.6 383.4L668.2 380.5L680.1 378.1L692.2 376.3M604.8 409.5L615.6 403.8L626.5 398.5L637.6 393.8L648.9 389.7L660.4 386.0L672.1 383.0L684.0 380.4L696.1 378.4M608.4 412.8L619.2 406.9L630.2 401.6L641.4 396.8L652.8 392.5L664.3 388.7L676.1 385.4L688.0 382.7L700.1 380.5M612.0 416.1L623.0 410.1L634.1 404.6L645.3 399.7L656.7 395.2L668.3 391.3L680.1 387.9L692.0 385.0L704.1 382.6M615.8 419.4L626.8 413.3L638.0 407.7L649.3 402.6L660.8 398.0L672.4 393.9L684.2 390.3L696.1 387.2L708.2 384.7M619.6 422.7L630.7 416.5L642.0 410.7L653.4 405.5L664.9 400.8L676.6 396.5L688.4 392.7L700.3 389.4L712.4 386.6M623.5 426.0L634.7 419.7L646.1 413.8L657.5 408.4L669.1 403.5L680.8 399.0L692.6 395.1L704.5 391.6L716.6 388.6M627.5 429.4L638.8 422.9L650.2 416.9L661.7 411.3L673.4 406.2L685.1 401.6L696.9 397.4L708.8 393.7L720.9 390.5M631.6 432.8L643.0 426.1L654.5 419.9L666.1 414.2L677.7 408.9L689.5 404.1L701.3 399.7L713.2 395.8L725.2 392.3M635.8 436.2L647.3 429.4L658.8 423.0L670.5 417.1L682.2 411.6L693.9 406.6L705.8 401.9L717.7 397.8L729.7 394.1M640.1 439.6L651.7 432.6L663.3 426.1L675.0 419.9L686.7 414.3L698.5 409.0L710.3 404.1L722.2 399.7L734.2 395.7M644.5 443.0L656.1 435.9L667.8 429.1L679.5 422.8L691.3 416.9L703.1 411.4L714.9 406.3L726.8 401.6L738.7 397.4M649.0 446.4L660.7 439.1L672.5 432.2L684.2 425.6L696.0 419.5L707.8 413.8L719.7 408.4L731.5 403.5L743.4 398.9M653.6 449.9L665.4 442.4L677.2 435.2L689.0 428.5L700.8 422.1L712.6 416.1L724.5 410.5L736.3 405.2L748.1 400.4" fill="none" stroke="#10141c" stroke-width="0.55"/>
<ellipse cx="598.2" cy="397.4" rx="3.9" ry="2.4" fill="#FFC818"/>
<ellipse cx="621" cy="409.9" rx="3.9" ry="2.4" fill="#FFC818"/>
<ellipse cx="648.1" cy="416.5" rx="3.9" ry="2.4" fill="#FFC818"/>
<ellipse cx="673.3" cy="410.2" rx="3.9" ry="2.4" fill="#FFC818"/>
<ellipse cx="697.4" cy="399.4" rx="3.9" ry="2.4" fill="#FFC818"/>
<path d="M613.3 398.4L592.4 337.5" stroke="#000" stroke-width="2"/>
<path d="M589.7 329.8L597.3 338.2L590.2 340.7z" fill="#000"/>
<path d="M613.4 398.4V336" stroke="#C8174F" stroke-width="2.4"/>
<path d="M613.4 326.8L617.6 337.5H609.2z" fill="#C8174F"/>
<text x="603.6" y="362.6" font-size="18" font-style="italic">θ</text>
<linearGradient id="pbx" x1="0" y1="0" x2="1" y2="0"><stop offset="0" stop-color="#6E6E6E"/><stop offset="0.12" stop-color="#B4B4B4"/><stop offset="0.8" stop-color="#B0B0B0"/><stop offset="1" stop-color="#7C7C7C"/></linearGradient>
<rect x="666.4" y="344.4" width="14.4" height="28.2" fill="url(#pbx)"/><rect x="666.4" y="370.8" width="14.4" height="1.8" fill="#8A8A8A"/>
<path d="M673.7 373V399" stroke="#FFC000" stroke-width="3"/>
<path d="M673.7 407.5L669.5 397.5H677.9z" fill="#FFC000"/>
<text x="681.5" y="393.5" font-size="18" font-style="italic">d</text>
<text x="539.9" y="345.6" font-size="18.3" text-anchor="middle" font-weight="normal" fill="#000" >Orientation</text>
<text x="540.4" y="367.0" font-size="18.3" text-anchor="middle" font-weight="normal" fill="#000" >Consistency</text>
<text x="734.8" y="340.3" font-size="18.3" text-anchor="middle" font-weight="normal" fill="#000" >Position</text>
<text x="734.8" y="361.9" font-size="18.3" text-anchor="middle" font-weight="normal" fill="#000" >Consistency</text>
<text x="730.0" y="451.2" font-size="18.3" text-anchor="middle" font-weight="normal" fill="#000" >Mathematical</text>
<text x="730.5" y="473.6" font-size="18.3" text-anchor="middle" font-weight="normal" fill="#000" >Model</text>
<text x="568.6" y="514.3" font-size="18.3" text-anchor="start" font-weight="normal" fill="#000" >Form-Pose Data</text>
<clipPath id="sfc"><path d="M447.3 452L455 452.5L464.2 450.8L472 445.5L481.1 438.7L492 432L502.9 426.6L514 423L524.7 420.6L535 417.5L544 415L549 416.5L553.7 420.6L558 428L563.4 436.3L569 443L575.5 448.4L582 453L587.6 458L591.5 465L594.8 472.6L598.5 478.5L602.6 483.5L594 487L585.2 489.5L575 491.5L565.8 493.2L556 494.5L546.5 496.8L540 503L534.4 511.3L527 517.5L519.8 521L516.2 521.2L510 520.5L505.3 518.6L501 513L498 506.5L493.5 499L488.4 492L482.5 486.5L476.3 482.3L471 478L466.6 472.6L462.5 466L459.4 460.5L454 455.5z"/></clipPath>
<filter id="b3" x="-0.2" y="-0.2" width="1.4" height="1.4"><feGaussianBlur stdDeviation="2.3"/></filter>
<g clip-path="url(#sfc)"><g filter="url(#b3)">
<rect x="430" y="400" width="190" height="135" fill="#1AAE8C"/>
<ellipse cx="517.1" cy="459.3" rx="30" ry="4" transform="rotate(-16 517.1 459.3)" fill="#40F0D8" fill-opacity="1"/>
<ellipse cx="500.3" cy="490.6" rx="6" ry="8" transform="rotate(-20 500.3 490.6)" fill="#60F8E0" fill-opacity="1"/>
<ellipse cx="470.2" cy="458.2" rx="7" ry="5" transform="rotate(0 470.2 458.2)" fill="#40E0B0" fill-opacity="1"/>
<ellipse cx="479.1" cy="450.8" rx="14" ry="6" transform="rotate(-35 479.1 450.8)" fill="#30B070" fill-opacity="1"/>
<ellipse cx="536.1" cy="451.5" rx="40" ry="6.5" transform="rotate(-14 536.1 451.5)" fill="#8C9A14" fill-opacity="1"/>
<ellipse cx="578.5" cy="457.5" rx="14" ry="6" transform="rotate(-30 578.5 457.5)" fill="#60B040" fill-opacity="1"/>
<ellipse cx="514.8" cy="435.6" rx="40" ry="13.5" transform="rotate(-22 514.8 435.6)" fill="#94B414" fill-opacity="1"/>
<ellipse cx="540.5" cy="471.6" rx="41" ry="14" transform="rotate(-19 540.5 471.6)" fill="#94B414" fill-opacity="1"/>
<ellipse cx="514.8" cy="435.6" rx="35.5" ry="10.3" transform="rotate(-22 514.8 435.6)" fill="#F07800" fill-opacity="1"/>
<ellipse cx="540.5" cy="471.6" rx="36.5" ry="10.8" transform="rotate(-19 540.5 471.6)" fill="#F07800" fill-opacity="1"/>
<ellipse cx="514.2" cy="436.1" rx="32" ry="8.8" transform="rotate(-22 514.2 436.1)" fill="#C00E00" fill-opacity="1"/>
<ellipse cx="539.9" cy="472.0" rx="33" ry="9.4" transform="rotate(-19 539.9 472.0)" fill="#C00E00" fill-opacity="1"/>
<ellipse cx="508.1" cy="438.5" rx="25" ry="6.4" transform="rotate(-22 508.1 438.5)" fill="#660000" fill-opacity="1"/>
<ellipse cx="532.7" cy="474.7" rx="26" ry="6.8" transform="rotate(-19 532.7 474.7)" fill="#660000" fill-opacity="1"/>
<ellipse cx="495.9" cy="443.4" rx="9" ry="3.5" transform="rotate(-25 495.9 443.4)" fill="#3A0000" fill-opacity="0.8"/>
<ellipse cx="518.2" cy="479.8" rx="9" ry="3.5" transform="rotate(-22 518.2 479.8)" fill="#3A0000" fill-opacity="0.7"/>
<ellipse cx="485.6" cy="478.1" rx="19" ry="15" transform="rotate(-10 485.6 478.1)" fill="#00B0F0" fill-opacity="1"/>
<ellipse cx="485.6" cy="478.1" rx="14.5" ry="11.5" transform="rotate(-10 485.6 478.1)" fill="#0030D0" fill-opacity="1"/>
<ellipse cx="485.1" cy="478.5" rx="10.5" ry="8.6" transform="rotate(0 485.1 478.5)" fill="#00006C" fill-opacity="1"/>
<ellipse cx="516.2" cy="510.5" rx="19" ry="15" transform="rotate(-10 516.2 510.5)" fill="#00B0F0" fill-opacity="1"/>
<ellipse cx="516.2" cy="510.5" rx="14.5" ry="11.5" transform="rotate(-10 516.2 510.5)" fill="#0030D0" fill-opacity="1"/>
<ellipse cx="516.2" cy="511.1" rx="10.5" ry="8.6" transform="rotate(0 516.2 511.1)" fill="#00006C" fill-opacity="1"/>
<ellipse cx="561.8" cy="440.7" rx="13" ry="30" transform="rotate(-42 561.8 440.7)" fill="#00A8E8" fill-opacity="1"/>
<ellipse cx="562.9" cy="440.7" rx="8.5" ry="24" transform="rotate(-42 562.9 440.7)" fill="#0040D0" fill-opacity="1"/>
<ellipse cx="564.2" cy="441.2" rx="4.5" ry="17" transform="rotate(-42 564.2 441.2)" fill="#001C98" fill-opacity="1"/>
<ellipse cx="593.0" cy="474.3" rx="12" ry="23" transform="rotate(-38 593.0 474.3)" fill="#00A8E8" fill-opacity="1"/>
<ellipse cx="595.0" cy="473.4" rx="7.5" ry="17" transform="rotate(-38 595.0 473.4)" fill="#0048D0" fill-opacity="1"/>
<ellipse cx="587.5" cy="464.2" rx="5" ry="12" transform="rotate(-45 587.5 464.2)" fill="#0090C0" fill-opacity="1"/>
<ellipse cx="583.0" cy="472.0" rx="9" ry="14" transform="rotate(-40 583.0 472.0)" fill="#0A6A78" fill-opacity="0.8"/>
<ellipse cx="556.2" cy="453.0" rx="10" ry="5" transform="rotate(-30 556.2 453.0)" fill="#508020" fill-opacity="0.7"/>
<ellipse cx="465.0" cy="464.9" rx="6" ry="15" transform="rotate(-36 465.0 464.9)" fill="#FF9000" fill-opacity="1"/>
<ellipse cx="461.9" cy="464.4" rx="5.5" ry="14" transform="rotate(-36 461.9 464.4)" fill="#E00800" fill-opacity="1"/>
<ellipse cx="458.8" cy="463.5" rx="3.5" ry="12" transform="rotate(-36 458.8 463.5)" fill="#900000" fill-opacity="1"/>
<ellipse cx="496.3" cy="500.6" rx="6.5" ry="16" transform="rotate(-30 496.3 500.6)" fill="#FF9000" fill-opacity="1"/>
<ellipse cx="493.2" cy="500.6" rx="5.5" ry="15" transform="rotate(-30 493.2 500.6)" fill="#E00800" fill-opacity="1"/>
<ellipse cx="490.5" cy="500.6" rx="3.5" ry="12" transform="rotate(-30 490.5 500.6)" fill="#900000" fill-opacity="1"/>
<ellipse cx="451.2" cy="454.2" rx="6" ry="2.5" transform="rotate(5 451.2 454.2)" fill="#E05020" fill-opacity="1"/>
<ellipse cx="565.1" cy="494.8" rx="24" ry="4.5" transform="rotate(-9 565.1 494.8)" fill="#F0D800" fill-opacity="1"/>
<ellipse cx="569.6" cy="495.0" rx="15" ry="2.6" transform="rotate(-9 569.6 495.0)" fill="#FF8000" fill-opacity="1"/>
<ellipse cx="545.0" cy="501.5" rx="4" ry="9" transform="rotate(40 545.0 501.5)" fill="#90E020" fill-opacity="1"/>
<ellipse cx="538.3" cy="418.4" rx="12" ry="3" transform="rotate(-18 538.3 418.4)" fill="#D0C020" fill-opacity="1"/>
</g>
<ellipse cx="503.6" cy="437.8" rx="2.6" ry="0.9" transform="rotate(-20 503.6 437.8)" fill="#fff" fill-opacity="0.85"/>
<ellipse cx="532.6" cy="470.6" rx="2.6" ry="0.9" transform="rotate(-20 532.6 470.6)" fill="#fff" fill-opacity="0.85"/>
<circle cx="485.2" cy="480.8" r="0.8" fill="#fff"/><circle cx="516" cy="515" r="0.8" fill="#fff"/>
</g>
<linearGradient id="eT" x1="0" y1="0" x2="1" y2="0"><stop offset="0" stop-color="#FFE020"/><stop offset="0.12" stop-color="#F8F020"/><stop offset="0.3" stop-color="#E8F030"/><stop offset="0.5" stop-color="#FFF020"/><stop offset="0.72" stop-color="#F0F030"/><stop offset="0.86" stop-color="#90D890"/><stop offset="1" stop-color="#20B0E0"/></linearGradient>
<radialGradient id="eT2" cx="0.62" cy="0.75" r="0.35"><stop offset="0" stop-color="#FFD000" stop-opacity="0.9"/><stop offset="1" stop-color="#FFE000" stop-opacity="0"/></radialGradient>
<linearGradient id="eT3" x1="0" y1="0" x2="0" y2="1"><stop offset="0" stop-color="#40C8B0" stop-opacity="0"/><stop offset="0.6" stop-color="#40C8B0" stop-opacity="0"/><stop offset="1" stop-color="#30C0C0" stop-opacity="0.75"/></linearGradient>
<linearGradient id="eL" x1="0" y1="0" x2="1" y2="0"><stop offset="0" stop-color="#2070F0"/><stop offset="0.22" stop-color="#18A8E0"/><stop offset="0.45" stop-color="#30C8A0"/><stop offset="0.62" stop-color="#90D060"/><stop offset="0.8" stop-color="#F0D030"/><stop offset="1" stop-color="#FFB020"/></linearGradient>
<linearGradient id="eR" x1="0" y1="0" x2="1" y2="0"><stop offset="0" stop-color="#FFA020"/><stop offset="0.3" stop-color="#F0E030"/><stop offset="0.5" stop-color="#50D0A0"/><stop offset="0.72" stop-color="#20A0F0"/><stop offset="1" stop-color="#3060F0"/></linearGradient>
<linearGradient id="eR2" x1="0" y1="0" x2="0" y2="1"><stop offset="0" stop-color="#20A8E8" stop-opacity="0"/><stop offset="0.5" stop-color="#20A8E8" stop-opacity="0"/><stop offset="0.72" stop-color="#20A8E8" stop-opacity="0.85"/><stop offset="1" stop-color="#2090F0" stop-opacity="1"/></linearGradient>
<radialGradient id="eB" cx="0.5" cy="0.5" r="0.5"><stop offset="0" stop-color="#4038E0"/><stop offset="0.35" stop-color="#4050F0"/><stop offset="0.62" stop-color="#3088F8"/><stop offset="0.85" stop-color="#28B8E8"/><stop offset="1" stop-color="#30D0D8"/></radialGradient>
<ellipse cx="898.3" cy="400.4" rx="45.6" ry="8.5" fill="url(#eT)"/><ellipse cx="898.3" cy="400.4" rx="45.6" ry="8.5" fill="url(#eT3)"/><ellipse cx="898.3" cy="400.4" rx="45.6" ry="8.5" fill="url(#eT2)"/>
<ellipse cx="852.5" cy="452.4" rx="12.3" ry="46" fill="url(#eL)"/>
<ellipse cx="946.2" cy="450.6" rx="7.8" ry="45.8" fill="url(#eR)"/><ellipse cx="946.2" cy="450.6" rx="7.8" ry="45.8" fill="url(#eR2)"/>
<ellipse cx="900.4" cy="501.4" rx="45" ry="8.1" fill="url(#eB)"/>
<path d="M872.5 398.8h0M893.6 394.7h0M911.3 394.3h0M928.2 398.4h0M893.6 405h0M911.3 404.8h0M853 427.5h0M848.8 443.7h0M859.4 443.7h0M849.8 461.2h0M859.4 461.2h0M853.4 482.9h0M944.3 424.5h0M940.5 440.9h0M951.2 440.9h0M940.9 458.6h0M951.6 458.6h0M944.9 479.9h0M872.5 499.8h0M893.6 496.4h0M911.3 495.8h0M927.8 499.8h0M893.6 506.5h0M911.3 506.1h0" stroke="#FF0000" stroke-width="3.1" stroke-linecap="round"/>
<path d="M911.5 405.6L904.8 427.5" stroke="#000" stroke-width="2"/><path d="M902.3 435L901.6 424.8L908.8 427z" fill="#000"/>
<text x="901.5" y="449.5" font-size="16" text-anchor="middle" font-weight="normal" fill="#000" >CMM</text>
<text x="901.7" y="469.2" font-size="16" text-anchor="middle" font-weight="normal" fill="#000" >measured</text>
<text x="901.5" y="488.8" font-size="16" text-anchor="middle" font-weight="normal" fill="#000" >points</text>
<text x="1010.4" y="425.5" font-size="15.9" text-anchor="middle" font-weight="normal" fill="#000" >Pose Assessment</text>
<text x="1010.3" y="444.1" font-size="15.9" text-anchor="middle" font-weight="normal" fill="#000" >Vs. CMM</text>
<text x="1010.9" y="483.0" font-size="15.9" text-anchor="middle" font-weight="normal" fill="#000" >Form Assessment</text>
<text x="1011.2" y="502.2" font-size="15.9" text-anchor="middle" font-weight="normal" fill="#000" >Vs. LuphOScan</text>
<linearGradient id="pbg" x1="0" y1="0" x2="0" y2="1"><stop offset="0" stop-color="#D9DBE1"/><stop offset="0.35" stop-color="#E3E4E9"/><stop offset="0.62" stop-color="#F1F1F3"/><stop offset="0.8" stop-color="#E9E9EA"/><stop offset="0.93" stop-color="#F6F6F6"/><stop offset="1" stop-color="#F3F3F3"/></linearGradient>
<radialGradient id="pbg2" cx="0.3" cy="0.25" r="0.6"><stop offset="0" stop-color="#fff" stop-opacity="0.55"/><stop offset="1" stop-color="#fff" stop-opacity="0"/></radialGradient>
<radialGradient id="pbg3" cx="1" cy="0.18" r="0.8"><stop offset="0" stop-color="#AEB4CA" stop-opacity="0.6"/><stop offset="0.6" stop-color="#B8BCCC" stop-opacity="0.25"/><stop offset="1" stop-color="#C0C4D0" stop-opacity="0"/></radialGradient>
<clipPath id="phc"><rect x="871" y="122.4" width="199" height="195"/></clipPath>
<g clip-path="url(#phc)">
<rect x="871" y="122.4" width="199" height="195" fill="url(#pbg)"/><rect x="871" y="122.4" width="199" height="195" fill="url(#pbg2)"/><rect x="871" y="122.4" width="199" height="195" fill="url(#pbg3)"/>
<path d="M980.9 187.6L1011.4 191.3L961 244.5L942 241z" fill="#93A88F" fill-opacity="0.85"/>
<path d="M929.5 130L1003.9 137.9L1064.6 199.4L985 188.2z" fill="#F4F4F2"/>
<path d="M929.5 130L1003.9 137.9L1004.2 139.6L930.4 131.8z" fill="#E4E4E1"/>
<path d="M985 188.2L1064.6 199.4L1063.6 201.2L984.6 190.2z" fill="#D2D2CE"/>
<clipPath id="scr"><path d="M937.5 134.6L1001.2 142.5L1053.4 195.1L986.6 186.6z"/></clipPath>
<g clip-path="url(#scr)">
<path d="M937.5 134.6L1001.2 142.5L1053.4 195.1L986.6 186.6z" fill="#04EE12"/>
<path d="M940.0 134.9L942.1 135.2L991.4 187.2L989.2 186.9zM945.3 135.6L947.4 135.8L997.0 187.9L994.8 187.6zM950.6 136.2L952.7 136.5L1002.6 188.6L1000.3 188.3zM955.9 136.9L958.0 137.1L1008.1 189.3L1005.9 189.1zM961.2 137.5L963.4 137.8L1013.7 190.0L1011.5 189.8zM966.5 138.2L968.7 138.5L1019.3 190.8L1017.0 190.5zM971.8 138.9L974.0 139.1L1024.8 191.5L1022.6 191.2zM977.2 139.5L979.3 139.8L1030.4 192.2L1028.2 191.9zM982.5 140.2L984.6 140.4L1036.0 192.9L1033.7 192.6zM987.8 140.8L989.9 141.1L1041.5 193.6L1039.3 193.3zM993.1 141.5L995.2 141.8L1047.1 194.3L1044.9 194.0zM998.4 142.2L1000.5 142.4L1052.7 195.0L1050.4 194.7z" fill="#031A04"/>
<path d="M986.8 186.1L998 166L1017.4 169.7L1014.4 190z" fill="#3A5A30" fill-opacity="0.42"/>
</g>
<path d="M985.4 285L955.8 251.5L958.5 243.8L967.8 247.2L987.4 283.6z" fill="#93A88F" fill-opacity="0.85"/>
<linearGradient id="pc" x1="0" y1="0" x2="1" y2="0"><stop offset="0" stop-color="#30B0F0"/><stop offset="0.35" stop-color="#4060F0"/><stop offset="0.7" stop-color="#8048E8"/><stop offset="1" stop-color="#C8B0F8"/></linearGradient>
<path d="M957.5 244L982.5 239.6V250.4z" fill="url(#pc)"/>
<linearGradient id="pr" x1="0" y1="0" x2="0" y2="1"><stop offset="0" stop-color="#3a3a3a"/><stop offset="0.3" stop-color="#5a5a5a"/><stop offset="0.6" stop-color="#1e1e1e"/><stop offset="1" stop-color="#111"/></linearGradient>
<rect x="982" y="238.4" width="13" height="13.4" rx="1.5" fill="url(#pr)"/><rect x="994" y="239.6" width="30.5" height="11" rx="2" fill="url(#pr)"/>
<linearGradient id="po" x1="0" y1="0" x2="1" y2="0"><stop offset="0" stop-color="#C9C9C9"/><stop offset="0.4" stop-color="#F4F4F4"/><stop offset="1" stop-color="#A9A9A9"/></linearGradient>
<rect x="939.2" y="246" width="8" height="30.5" fill="url(#po)"/><rect x="941" y="276" width="4.2" height="5" fill="url(#po)"/>
<radialGradient id="sp" cx="0.38" cy="0.3" r="0.72"><stop offset="0" stop-color="#FFFFFF"/><stop offset="0.45" stop-color="#EFEFEF"/><stop offset="0.75" stop-color="#C4C4C4"/><stop offset="1" stop-color="#8C8C8C"/></radialGradient>
<circle cx="943" cy="231.8" r="16.9" fill="url(#sp)"/>
<circle cx="943" cy="234.8" r="1" fill="#111"/>
<ellipse cx="943" cy="244" rx="14" ry="3.6" fill="#F2F2F2" stroke="#F01010" stroke-width="2.8"/>
<ellipse cx="943" cy="244" rx="14" ry="3.6" fill="none" stroke="#200000" stroke-width="2.6" stroke-dasharray="2.6 3.8"/>
<ellipse cx="925" cy="311.5" rx="46" ry="3.5" fill="#E2E2E2"/>
<path d="M884.7 290.5L887 288.3H963.5L965.7 290.5V309L963.5 311H887L884.7 309z" fill="#55585B"/>
<path d="M884.7 290.5L887 288.3H898.5V311H887L884.7 309z" fill="#5D6063"/><path d="M898.5 288.3H906V311H898.5z" fill="#4D5053"/><path d="M906 289H921.5V311H906z" fill="#7B7E81"/>
<path d="M893.8 289V282Q926 276.5 958 282V289Q926 293.5 893.8 289z" fill="#53565A"/>
<ellipse cx="925.9" cy="281.6" rx="32.1" ry="2.9" fill="#6B7068"/><ellipse cx="925.9" cy="281.2" rx="29" ry="2" fill="#555B4C"/><ellipse cx="918" cy="280.6" rx="18" ry="0.9" fill="#C9CCC0" fill-opacity="0.7"/>
<rect x="941" y="276" width="4.2" height="5.2" fill="url(#po)"/>
<rect x="886" y="293" width="6" height="3.2" fill="#77797C"/><rect x="886" y="299.4" width="6" height="2.4" fill="#A9A9A9"/><rect x="886.4" y="304.3" width="5.2" height="2" fill="#C9A24A"/>
<circle cx="926.2" cy="298.4" r="0.7" fill="#222"/><circle cx="956" cy="298" r="0.7" fill="#222"/>
<g transform="translate(996.5 295) rotate(34)"><rect x="-12" y="-5.2" width="12" height="10.4" rx="2.2" fill="#4A4F53"/><rect x="-2.2" y="-5.8" width="2" height="11.6" fill="#25B5B5"/><rect x="0" y="-5.4" width="13.5" height="10.8" rx="1" fill="#585D62"/><rect x="-12.6" y="-4.2" width="1.8" height="8.4" rx="0.8" fill="#9FB2BA"/><rect x="5" y="-5.4" width="1" height="10.8" fill="#474B4F"/></g>
</g>
</svg>
</body></html>
